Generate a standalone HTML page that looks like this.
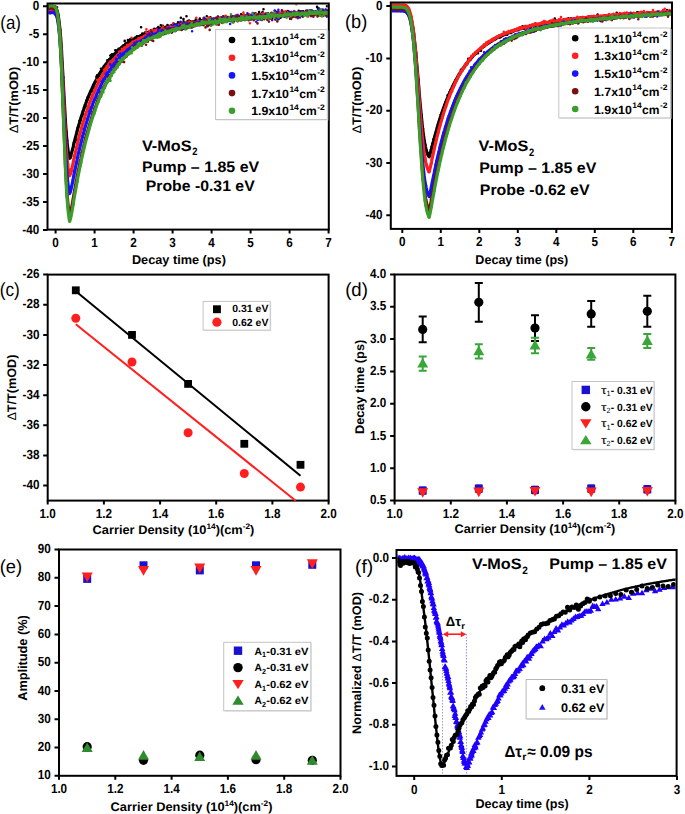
<!DOCTYPE html>
<html><head><meta charset="utf-8"><style>
html,body{margin:0;padding:0;background:#fff;}
body{width:685px;height:814px;overflow:hidden;}
svg{display:block;}
</style></head><body>
<svg width="685" height="814" viewBox="0 0 685 814" text-rendering="geometricPrecision" font-family='"Liberation Sans", sans-serif'>
<rect width="685" height="814" fill="#fff"/>
<defs><clipPath id="ca"><rect x="48.5" y="4.5" width="279.3" height="224.1"/></clipPath><clipPath id="cb"><rect x="391.8" y="3.5" width="279.2" height="224.4"/></clipPath><clipPath id="cf"><rect x="397.5" y="551" width="278.1" height="223.9"/></clipPath></defs>
<g clip-path="url(#ca)">
<path d="M45.9 6.3 46.2 6.3 46.6 6.3 47.0 6.3 47.4 6.3 47.8 6.3 48.2 6.3 48.6 6.3 49.0 6.3 49.4 6.3 49.8 6.3 50.1 6.3 50.5 6.3 50.9 6.3 51.3 6.3 51.7 6.3 52.1 6.4 52.5 6.4 52.9 6.4 53.3 6.5 53.6 6.6 54.0 6.7 54.4 6.8 54.8 7.1 55.2 7.4 55.6 7.8 56.0 8.3 56.4 9.0 56.8 9.9 57.2 11.0 57.6 12.4 57.9 14.1 58.3 16.2 58.7 18.7 59.1 21.6 59.5 25.1 59.9 29.0 60.3 33.5 60.7 38.4 61.1 43.9 61.5 49.9 61.8 56.3 62.2 63.0 62.6 70.1 63.0 77.3 63.4 84.7 63.8 92.0 64.2 99.2 64.6 106.3 65.0 113.0 65.3 119.4 65.7 125.4 66.1 130.9 66.5 135.9 66.9 140.3 67.3 144.3 67.7 147.7 68.1 150.6 68.5 153.1 68.9 155.2 69.2 157.0 69.6 158.3 70.0 157.6 70.4 156.7 70.8 155.5 71.2 154.3 71.6 152.9 72.0 151.4 72.4 149.9 72.8 148.3 73.2 146.8 73.5 145.2 73.9 143.6 74.3 142.0 74.7 140.5 75.1 138.9 75.5 137.4 75.9 135.9 76.3 134.4 76.7 132.9 77.1 131.4 77.4 130.0 77.8 128.6 78.2 127.2 78.6 125.8 79.0 124.4 79.4 123.1 79.8 121.8 80.2 120.5 80.6 119.2 81.0 117.9 81.3 116.6 81.7 115.4 82.1 114.2 82.5 113.0 82.9 111.8 83.3 110.6 83.7 109.5 84.1 108.4 84.5 107.2 84.8 106.1 85.2 105.0 85.6 104.0 86.0 102.9 86.4 101.9 86.8 100.8 87.2 99.8 87.6 98.8 88.0 97.8 88.4 96.9 88.8 95.9 89.1 94.9 89.5 94.0 89.9 93.1 90.3 92.2 90.7 91.3 91.1 90.4 91.5 89.5 91.9 88.7 92.3 87.8 92.7 87.0 93.0 86.1 93.4 85.3 93.8 84.5 94.2 83.7 94.6 82.9 95.0 82.2 95.4 81.4 95.8 80.7 96.2 79.9 96.6 79.2 96.9 78.5 97.3 77.7 97.7 77.0 98.1 76.3 98.5 75.7 98.9 75.0 99.3 74.3 99.7 73.7 100.1 73.0 100.5 72.4 100.8 71.7 101.2 71.1 101.6 70.5 102.0 69.9 102.4 69.3 102.8 68.7 103.2 68.1 103.6 67.5 104.0 67.0 104.3 66.4 104.7 65.9 105.1 65.3 105.5 64.8 105.9 64.2 106.3 63.7 106.7 63.2 107.1 62.7 107.5 62.2 107.9 61.7 108.2 61.2 108.6 60.7 109.0 60.2 109.4 59.7 109.8 59.3 110.2 58.8 110.6 58.4 111.0 57.9 111.4 57.5 111.8 57.0 112.2 56.6 112.5 56.2 112.9 55.7 113.3 55.3 113.7 54.9 114.1 54.5 114.5 54.1 114.9 53.7 115.3 53.3 115.7 52.9 116.1 52.6 116.4 52.2 116.8 51.8 117.2 51.4 117.6 51.1 118.0 50.7 118.4 50.4 118.8 50.0 119.2 49.7 119.6 49.3 120.0 49.0 120.3 48.7 120.7 48.3 121.1 48.0 121.5 47.7 121.9 47.4 122.3 47.0 122.7 46.7 123.1 46.4 123.5 46.1 123.8 45.8 124.2 45.5 124.6 45.2 125.0 45.0 125.4 44.7 125.8 44.4 126.2 44.1 126.6 43.8 127.0 43.6 127.4 43.3 127.8 43.0 128.1 42.8 128.5 42.5 128.9 42.3 129.3 42.0 129.7 41.8 130.1 41.5 130.5 41.3 130.9 41.0 131.3 40.8 131.7 40.5 132.0 40.3 132.4 40.1 132.8 39.9 133.2 39.6 133.6 39.4 134.0 39.2 134.4 39.0 134.8 38.8 135.2 38.5 135.6 38.3 135.9 38.1 136.3 37.9 136.7 37.7 137.1 37.5 137.5 37.3 137.9 37.1 138.3 36.9 138.7 36.7 139.1 36.5 139.4 36.3 139.8 36.2 140.2 36.0 140.6 35.8 141.0 35.6 141.4 35.4 141.8 35.3 142.2 35.1 142.6 34.9 143.0 34.7 143.3 34.6 143.7 34.4 144.1 34.2 144.5 34.1 144.9 33.9 145.3 33.7 145.7 33.6 146.1 33.4 146.5 33.3 146.9 33.1 147.2 33.0 147.6 32.8 148.0 32.7 148.4 32.5 148.8 32.4 149.2 32.2 149.6 32.1 150.0 31.9 150.4 31.8 150.8 31.7 151.2 31.5 151.5 31.4 151.9 31.2 152.3 31.1 152.7 31.0 153.1 30.8 153.5 30.7 153.9 30.6 154.3 30.5 154.7 30.3 155.1 30.2 155.4 30.1 155.8 30.0 156.2 29.8 156.6 29.7 157.0 29.6 157.4 29.5 157.8 29.4 158.2 29.2 158.6 29.1 158.9 29.0 159.3 28.9 159.7 28.8 160.1 28.7 160.5 28.6 160.9 28.5 161.3 28.3 161.7 28.2 162.1 28.1 162.5 28.0 162.8 27.9 163.2 27.8 163.6 27.7 164.0 27.6 164.4 27.5 164.8 27.4 165.2 27.3 165.6 27.2 166.0 27.1 166.4 27.0 166.8 26.9 167.1 26.8 167.5 26.7 167.9 26.6 168.3 26.5 168.7 26.5 169.1 26.4 169.5 26.3 169.9 26.2 170.3 26.1 170.7 26.0 171.0 25.9 171.4 25.8 171.8 25.7 172.2 25.7 172.6 25.6 173.0 25.5 173.4 25.4 173.8 25.3 174.2 25.2 174.6 25.2 174.9 25.1 175.3 25.0 175.7 24.9 176.1 24.8 176.5 24.8 176.9 24.7 177.3 24.6 177.7 24.5 178.1 24.5 178.4 24.4 178.8 24.3 179.2 24.2 179.6 24.2 180.0 24.1 180.4 24.0 180.8 23.9 181.2 23.9 181.6 23.8 182.0 23.7 182.3 23.6 182.7 23.6 183.1 23.5 183.5 23.4 183.9 23.4 184.3 23.3 184.7 23.2 185.1 23.2 185.5 23.1 185.9 23.0 186.2 23.0 186.6 22.9 187.0 22.8 187.4 22.8 187.8 22.7 188.2 22.6 188.6 22.6 189.0 22.5 189.4 22.5 189.8 22.4 190.2 22.3 190.5 22.3 190.9 22.2 191.3 22.2 191.7 22.1 192.1 22.0 192.5 22.0 192.9 21.9 193.3 21.9 193.7 21.8 194.1 21.7 194.4 21.7 194.8 21.6 195.2 21.6 195.6 21.5 196.0 21.5 196.4 21.4 196.8 21.3 197.2 21.3 197.6 21.2 197.9 21.2 198.3 21.1 198.7 21.1 199.1 21.0 199.5 21.0 199.9 20.9 200.3 20.9 200.7 20.8 201.1 20.8 201.5 20.7 201.8 20.7 202.2 20.6 202.6 20.5 203.0 20.5 203.4 20.4 203.8 20.4 204.2 20.3 204.6 20.3 205.0 20.2 205.4 20.2 205.7 20.2 206.1 20.1 206.5 20.1 206.9 20.0 207.3 20.0 207.7 19.9 208.1 19.9 208.5 19.8 208.9 19.8 209.3 19.7 209.7 19.7 210.0 19.6 210.4 19.6 210.8 19.5 211.2 19.5 211.6 19.5 212.0 19.4 212.4 19.4 212.8 19.3 213.2 19.3 213.5 19.2 213.9 19.2 214.3 19.1 214.7 19.1 215.1 19.1 215.5 19.0 215.9 19.0 216.3 18.9 216.7 18.9 217.1 18.8 217.5 18.8 217.8 18.8 218.2 18.7 218.6 18.7 219.0 18.6 219.4 18.6 219.8 18.6 220.2 18.5 220.6 18.5 221.0 18.4 221.3 18.4 221.7 18.4 222.1 18.3 222.5 18.3 222.9 18.2 223.3 18.2 223.7 18.2 224.1 18.1 224.5 18.1 224.9 18.0 225.3 18.0 225.6 18.0 226.0 17.9 226.4 17.9 226.8 17.9 227.2 17.8 227.6 17.8 228.0 17.7 228.4 17.7 228.8 17.7 229.2 17.6 229.5 17.6 229.9 17.6 230.3 17.5 230.7 17.5 231.1 17.4 231.5 17.4 231.9 17.4 232.3 17.3 232.7 17.3 233.0 17.3 233.4 17.2 233.8 17.2 234.2 17.2 234.6 17.1 235.0 17.1 235.4 17.1 235.8 17.0 236.2 17.0 236.6 17.0 237.0 16.9 237.3 16.9 237.7 16.9 238.1 16.8 238.5 16.8 238.9 16.8 239.3 16.7 239.7 16.7 240.1 16.7 240.5 16.6 240.8 16.6 241.2 16.6 241.6 16.5 242.0 16.5 242.4 16.5 242.8 16.4 243.2 16.4 243.6 16.4 244.0 16.3 244.4 16.3 244.8 16.3 245.1 16.2 245.5 16.2 245.9 16.2 246.3 16.2 246.7 16.1 247.1 16.1 247.5 16.1 247.9 16.0 248.3 16.0 248.7 16.0 249.0 15.9 249.4 15.9 249.8 15.9 250.2 15.9 250.6 15.8 251.0 15.8 251.4 15.8 251.8 15.7 252.2 15.7 252.5 15.7 252.9 15.7 253.3 15.6 253.7 15.6 254.1 15.6 254.5 15.5 254.9 15.5 255.3 15.5 255.7 15.5 256.1 15.4 256.5 15.4 256.8 15.4 257.2 15.3 257.6 15.3 258.0 15.3 258.4 15.3 258.8 15.2 259.2 15.2 259.6 15.2 260.0 15.2 260.4 15.1 260.7 15.1 261.1 15.1 261.5 15.0 261.9 15.0 262.3 15.0 262.7 15.0 263.1 14.9 263.5 14.9 263.9 14.9 264.3 14.9 264.6 14.8 265.0 14.8 265.4 14.8 265.8 14.8 266.2 14.7 266.6 14.7 267.0 14.7 267.4 14.7 267.8 14.6 268.2 14.6 268.5 14.6 268.9 14.6 269.3 14.5 269.7 14.5 270.1 14.5 270.5 14.5 270.9 14.4 271.3 14.4 271.7 14.4 272.1 14.4 272.4 14.3 272.8 14.3 273.2 14.3 273.6 14.3 274.0 14.2 274.4 14.2 274.8 14.2 275.2 14.2 275.6 14.1 276.0 14.1 276.3 14.1 276.7 14.1 277.1 14.0 277.5 14.0 277.9 14.0 278.3 14.0 278.7 14.0 279.1 13.9 279.5 13.9 279.9 13.9 280.2 13.9 280.6 13.8 281.0 13.8 281.4 13.8 281.8 13.8 282.2 13.7 282.6 13.7 283.0 13.7 283.4 13.7 283.8 13.7 284.1 13.6 284.5 13.6 284.9 13.6 285.3 13.6 285.7 13.6 286.1 13.5 286.5 13.5 286.9 13.5 287.3 13.5 287.7 13.4 288.0 13.4 288.4 13.4 288.8 13.4 289.2 13.4 289.6 13.3 290.0 13.3 290.4 13.3 290.8 13.3 291.2 13.3 291.6 13.2 291.9 13.2 292.3 13.2 292.7 13.2 293.1 13.2 293.5 13.1 293.9 13.1 294.3 13.1 294.7 13.1 295.1 13.1 295.5 13.0 295.8 13.0 296.2 13.0 296.6 13.0 297.0 13.0 297.4 12.9 297.8 12.9 298.2 12.9 298.6 12.9 299.0 12.9 299.4 12.8 299.7 12.8 300.1 12.8 300.5 12.8 300.9 12.8 301.3 12.7 301.7 12.7 302.1 12.7 302.5 12.7 302.9 12.7 303.3 12.6 303.6 12.6 304.0 12.6 304.4 12.6 304.8 12.6 305.2 12.5 305.6 12.5 306.0 12.5 306.4 12.5 306.8 12.5 307.2 12.5 307.5 12.4 307.9 12.4 308.3 12.4 308.7 12.4 309.1 12.4 309.5 12.3 309.9 12.3 310.3 12.3 310.7 12.3 311.1 12.3 311.4 12.3 311.8 12.2 312.2 12.2 312.6 12.2 313.0 12.2 313.4 12.2 313.8 12.2 314.2 12.1 314.6 12.1 315.0 12.1 315.3 12.1 315.7 12.1 316.1 12.1 316.5 12.0 316.9 12.0 317.3 12.0 317.7 12.0 318.1 12.0 318.5 11.9 318.9 11.9 319.2 11.9 319.6 11.9 320.0 11.9 320.4 11.9 320.8 11.8 321.2 11.8 321.6 11.8 322.0 11.8 322.4 11.8 322.8 11.8 323.1 11.8 323.5 11.7 323.9 11.7 324.3 11.7 324.7 11.7 325.1 11.7 325.5 11.7 325.9 11.6 326.3 11.6 326.7 11.6 327.0 11.6 327.4 11.6 327.8 11.6 328.2 11.5 328.6 11.5 329.0 11.5 329.4 11.5 329.8 11.5 330.2 11.5 330.6 11.5" stroke="#000000" stroke-width="3.20" fill="none" stroke-linejoin="round"/>
<path d="M45.7 5.4h0M46.6 5.3h0M47.0 7.0h0M48.1 7.3h0M49.1 6.3h0M50.1 6.3h0M50.9 10.4h0M51.1 6.4h0M52.0 6.5h0M52.7 6.3h0M53.5 6.5h0M54.2 10.6h0M55.1 6.0h0M56.2 8.4h0M56.9 9.2h0M57.6 12.7h0M58.4 15.2h0M59.3 26.7h0M60.2 29.8h0M60.9 37.9h0M61.2 49.1h0M62.1 62.5h0M63.3 77.4h0M63.9 92.8h0M64.2 106.5h0M65.7 119.8h0M66.4 131.5h0M67.2 140.5h0M67.6 148.2h0M68.8 153.9h0M69.5 156.2h0M70.4 157.9h0M71.2 156.2h0M71.8 152.8h0M72.6 149.9h0M73.2 146.7h0M73.7 143.2h0M74.7 141.5h0M75.2 140.4h0M76.5 140.1h0M76.8 131.6h0M77.6 127.9h0M78.7 125.9h0M79.5 120.8h0M80.0 120.9h0M80.8 117.9h0M82.1 115.4h0M82.9 111.4h0M83.2 114.7h0M84.0 107.3h0M85.0 104.7h0M85.6 106.6h0M86.5 100.2h0M87.4 99.5h0M87.6 97.3h0M89.1 95.3h0M89.2 94.2h0M90.6 91.5h0M91.1 91.1h0M92.2 89.1h0M92.5 90.8h0M93.6 87.1h0M94.3 84.5h0M95.0 81.8h0M95.4 81.9h0M96.4 76.7h0M97.1 75.3h0M98.4 76.5h0M99.0 73.8h0M100.0 74.2h0M100.2 72.1h0M101.0 68.7h0M101.9 69.8h0M102.6 70.8h0M103.9 66.1h0M104.4 68.0h0M105.4 65.0h0M106.2 64.0h0M106.6 64.4h0M107.3 60.3h0M108.3 60.0h0M109.0 59.6h0M109.4 59.8h0M110.3 55.5h0M111.2 54.9h0M112.1 54.3h0M113.1 55.0h0M114.0 54.2h0M114.3 57.3h0M115.3 50.2h0M116.3 54.8h0M117.0 50.4h0M117.3 51.8h0M118.5 48.9h0M119.4 50.9h0M120.2 48.6h0M120.5 49.9h0M121.4 47.4h0M122.0 46.7h0M122.9 47.1h0M123.6 45.2h0M124.7 40.9h0M125.5 43.6h0M125.9 44.7h0M126.8 43.0h0M127.9 40.0h0M128.4 42.3h0M129.6 42.0h0M130.1 39.2h0M130.6 39.3h0M131.5 40.0h0M132.7 39.3h0M133.2 40.3h0M134.2 39.7h0M134.8 37.7h0M135.9 40.4h0M136.0 37.5h0M136.9 36.2h0M137.8 36.7h0M138.6 39.2h0M139.2 36.6h0M140.5 36.0h0M141.1 27.2h0M141.5 37.1h0M142.3 33.6h0M143.3 34.7h0M144.5 33.6h0M145.0 32.6h0M146.0 33.4h0M146.3 31.8h0M147.6 35.0h0M148.4 34.4h0M148.8 32.2h0M149.4 34.5h0M150.1 32.2h0M151.1 30.2h0M151.9 30.5h0M152.4 30.5h0M153.7 34.3h0M154.2 28.7h0M155.1 31.3h0M155.8 31.2h0M156.8 28.6h0M157.8 28.8h0M158.3 27.0h0M159.2 29.5h0M160.0 28.6h0M160.8 25.3h0M161.1 30.5h0M162.1 27.2h0M162.8 25.8h0M164.0 29.0h0M164.7 33.9h0M165.0 27.7h0M165.8 28.4h0M167.0 27.3h0M167.5 25.1h0M168.5 30.8h0M168.8 27.9h0M169.6 26.9h0M170.9 26.0h0M171.1 27.9h0M172.2 27.8h0M173.0 25.5h0M173.6 23.5h0M174.8 25.2h0M175.2 25.8h0M175.7 26.6h0M177.1 25.1h0M178.0 22.3h0M178.6 27.5h0M179.1 23.5h0M179.9 23.0h0M180.9 17.7h0M181.9 22.3h0M182.7 23.9h0M183.5 19.0h0M183.5 21.3h0M184.6 23.4h0M185.2 24.1h0M186.5 16.2h0M187.2 21.5h0M187.6 23.3h0M188.4 20.8h0M189.0 20.6h0M189.9 21.0h0M191.0 22.5h0M191.6 23.1h0M192.2 23.2h0M193.6 22.1h0M193.7 22.8h0M195.0 23.2h0M195.8 19.4h0M196.3 21.4h0M197.3 22.6h0M198.0 21.0h0M199.0 21.0h0M199.8 18.5h0M200.0 19.7h0M201.4 21.3h0M201.6 22.6h0M202.6 21.6h0M203.4 18.9h0M204.1 17.9h0M204.6 19.4h0M205.6 19.4h0M206.8 16.3h0M207.5 26.0h0M208.4 21.9h0M209.0 19.7h0M209.4 20.0h0M210.4 17.3h0M211.0 19.5h0M211.9 23.9h0M212.5 20.6h0M213.2 18.8h0M214.6 19.0h0M214.9 19.0h0M216.0 18.6h0M216.3 18.0h0M217.5 21.4h0M217.9 16.5h0M219.0 23.6h0M220.1 19.7h0M220.6 18.1h0M221.2 20.1h0M222.0 17.9h0M222.7 19.2h0M223.9 19.0h0M224.4 19.0h0M225.6 18.8h0M226.1 20.2h0M226.5 18.3h0M227.7 19.8h0M228.1 17.1h0M228.9 17.7h0M230.3 18.0h0M230.7 17.3h0M231.1 16.2h0M232.6 16.5h0M233.2 17.0h0M233.6 20.8h0M234.3 17.8h0M235.6 15.8h0M236.3 17.1h0M237.2 15.3h0M237.7 18.0h0M238.8 16.8h0M239.3 17.6h0M240.3 16.6h0M241.0 14.2h0M241.5 17.5h0M242.1 17.2h0M243.4 14.9h0M243.8 18.0h0M244.8 16.6h0M245.7 15.4h0M246.4 16.1h0M247.0 17.4h0M247.8 15.6h0M248.3 15.5h0M249.4 16.3h0M250.3 15.1h0M251.4 16.8h0M251.8 15.3h0M252.6 17.2h0M253.0 14.4h0M254.3 15.3h0M255.3 13.3h0M255.8 16.3h0M256.6 15.2h0M257.5 14.7h0M258.0 14.6h0M259.1 12.1h0M259.3 18.2h0M260.7 14.9h0M261.5 14.9h0M261.9 13.2h0M262.6 12.1h0M263.5 9.3h0M264.5 16.6h0M264.7 14.7h0M265.7 13.7h0M266.2 16.2h0M267.6 13.6h0M268.2 13.6h0M269.0 16.5h0M270.1 15.4h0M270.3 16.4h0M271.3 13.1h0M272.2 18.7h0M273.0 15.7h0M274.0 15.7h0M274.5 14.9h0M275.1 11.1h0M276.2 16.4h0M276.6 16.0h0M277.2 12.0h0M278.5 19.2h0M278.8 12.6h0M280.2 13.0h0M280.6 17.8h0M281.2 14.0h0M282.5 12.2h0M282.7 15.1h0M283.9 12.6h0M284.2 12.8h0M285.1 13.0h0M285.7 11.8h0M286.8 13.5h0M287.8 11.1h0M288.7 12.7h0M289.0 13.7h0M290.1 18.8h0M291.1 12.2h0M291.5 12.9h0M292.4 14.0h0M292.8 14.9h0M293.7 15.1h0M295.0 14.8h0M295.7 16.3h0M296.5 13.8h0M297.2 15.3h0M297.7 15.2h0M298.7 10.9h0M299.7 14.6h0M299.9 11.2h0M300.7 11.6h0M301.3 14.7h0M302.5 11.4h0M303.1 11.4h0M304.0 13.0h0M305.0 13.6h0M305.7 13.3h0M306.4 13.4h0M307.4 12.2h0M307.9 11.3h0M309.0 12.5h0M309.7 12.7h0M310.0 13.4h0M311.2 10.7h0M311.7 10.8h0M312.4 11.7h0M313.2 15.3h0M314.3 14.5h0M314.7 14.5h0M315.5 12.5h0M316.4 11.4h0M317.1 6.9h0M318.0 8.6h0M319.0 8.6h0M319.3 10.1h0M320.8 12.0h0M321.5 11.6h0M322.3 11.1h0M322.4 14.4h0M323.5 14.1h0M324.2 13.0h0M325.2 11.4h0M325.7 10.2h0M327.0 6.3h0M327.1 12.4h0M328.6 12.3h0M329.0 14.2h0M329.9 10.8h0M330.3 13.3h0" stroke="#000000" stroke-width="2.6" stroke-linecap="round" fill="none"/>
<path d="M45.9 9.7 46.2 9.7 46.6 9.7 47.0 9.7 47.4 9.7 47.8 9.7 48.2 9.7 48.6 9.7 49.0 9.7 49.4 9.7 49.8 9.7 50.1 9.7 50.5 9.7 50.9 9.7 51.3 9.7 51.7 9.7 52.1 9.7 52.5 9.7 52.9 9.8 53.3 9.8 53.6 9.9 54.0 10.1 54.4 10.2 54.8 10.5 55.2 10.8 55.6 11.2 56.0 11.8 56.4 12.6 56.8 13.5 57.2 14.8 57.6 16.3 57.9 18.2 58.3 20.5 58.7 23.2 59.1 26.4 59.5 30.2 59.9 34.5 60.3 39.3 60.7 44.8 61.1 50.8 61.5 57.3 61.8 64.3 62.2 71.7 62.6 79.3 63.0 87.3 63.4 95.3 63.8 103.3 64.2 111.2 64.6 118.9 65.0 126.3 65.3 133.3 65.7 139.8 66.1 145.8 66.5 151.2 66.9 156.1 67.3 160.4 67.7 164.1 68.1 167.4 68.5 170.1 68.9 172.4 69.2 174.3 69.6 175.8 70.0 174.9 70.4 173.8 70.8 172.5 71.2 171.1 71.6 169.5 72.0 167.9 72.4 166.1 72.8 164.4 73.2 162.6 73.5 160.8 73.9 159.0 74.3 157.3 74.7 155.5 75.1 153.8 75.5 152.0 75.9 150.3 76.3 148.6 76.7 147.0 77.1 145.3 77.4 143.7 77.8 142.1 78.2 140.6 78.6 139.0 79.0 137.5 79.4 136.0 79.8 134.5 80.2 133.0 80.6 131.6 81.0 130.1 81.3 128.7 81.7 127.4 82.1 126.0 82.5 124.6 82.9 123.3 83.3 122.0 83.7 120.7 84.1 119.4 84.5 118.2 84.8 116.9 85.2 115.7 85.6 114.5 86.0 113.3 86.4 112.1 86.8 111.0 87.2 109.8 87.6 108.7 88.0 107.6 88.4 106.5 88.8 105.4 89.1 104.4 89.5 103.3 89.9 102.3 90.3 101.3 90.7 100.3 91.1 99.3 91.5 98.3 91.9 97.3 92.3 96.4 92.7 95.4 93.0 94.5 93.4 93.6 93.8 92.7 94.2 91.8 94.6 90.9 95.0 90.0 95.4 89.2 95.8 88.3 96.2 87.5 96.6 86.7 96.9 85.9 97.3 85.1 97.7 84.3 98.1 83.5 98.5 82.7 98.9 82.0 99.3 81.2 99.7 80.5 100.1 79.8 100.5 79.1 100.8 78.3 101.2 77.6 101.6 77.0 102.0 76.3 102.4 75.6 102.8 74.9 103.2 74.3 103.6 73.6 104.0 73.0 104.3 72.4 104.7 71.8 105.1 71.2 105.5 70.5 105.9 70.0 106.3 69.4 106.7 68.8 107.1 68.2 107.5 67.6 107.9 67.1 108.2 66.5 108.6 66.0 109.0 65.5 109.4 64.9 109.8 64.4 110.2 63.9 110.6 63.4 111.0 62.9 111.4 62.4 111.8 61.9 112.2 61.4 112.5 60.9 112.9 60.5 113.3 60.0 113.7 59.5 114.1 59.1 114.5 58.6 114.9 58.2 115.3 57.7 115.7 57.3 116.1 56.9 116.4 56.5 116.8 56.1 117.2 55.6 117.6 55.2 118.0 54.8 118.4 54.4 118.8 54.1 119.2 53.7 119.6 53.3 120.0 52.9 120.3 52.5 120.7 52.2 121.1 51.8 121.5 51.5 121.9 51.1 122.3 50.8 122.7 50.4 123.1 50.1 123.5 49.7 123.8 49.4 124.2 49.1 124.6 48.7 125.0 48.4 125.4 48.1 125.8 47.8 126.2 47.5 126.6 47.2 127.0 46.9 127.4 46.6 127.8 46.3 128.1 46.0 128.5 45.7 128.9 45.4 129.3 45.1 129.7 44.9 130.1 44.6 130.5 44.3 130.9 44.0 131.3 43.8 131.7 43.5 132.0 43.3 132.4 43.0 132.8 42.8 133.2 42.5 133.6 42.3 134.0 42.0 134.4 41.8 134.8 41.5 135.2 41.3 135.6 41.1 135.9 40.8 136.3 40.6 136.7 40.4 137.1 40.1 137.5 39.9 137.9 39.7 138.3 39.5 138.7 39.3 139.1 39.1 139.4 38.9 139.8 38.7 140.2 38.4 140.6 38.2 141.0 38.0 141.4 37.8 141.8 37.7 142.2 37.5 142.6 37.3 143.0 37.1 143.3 36.9 143.7 36.7 144.1 36.5 144.5 36.3 144.9 36.2 145.3 36.0 145.7 35.8 146.1 35.6 146.5 35.5 146.9 35.3 147.2 35.1 147.6 35.0 148.0 34.8 148.4 34.6 148.8 34.5 149.2 34.3 149.6 34.1 150.0 34.0 150.4 33.8 150.8 33.7 151.2 33.5 151.5 33.4 151.9 33.2 152.3 33.1 152.7 32.9 153.1 32.8 153.5 32.6 153.9 32.5 154.3 32.4 154.7 32.2 155.1 32.1 155.4 31.9 155.8 31.8 156.2 31.7 156.6 31.5 157.0 31.4 157.4 31.3 157.8 31.1 158.2 31.0 158.6 30.9 158.9 30.8 159.3 30.6 159.7 30.5 160.1 30.4 160.5 30.3 160.9 30.2 161.3 30.0 161.7 29.9 162.1 29.8 162.5 29.7 162.8 29.6 163.2 29.5 163.6 29.3 164.0 29.2 164.4 29.1 164.8 29.0 165.2 28.9 165.6 28.8 166.0 28.7 166.4 28.6 166.8 28.5 167.1 28.4 167.5 28.3 167.9 28.2 168.3 28.1 168.7 28.0 169.1 27.9 169.5 27.8 169.9 27.7 170.3 27.6 170.7 27.5 171.0 27.4 171.4 27.3 171.8 27.2 172.2 27.1 172.6 27.0 173.0 26.9 173.4 26.8 173.8 26.7 174.2 26.6 174.6 26.5 174.9 26.5 175.3 26.4 175.7 26.3 176.1 26.2 176.5 26.1 176.9 26.0 177.3 25.9 177.7 25.9 178.1 25.8 178.4 25.7 178.8 25.6 179.2 25.5 179.6 25.5 180.0 25.4 180.4 25.3 180.8 25.2 181.2 25.1 181.6 25.1 182.0 25.0 182.3 24.9 182.7 24.8 183.1 24.8 183.5 24.7 183.9 24.6 184.3 24.5 184.7 24.5 185.1 24.4 185.5 24.3 185.9 24.2 186.2 24.2 186.6 24.1 187.0 24.0 187.4 24.0 187.8 23.9 188.2 23.8 188.6 23.7 189.0 23.7 189.4 23.6 189.8 23.5 190.2 23.5 190.5 23.4 190.9 23.3 191.3 23.3 191.7 23.2 192.1 23.1 192.5 23.1 192.9 23.0 193.3 23.0 193.7 22.9 194.1 22.8 194.4 22.8 194.8 22.7 195.2 22.6 195.6 22.6 196.0 22.5 196.4 22.5 196.8 22.4 197.2 22.3 197.6 22.3 197.9 22.2 198.3 22.2 198.7 22.1 199.1 22.0 199.5 22.0 199.9 21.9 200.3 21.9 200.7 21.8 201.1 21.8 201.5 21.7 201.8 21.7 202.2 21.6 202.6 21.5 203.0 21.5 203.4 21.4 203.8 21.4 204.2 21.3 204.6 21.3 205.0 21.2 205.4 21.2 205.7 21.1 206.1 21.1 206.5 21.0 206.9 21.0 207.3 20.9 207.7 20.9 208.1 20.8 208.5 20.8 208.9 20.7 209.3 20.7 209.7 20.6 210.0 20.6 210.4 20.5 210.8 20.5 211.2 20.4 211.6 20.4 212.0 20.3 212.4 20.3 212.8 20.2 213.2 20.2 213.5 20.1 213.9 20.1 214.3 20.0 214.7 20.0 215.1 19.9 215.5 19.9 215.9 19.8 216.3 19.8 216.7 19.7 217.1 19.7 217.5 19.7 217.8 19.6 218.2 19.6 218.6 19.5 219.0 19.5 219.4 19.4 219.8 19.4 220.2 19.3 220.6 19.3 221.0 19.3 221.3 19.2 221.7 19.2 222.1 19.1 222.5 19.1 222.9 19.0 223.3 19.0 223.7 19.0 224.1 18.9 224.5 18.9 224.9 18.8 225.3 18.8 225.6 18.8 226.0 18.7 226.4 18.7 226.8 18.6 227.2 18.6 227.6 18.6 228.0 18.5 228.4 18.5 228.8 18.4 229.2 18.4 229.5 18.4 229.9 18.3 230.3 18.3 230.7 18.2 231.1 18.2 231.5 18.2 231.9 18.1 232.3 18.1 232.7 18.1 233.0 18.0 233.4 18.0 233.8 17.9 234.2 17.9 234.6 17.9 235.0 17.8 235.4 17.8 235.8 17.8 236.2 17.7 236.6 17.7 237.0 17.6 237.3 17.6 237.7 17.6 238.1 17.5 238.5 17.5 238.9 17.5 239.3 17.4 239.7 17.4 240.1 17.4 240.5 17.3 240.8 17.3 241.2 17.3 241.6 17.2 242.0 17.2 242.4 17.2 242.8 17.1 243.2 17.1 243.6 17.1 244.0 17.0 244.4 17.0 244.8 17.0 245.1 16.9 245.5 16.9 245.9 16.9 246.3 16.8 246.7 16.8 247.1 16.8 247.5 16.7 247.9 16.7 248.3 16.7 248.7 16.6 249.0 16.6 249.4 16.6 249.8 16.5 250.2 16.5 250.6 16.5 251.0 16.4 251.4 16.4 251.8 16.4 252.2 16.3 252.5 16.3 252.9 16.3 253.3 16.3 253.7 16.2 254.1 16.2 254.5 16.2 254.9 16.1 255.3 16.1 255.7 16.1 256.1 16.0 256.5 16.0 256.8 16.0 257.2 15.9 257.6 15.9 258.0 15.9 258.4 15.9 258.8 15.8 259.2 15.8 259.6 15.8 260.0 15.7 260.4 15.7 260.7 15.7 261.1 15.7 261.5 15.6 261.9 15.6 262.3 15.6 262.7 15.5 263.1 15.5 263.5 15.5 263.9 15.5 264.3 15.4 264.6 15.4 265.0 15.4 265.4 15.3 265.8 15.3 266.2 15.3 266.6 15.3 267.0 15.2 267.4 15.2 267.8 15.2 268.2 15.2 268.5 15.1 268.9 15.1 269.3 15.1 269.7 15.1 270.1 15.0 270.5 15.0 270.9 15.0 271.3 14.9 271.7 14.9 272.1 14.9 272.4 14.9 272.8 14.8 273.2 14.8 273.6 14.8 274.0 14.8 274.4 14.7 274.8 14.7 275.2 14.7 275.6 14.7 276.0 14.6 276.3 14.6 276.7 14.6 277.1 14.6 277.5 14.5 277.9 14.5 278.3 14.5 278.7 14.5 279.1 14.4 279.5 14.4 279.9 14.4 280.2 14.4 280.6 14.3 281.0 14.3 281.4 14.3 281.8 14.3 282.2 14.2 282.6 14.2 283.0 14.2 283.4 14.2 283.8 14.2 284.1 14.1 284.5 14.1 284.9 14.1 285.3 14.1 285.7 14.0 286.1 14.0 286.5 14.0 286.9 14.0 287.3 13.9 287.7 13.9 288.0 13.9 288.4 13.9 288.8 13.9 289.2 13.8 289.6 13.8 290.0 13.8 290.4 13.8 290.8 13.7 291.2 13.7 291.6 13.7 291.9 13.7 292.3 13.7 292.7 13.6 293.1 13.6 293.5 13.6 293.9 13.6 294.3 13.5 294.7 13.5 295.1 13.5 295.5 13.5 295.8 13.5 296.2 13.4 296.6 13.4 297.0 13.4 297.4 13.4 297.8 13.4 298.2 13.3 298.6 13.3 299.0 13.3 299.4 13.3 299.7 13.2 300.1 13.2 300.5 13.2 300.9 13.2 301.3 13.2 301.7 13.1 302.1 13.1 302.5 13.1 302.9 13.1 303.3 13.1 303.6 13.0 304.0 13.0 304.4 13.0 304.8 13.0 305.2 13.0 305.6 12.9 306.0 12.9 306.4 12.9 306.8 12.9 307.2 12.9 307.5 12.8 307.9 12.8 308.3 12.8 308.7 12.8 309.1 12.8 309.5 12.8 309.9 12.7 310.3 12.7 310.7 12.7 311.1 12.7 311.4 12.7 311.8 12.6 312.2 12.6 312.6 12.6 313.0 12.6 313.4 12.6 313.8 12.5 314.2 12.5 314.6 12.5 315.0 12.5 315.3 12.5 315.7 12.5 316.1 12.4 316.5 12.4 316.9 12.4 317.3 12.4 317.7 12.4 318.1 12.3 318.5 12.3 318.9 12.3 319.2 12.3 319.6 12.3 320.0 12.3 320.4 12.2 320.8 12.2 321.2 12.2 321.6 12.2 322.0 12.2 322.4 12.1 322.8 12.1 323.1 12.1 323.5 12.1 323.9 12.1 324.3 12.1 324.7 12.0 325.1 12.0 325.5 12.0 325.9 12.0 326.3 12.0 326.7 12.0 327.0 11.9 327.4 11.9 327.8 11.9 328.2 11.9 328.6 11.9 329.0 11.9 329.4 11.8 329.8 11.8 330.2 11.8 330.6 11.8" stroke="#ff1f1f" stroke-width="3.20" fill="none" stroke-linejoin="round"/>
<path d="M46.1 8.9h0M46.9 9.3h0M47.1 9.6h0M48.4 10.3h0M48.8 11.2h0M49.9 8.6h0M50.4 13.1h0M51.6 9.9h0M52.0 10.8h0M52.8 9.5h0M53.3 10.1h0M54.0 10.4h0M55.2 10.5h0M55.8 11.7h0M57.0 12.1h0M57.4 16.5h0M58.2 20.3h0M59.3 26.9h0M59.8 34.0h0M61.1 45.1h0M61.4 57.3h0M62.5 71.9h0M63.0 88.2h0M63.9 102.9h0M64.6 118.6h0M65.5 133.5h0M66.0 145.6h0M66.7 156.1h0M68.1 164.2h0M68.7 170.4h0M69.5 175.0h0M69.8 174.7h0M71.1 173.3h0M71.3 169.2h0M72.7 170.6h0M73.1 162.4h0M73.7 160.5h0M74.4 155.5h0M75.6 152.1h0M76.1 147.7h0M76.9 146.2h0M77.6 144.7h0M78.6 138.4h0M79.1 134.7h0M80.0 133.2h0M81.0 130.0h0M82.1 126.9h0M82.4 123.5h0M83.0 123.3h0M84.3 119.1h0M84.5 115.7h0M85.6 114.1h0M86.5 112.3h0M87.4 110.5h0M88.0 109.9h0M88.9 108.2h0M89.9 102.8h0M90.1 102.6h0M91.0 98.4h0M91.7 95.5h0M92.3 95.4h0M93.8 92.3h0M94.3 91.7h0M95.2 89.5h0M95.9 88.3h0M96.9 85.9h0M97.2 79.7h0M98.2 81.8h0M98.7 80.8h0M99.5 79.2h0M100.7 81.3h0M101.4 81.4h0M102.3 77.4h0M102.8 73.4h0M103.7 74.4h0M104.2 69.6h0M105.4 68.4h0M106.0 68.9h0M106.5 66.2h0M107.5 65.7h0M108.5 63.9h0M109.4 62.9h0M109.4 62.6h0M110.4 61.4h0M111.5 62.2h0M112.3 63.0h0M113.2 62.2h0M113.9 62.9h0M114.7 59.8h0M115.3 57.1h0M116.3 57.4h0M117.2 55.9h0M117.3 54.6h0M118.3 54.9h0M119.2 51.5h0M119.7 53.5h0M120.9 54.4h0M121.8 48.8h0M122.0 53.8h0M122.9 49.2h0M124.1 47.5h0M125.0 48.2h0M125.3 47.2h0M126.2 50.6h0M127.0 44.9h0M127.8 47.1h0M128.8 46.1h0M129.6 44.3h0M130.5 43.9h0M130.9 46.9h0M131.5 37.7h0M132.5 41.6h0M133.3 43.9h0M133.9 43.7h0M135.1 48.8h0M135.3 41.1h0M136.6 42.6h0M137.0 41.2h0M138.1 40.4h0M138.5 38.2h0M139.3 38.2h0M139.9 41.2h0M140.9 39.0h0M141.8 41.2h0M142.7 38.0h0M143.4 37.8h0M144.2 35.8h0M144.8 39.1h0M145.9 32.2h0M146.4 29.3h0M147.4 34.0h0M148.1 33.0h0M148.9 33.0h0M149.6 30.8h0M150.3 34.2h0M151.5 35.4h0M152.0 34.4h0M152.3 29.8h0M153.5 36.9h0M154.6 30.2h0M155.1 31.5h0M156.2 30.1h0M156.7 29.5h0M157.5 30.3h0M158.5 32.2h0M159.0 31.8h0M159.8 32.9h0M160.6 32.5h0M161.6 29.4h0M162.2 27.9h0M163.0 26.5h0M163.8 30.6h0M164.7 29.9h0M165.4 29.5h0M165.6 30.4h0M167.0 27.2h0M167.3 29.8h0M168.2 27.7h0M168.7 26.9h0M170.2 27.7h0M170.3 26.4h0M171.3 27.9h0M171.9 28.3h0M172.9 23.7h0M174.0 28.2h0M174.5 29.3h0M175.5 26.6h0M176.3 25.9h0M176.8 26.0h0M178.0 28.3h0M178.4 24.5h0M178.9 28.6h0M179.9 25.3h0M181.0 24.0h0M181.7 25.9h0M182.3 22.4h0M183.1 24.3h0M184.1 23.8h0M184.8 28.4h0M185.6 24.1h0M186.4 27.1h0M186.8 22.6h0M188.1 25.8h0M188.8 25.2h0M189.1 21.5h0M189.8 22.7h0M190.9 22.5h0M191.3 24.0h0M192.7 22.7h0M193.3 22.8h0M194.1 24.1h0M194.6 22.5h0M195.8 23.0h0M196.3 17.9h0M197.4 21.3h0M197.7 22.1h0M199.0 21.5h0M199.8 22.4h0M200.2 21.6h0M201.0 21.4h0M201.6 21.0h0M202.3 23.9h0M203.2 18.5h0M204.1 22.2h0M204.7 21.2h0M205.7 20.7h0M206.8 19.3h0M207.3 22.7h0M208.4 20.7h0M208.6 17.5h0M209.7 17.9h0M210.8 19.2h0M211.1 20.4h0M212.0 21.9h0M212.8 19.3h0M213.7 20.0h0M214.0 18.9h0M215.2 18.4h0M216.2 19.6h0M216.6 17.3h0M217.7 23.0h0M217.9 20.6h0M219.2 18.7h0M219.7 17.5h0M220.8 17.4h0M221.4 19.7h0M222.5 19.9h0M223.2 16.2h0M224.0 19.7h0M224.5 21.8h0M225.1 18.7h0M225.8 15.8h0M226.6 17.5h0M227.3 18.7h0M228.4 20.3h0M229.4 19.3h0M229.7 17.1h0M230.5 19.6h0M231.2 17.7h0M231.9 19.4h0M232.7 19.1h0M234.0 17.8h0M234.7 17.4h0M235.5 16.0h0M235.9 16.4h0M237.0 19.9h0M237.6 14.9h0M238.5 19.4h0M239.1 19.4h0M240.3 20.7h0M240.7 16.0h0M241.7 16.4h0M242.2 19.4h0M243.4 12.5h0M243.6 14.2h0M244.6 20.0h0M245.4 15.6h0M246.5 15.6h0M246.8 18.1h0M247.6 16.6h0M248.4 18.4h0M249.2 14.4h0M249.9 23.3h0M251.0 16.1h0M251.8 18.3h0M252.7 16.0h0M253.6 17.6h0M254.2 15.2h0M254.8 18.4h0M255.8 13.8h0M256.7 19.1h0M256.9 16.9h0M257.9 15.4h0M258.8 16.0h0M259.7 17.9h0M260.1 15.4h0M261.0 15.2h0M261.7 14.0h0M262.7 13.5h0M263.6 13.3h0M264.3 17.4h0M264.9 15.0h0M266.0 14.7h0M266.5 16.2h0M267.1 17.6h0M268.1 14.0h0M268.6 16.7h0M269.7 15.4h0M270.5 13.9h0M271.3 13.7h0M271.9 12.8h0M273.0 15.6h0M273.2 14.1h0M274.5 15.9h0M275.0 12.6h0M276.1 15.0h0M276.7 16.7h0M277.2 12.7h0M278.4 17.2h0M279.1 12.5h0M279.6 15.1h0M281.0 12.9h0M281.6 12.5h0M282.2 15.8h0M282.9 12.1h0M283.9 14.3h0M284.4 15.0h0M285.1 11.6h0M285.8 13.2h0M286.7 13.3h0M288.0 12.0h0M288.5 13.9h0M289.4 16.6h0M290.3 14.9h0M291.1 12.7h0M291.4 11.9h0M292.0 14.1h0M293.2 14.0h0M294.2 11.1h0M295.0 15.8h0M295.7 15.6h0M296.3 4.2h0M296.7 12.8h0M297.7 16.5h0M298.8 13.7h0M299.3 14.6h0M300.5 12.0h0M300.6 11.5h0M301.8 15.1h0M302.8 12.3h0M303.0 12.8h0M303.7 12.1h0M304.7 13.7h0M305.7 13.4h0M306.1 13.3h0M307.1 12.0h0M308.0 16.6h0M308.4 12.5h0M309.4 13.3h0M310.3 12.0h0M310.8 16.1h0M311.4 13.3h0M312.4 12.8h0M313.6 13.0h0M313.9 12.4h0M315.3 13.3h0M315.5 14.9h0M316.4 12.8h0M317.3 12.4h0M317.7 14.1h0M318.8 12.3h0M319.7 11.9h0M320.0 9.3h0M321.4 11.2h0M322.1 15.0h0M323.0 10.4h0M323.7 12.5h0M324.4 12.3h0M325.2 13.9h0M325.6 9.4h0M326.6 11.1h0M327.6 16.0h0M328.2 9.7h0M328.7 12.1h0M329.8 10.3h0M330.3 13.9h0" stroke="#ff1f1f" stroke-width="2.6" stroke-linecap="round" fill="none"/>
<path d="M45.9 12.4 46.2 12.4 46.6 12.4 47.0 12.4 47.4 12.4 47.8 12.4 48.2 12.4 48.6 12.4 49.0 12.5 49.4 12.5 49.8 12.5 50.1 12.5 50.5 12.5 50.9 12.5 51.3 12.5 51.7 12.5 52.1 12.5 52.5 12.5 52.9 12.6 53.3 12.7 53.6 12.8 54.0 12.9 54.4 13.1 54.8 13.4 55.2 13.7 55.6 14.2 56.0 14.8 56.4 15.6 56.8 16.7 57.2 18.0 57.6 19.7 57.9 21.8 58.3 24.2 58.7 27.2 59.1 30.7 59.5 34.8 59.9 39.5 60.3 44.8 60.7 50.8 61.1 57.3 61.5 64.4 61.8 72.1 62.2 80.1 62.6 88.5 63.0 97.1 63.4 105.9 63.8 114.6 64.2 123.3 64.6 131.7 65.0 139.7 65.3 147.3 65.7 154.5 66.1 161.0 66.5 166.9 66.9 172.3 67.3 177.0 67.7 181.1 68.1 184.6 68.5 187.5 68.9 190.0 69.2 192.1 69.6 193.7 70.0 192.8 70.4 191.5 70.8 190.1 71.2 188.5 71.6 186.7 72.0 184.9 72.4 183.0 72.8 181.0 73.2 179.0 73.5 177.0 73.9 175.1 74.3 173.1 74.7 171.1 75.1 169.2 75.5 167.3 75.9 165.4 76.3 163.5 76.7 161.7 77.1 159.8 77.4 158.1 77.8 156.3 78.2 154.5 78.6 152.8 79.0 151.1 79.4 149.4 79.8 147.8 80.2 146.2 80.6 144.5 81.0 143.0 81.3 141.4 81.7 139.9 82.1 138.3 82.5 136.8 82.9 135.4 83.3 133.9 83.7 132.5 84.1 131.1 84.5 129.7 84.8 128.3 85.2 126.9 85.6 125.6 86.0 124.3 86.4 123.0 86.8 121.7 87.2 120.4 87.6 119.2 88.0 117.9 88.4 116.7 88.8 115.5 89.1 114.3 89.5 113.2 89.9 112.0 90.3 110.9 90.7 109.8 91.1 108.7 91.5 107.6 91.9 106.5 92.3 105.5 92.7 104.4 93.0 103.4 93.4 102.4 93.8 101.4 94.2 100.4 94.6 99.4 95.0 98.4 95.4 97.5 95.8 96.6 96.2 95.6 96.6 94.7 96.9 93.8 97.3 92.9 97.7 92.1 98.1 91.2 98.5 90.4 98.9 89.5 99.3 88.7 99.7 87.9 100.1 87.1 100.5 86.3 100.8 85.5 101.2 84.7 101.6 83.9 102.0 83.2 102.4 82.4 102.8 81.7 103.2 81.0 103.6 80.3 104.0 79.6 104.3 78.9 104.7 78.2 105.1 77.5 105.5 76.8 105.9 76.2 106.3 75.5 106.7 74.9 107.1 74.3 107.5 73.6 107.9 73.0 108.2 72.4 108.6 71.8 109.0 71.2 109.4 70.6 109.8 70.0 110.2 69.5 110.6 68.9 111.0 68.3 111.4 67.8 111.8 67.2 112.2 66.7 112.5 66.2 112.9 65.7 113.3 65.1 113.7 64.6 114.1 64.1 114.5 63.6 114.9 63.1 115.3 62.7 115.7 62.2 116.1 61.7 116.4 61.3 116.8 60.8 117.2 60.3 117.6 59.9 118.0 59.4 118.4 59.0 118.8 58.6 119.2 58.2 119.6 57.7 120.0 57.3 120.3 56.9 120.7 56.5 121.1 56.1 121.5 55.7 121.9 55.3 122.3 54.9 122.7 54.5 123.1 54.2 123.5 53.8 123.8 53.4 124.2 53.1 124.6 52.7 125.0 52.4 125.4 52.0 125.8 51.7 126.2 51.3 126.6 51.0 127.0 50.6 127.4 50.3 127.8 50.0 128.1 49.7 128.5 49.3 128.9 49.0 129.3 48.7 129.7 48.4 130.1 48.1 130.5 47.8 130.9 47.5 131.3 47.2 131.7 46.9 132.0 46.7 132.4 46.4 132.8 46.1 133.2 45.8 133.6 45.5 134.0 45.3 134.4 45.0 134.8 44.7 135.2 44.5 135.6 44.2 135.9 44.0 136.3 43.7 136.7 43.5 137.1 43.2 137.5 43.0 137.9 42.7 138.3 42.5 138.7 42.3 139.1 42.0 139.4 41.8 139.8 41.6 140.2 41.3 140.6 41.1 141.0 40.9 141.4 40.7 141.8 40.5 142.2 40.3 142.6 40.0 143.0 39.8 143.3 39.6 143.7 39.4 144.1 39.2 144.5 39.0 144.9 38.8 145.3 38.6 145.7 38.4 146.1 38.2 146.5 38.0 146.9 37.9 147.2 37.7 147.6 37.5 148.0 37.3 148.4 37.1 148.8 37.0 149.2 36.8 149.6 36.6 150.0 36.4 150.4 36.3 150.8 36.1 151.2 35.9 151.5 35.8 151.9 35.6 152.3 35.4 152.7 35.3 153.1 35.1 153.5 34.9 153.9 34.8 154.3 34.6 154.7 34.5 155.1 34.3 155.4 34.2 155.8 34.0 156.2 33.9 156.6 33.7 157.0 33.6 157.4 33.5 157.8 33.3 158.2 33.2 158.6 33.0 158.9 32.9 159.3 32.8 159.7 32.6 160.1 32.5 160.5 32.4 160.9 32.2 161.3 32.1 161.7 32.0 162.1 31.8 162.5 31.7 162.8 31.6 163.2 31.5 163.6 31.3 164.0 31.2 164.4 31.1 164.8 31.0 165.2 30.8 165.6 30.7 166.0 30.6 166.4 30.5 166.8 30.4 167.1 30.3 167.5 30.2 167.9 30.0 168.3 29.9 168.7 29.8 169.1 29.7 169.5 29.6 169.9 29.5 170.3 29.4 170.7 29.3 171.0 29.2 171.4 29.1 171.8 29.0 172.2 28.9 172.6 28.8 173.0 28.7 173.4 28.6 173.8 28.5 174.2 28.4 174.6 28.3 174.9 28.2 175.3 28.1 175.7 28.0 176.1 27.9 176.5 27.8 176.9 27.7 177.3 27.6 177.7 27.5 178.1 27.4 178.4 27.3 178.8 27.2 179.2 27.2 179.6 27.1 180.0 27.0 180.4 26.9 180.8 26.8 181.2 26.7 181.6 26.6 182.0 26.6 182.3 26.5 182.7 26.4 183.1 26.3 183.5 26.2 183.9 26.1 184.3 26.1 184.7 26.0 185.1 25.9 185.5 25.8 185.9 25.7 186.2 25.7 186.6 25.6 187.0 25.5 187.4 25.4 187.8 25.4 188.2 25.3 188.6 25.2 189.0 25.1 189.4 25.1 189.8 25.0 190.2 24.9 190.5 24.8 190.9 24.8 191.3 24.7 191.7 24.6 192.1 24.6 192.5 24.5 192.9 24.4 193.3 24.3 193.7 24.3 194.1 24.2 194.4 24.1 194.8 24.1 195.2 24.0 195.6 23.9 196.0 23.9 196.4 23.8 196.8 23.7 197.2 23.7 197.6 23.6 197.9 23.5 198.3 23.5 198.7 23.4 199.1 23.4 199.5 23.3 199.9 23.2 200.3 23.2 200.7 23.1 201.1 23.0 201.5 23.0 201.8 22.9 202.2 22.9 202.6 22.8 203.0 22.7 203.4 22.7 203.8 22.6 204.2 22.6 204.6 22.5 205.0 22.5 205.4 22.4 205.7 22.3 206.1 22.3 206.5 22.2 206.9 22.2 207.3 22.1 207.7 22.1 208.1 22.0 208.5 21.9 208.9 21.9 209.3 21.8 209.7 21.8 210.0 21.7 210.4 21.7 210.8 21.6 211.2 21.6 211.6 21.5 212.0 21.5 212.4 21.4 212.8 21.4 213.2 21.3 213.5 21.3 213.9 21.2 214.3 21.2 214.7 21.1 215.1 21.1 215.5 21.0 215.9 21.0 216.3 20.9 216.7 20.9 217.1 20.8 217.5 20.8 217.8 20.7 218.2 20.7 218.6 20.6 219.0 20.6 219.4 20.5 219.8 20.5 220.2 20.4 220.6 20.4 221.0 20.3 221.3 20.3 221.7 20.2 222.1 20.2 222.5 20.1 222.9 20.1 223.3 20.0 223.7 20.0 224.1 20.0 224.5 19.9 224.9 19.9 225.3 19.8 225.6 19.8 226.0 19.7 226.4 19.7 226.8 19.6 227.2 19.6 227.6 19.6 228.0 19.5 228.4 19.5 228.8 19.4 229.2 19.4 229.5 19.3 229.9 19.3 230.3 19.3 230.7 19.2 231.1 19.2 231.5 19.1 231.9 19.1 232.3 19.1 232.7 19.0 233.0 19.0 233.4 18.9 233.8 18.9 234.2 18.9 234.6 18.8 235.0 18.8 235.4 18.7 235.8 18.7 236.2 18.7 236.6 18.6 237.0 18.6 237.3 18.5 237.7 18.5 238.1 18.5 238.5 18.4 238.9 18.4 239.3 18.3 239.7 18.3 240.1 18.3 240.5 18.2 240.8 18.2 241.2 18.2 241.6 18.1 242.0 18.1 242.4 18.0 242.8 18.0 243.2 18.0 243.6 17.9 244.0 17.9 244.4 17.9 244.8 17.8 245.1 17.8 245.5 17.8 245.9 17.7 246.3 17.7 246.7 17.6 247.1 17.6 247.5 17.6 247.9 17.5 248.3 17.5 248.7 17.5 249.0 17.4 249.4 17.4 249.8 17.4 250.2 17.3 250.6 17.3 251.0 17.3 251.4 17.2 251.8 17.2 252.2 17.2 252.5 17.1 252.9 17.1 253.3 17.1 253.7 17.0 254.1 17.0 254.5 17.0 254.9 16.9 255.3 16.9 255.7 16.9 256.1 16.8 256.5 16.8 256.8 16.8 257.2 16.7 257.6 16.7 258.0 16.7 258.4 16.6 258.8 16.6 259.2 16.6 259.6 16.5 260.0 16.5 260.4 16.5 260.7 16.5 261.1 16.4 261.5 16.4 261.9 16.4 262.3 16.3 262.7 16.3 263.1 16.3 263.5 16.2 263.9 16.2 264.3 16.2 264.6 16.1 265.0 16.1 265.4 16.1 265.8 16.1 266.2 16.0 266.6 16.0 267.0 16.0 267.4 15.9 267.8 15.9 268.2 15.9 268.5 15.9 268.9 15.8 269.3 15.8 269.7 15.8 270.1 15.7 270.5 15.7 270.9 15.7 271.3 15.6 271.7 15.6 272.1 15.6 272.4 15.6 272.8 15.5 273.2 15.5 273.6 15.5 274.0 15.5 274.4 15.4 274.8 15.4 275.2 15.4 275.6 15.3 276.0 15.3 276.3 15.3 276.7 15.3 277.1 15.2 277.5 15.2 277.9 15.2 278.3 15.2 278.7 15.1 279.1 15.1 279.5 15.1 279.9 15.0 280.2 15.0 280.6 15.0 281.0 15.0 281.4 14.9 281.8 14.9 282.2 14.9 282.6 14.9 283.0 14.8 283.4 14.8 283.8 14.8 284.1 14.8 284.5 14.7 284.9 14.7 285.3 14.7 285.7 14.7 286.1 14.6 286.5 14.6 286.9 14.6 287.3 14.6 287.7 14.5 288.0 14.5 288.4 14.5 288.8 14.5 289.2 14.4 289.6 14.4 290.0 14.4 290.4 14.4 290.8 14.3 291.2 14.3 291.6 14.3 291.9 14.3 292.3 14.2 292.7 14.2 293.1 14.2 293.5 14.2 293.9 14.2 294.3 14.1 294.7 14.1 295.1 14.1 295.5 14.1 295.8 14.0 296.2 14.0 296.6 14.0 297.0 14.0 297.4 13.9 297.8 13.9 298.2 13.9 298.6 13.9 299.0 13.9 299.4 13.8 299.7 13.8 300.1 13.8 300.5 13.8 300.9 13.7 301.3 13.7 301.7 13.7 302.1 13.7 302.5 13.7 302.9 13.6 303.3 13.6 303.6 13.6 304.0 13.6 304.4 13.5 304.8 13.5 305.2 13.5 305.6 13.5 306.0 13.5 306.4 13.4 306.8 13.4 307.2 13.4 307.5 13.4 307.9 13.4 308.3 13.3 308.7 13.3 309.1 13.3 309.5 13.3 309.9 13.3 310.3 13.2 310.7 13.2 311.1 13.2 311.4 13.2 311.8 13.2 312.2 13.1 312.6 13.1 313.0 13.1 313.4 13.1 313.8 13.0 314.2 13.0 314.6 13.0 315.0 13.0 315.3 13.0 315.7 13.0 316.1 12.9 316.5 12.9 316.9 12.9 317.3 12.9 317.7 12.9 318.1 12.8 318.5 12.8 318.9 12.8 319.2 12.8 319.6 12.8 320.0 12.7 320.4 12.7 320.8 12.7 321.2 12.7 321.6 12.7 322.0 12.6 322.4 12.6 322.8 12.6 323.1 12.6 323.5 12.6 323.9 12.5 324.3 12.5 324.7 12.5 325.1 12.5 325.5 12.5 325.9 12.5 326.3 12.4 326.7 12.4 327.0 12.4 327.4 12.4 327.8 12.4 328.2 12.3 328.6 12.3 329.0 12.3 329.4 12.3 329.8 12.3 330.2 12.3 330.6 12.2" stroke="#1414ff" stroke-width="3.20" fill="none" stroke-linejoin="round"/>
<path d="M45.7 11.8h0M46.4 12.5h0M47.3 13.2h0M48.0 13.1h0M49.3 8.6h0M49.6 13.3h0M50.4 13.1h0M51.4 13.0h0M51.9 12.7h0M52.7 11.7h0M53.5 12.0h0M54.6 13.2h0M55.2 14.6h0M56.2 14.6h0M56.8 17.0h0M57.7 20.3h0M58.7 24.3h0M59.4 30.5h0M59.9 39.6h0M60.4 49.5h0M61.4 62.0h0M62.6 80.1h0M63.0 97.5h0M63.9 114.7h0M64.7 126.8h0M65.0 147.1h0M66.2 161.3h0M67.0 172.1h0M67.6 180.8h0M68.1 187.7h0M69.0 191.6h0M70.2 192.0h0M70.6 189.8h0M71.9 185.9h0M72.2 182.5h0M72.8 179.7h0M73.9 175.3h0M75.0 171.3h0M75.3 168.7h0M76.6 162.8h0M77.0 158.4h0M77.8 156.5h0M78.9 152.5h0M79.1 149.0h0M79.9 147.8h0M81.1 142.4h0M82.1 140.7h0M82.5 136.1h0M83.7 134.1h0M83.8 129.2h0M84.8 129.3h0M85.3 126.8h0M86.3 122.8h0M87.0 119.1h0M87.7 118.4h0M88.9 114.8h0M89.5 111.6h0M90.6 111.5h0M91.0 107.5h0M91.8 106.3h0M92.6 104.9h0M93.4 102.1h0M94.3 100.3h0M94.8 99.6h0M96.0 97.5h0M96.4 96.5h0M97.0 93.0h0M98.0 90.6h0M98.9 91.8h0M99.9 87.6h0M100.1 86.0h0M101.0 86.5h0M101.7 81.6h0M102.5 81.3h0M103.3 79.3h0M104.2 80.7h0M105.0 78.8h0M105.8 73.7h0M106.5 74.8h0M107.3 72.4h0M108.4 75.0h0M109.2 71.8h0M109.5 69.5h0M110.3 64.4h0M111.6 66.1h0M112.1 70.7h0M112.9 65.9h0M114.0 65.6h0M114.9 63.3h0M115.1 65.3h0M116.0 58.9h0M116.8 59.5h0M117.3 60.7h0M118.2 55.4h0M119.1 61.0h0M119.6 59.6h0M120.4 53.6h0M121.5 55.5h0M122.1 55.3h0M123.4 53.0h0M123.5 55.3h0M124.3 54.5h0M125.8 51.7h0M125.8 53.6h0M127.0 49.6h0M127.7 51.1h0M128.4 50.9h0M129.3 49.1h0M130.1 48.8h0M131.0 47.4h0M131.4 48.9h0M132.1 46.7h0M133.2 48.5h0M134.2 43.5h0M134.8 42.7h0M135.3 43.8h0M136.3 44.3h0M136.9 41.7h0M137.7 45.4h0M138.4 42.9h0M139.2 42.7h0M140.6 42.8h0M141.4 41.4h0M141.8 42.2h0M142.5 40.5h0M143.1 40.3h0M144.1 41.2h0M144.7 38.9h0M145.6 37.2h0M146.3 38.4h0M147.5 34.9h0M147.9 39.2h0M149.2 33.6h0M149.3 36.0h0M150.3 38.7h0M151.0 39.2h0M152.0 32.5h0M152.8 34.5h0M153.3 36.3h0M153.9 34.0h0M155.1 35.2h0M155.8 34.0h0M156.6 33.2h0M157.6 32.2h0M158.3 29.9h0M158.6 33.7h0M159.4 33.3h0M160.3 32.3h0M161.2 31.2h0M161.9 30.1h0M163.2 30.9h0M163.6 32.3h0M164.1 30.8h0M165.0 29.9h0M165.6 33.6h0M167.0 29.5h0M167.3 30.2h0M168.6 27.9h0M169.0 30.9h0M169.5 28.3h0M171.0 32.0h0M171.5 28.6h0M172.0 28.4h0M173.0 31.3h0M173.7 24.7h0M174.3 29.3h0M175.4 31.0h0M176.4 28.7h0M176.7 25.3h0M177.7 26.4h0M178.2 28.3h0M178.9 27.1h0M180.0 25.3h0M180.4 21.8h0M181.6 29.4h0M182.7 26.0h0M182.8 23.5h0M183.9 28.9h0M184.9 27.0h0M185.3 24.4h0M186.6 25.3h0M187.1 25.1h0M187.5 23.2h0M188.9 25.6h0M189.2 24.2h0M190.5 24.2h0M191.2 25.5h0M191.6 27.4h0M192.1 31.3h0M193.0 24.2h0M194.1 25.8h0M194.8 22.9h0M195.3 25.1h0M196.6 21.9h0M196.9 23.0h0M197.9 23.8h0M199.0 23.9h0M199.6 25.2h0M200.0 21.4h0M200.8 25.0h0M201.5 24.8h0M202.8 24.2h0M203.3 22.4h0M204.5 18.5h0M205.2 22.7h0M205.9 24.0h0M206.5 20.7h0M207.4 24.1h0M208.1 21.8h0M209.2 22.1h0M210.0 20.6h0M210.6 19.2h0M211.2 23.6h0M212.2 20.2h0M212.8 19.4h0M213.9 22.8h0M214.7 22.0h0M215.5 19.4h0M216.0 18.4h0M216.5 18.3h0M217.3 21.2h0M218.6 20.6h0M219.4 21.2h0M220.1 19.9h0M220.4 19.3h0M221.1 21.9h0M222.2 17.2h0M222.7 17.7h0M223.9 19.1h0M224.7 18.7h0M225.2 20.7h0M226.4 20.6h0M227.0 21.0h0M227.3 17.7h0M228.6 20.1h0M229.4 19.5h0M230.1 24.0h0M230.8 17.5h0M231.4 21.2h0M232.4 21.0h0M233.1 19.8h0M233.5 16.6h0M234.9 17.5h0M235.1 20.0h0M236.3 18.7h0M237.3 15.5h0M237.8 15.9h0M238.4 18.3h0M239.3 16.9h0M239.9 19.3h0M240.8 17.0h0M241.2 18.3h0M242.4 20.0h0M243.4 17.9h0M243.7 17.2h0M244.8 17.4h0M245.4 16.6h0M246.2 18.0h0M247.4 13.4h0M247.9 14.7h0M248.9 17.2h0M249.2 17.4h0M250.4 16.8h0M251.2 17.6h0M251.6 15.6h0M252.8 13.1h0M253.7 18.3h0M253.9 15.1h0M255.2 17.3h0M255.6 16.3h0M256.2 21.8h0M257.4 15.6h0M258.1 19.8h0M258.5 17.3h0M259.9 19.3h0M260.3 18.2h0M261.3 15.6h0M261.8 20.0h0M262.9 16.7h0M263.6 16.4h0M264.1 16.5h0M264.9 15.3h0M265.6 14.1h0M266.8 17.1h0M267.5 16.4h0M268.4 15.1h0M268.6 16.8h0M270.1 15.7h0M270.4 16.5h0M271.4 13.8h0M272.1 20.1h0M273.2 16.4h0M273.7 15.4h0M274.6 10.5h0M275.0 16.2h0M275.6 16.1h0M276.9 18.5h0M277.5 12.6h0M278.4 9.9h0M278.8 18.4h0M279.8 15.8h0M280.8 15.0h0M281.4 14.6h0M282.3 10.8h0M282.8 15.4h0M283.4 15.9h0M284.4 16.8h0M285.0 16.6h0M285.7 14.1h0M286.5 13.4h0M287.3 14.7h0M288.6 14.5h0M289.3 11.8h0M290.2 13.1h0M290.8 18.2h0M291.8 12.6h0M292.5 14.1h0M292.9 15.2h0M293.8 13.8h0M294.5 11.8h0M295.6 15.3h0M296.5 14.1h0M297.1 14.6h0M297.9 16.5h0M298.3 13.7h0M299.5 14.9h0M300.0 17.5h0M301.0 11.3h0M301.9 15.7h0M302.3 11.6h0M303.3 12.6h0M303.9 14.9h0M304.9 12.3h0M305.2 15.0h0M306.7 13.6h0M307.0 10.5h0M308.2 10.8h0M309.0 13.2h0M309.5 14.7h0M310.2 12.5h0M311.2 15.9h0M312.2 10.9h0M312.9 15.5h0M313.5 14.2h0M314.1 12.1h0M314.7 12.2h0M316.0 11.7h0M316.4 12.0h0M317.3 10.9h0M318.3 13.6h0M318.5 9.5h0M319.9 9.7h0M320.1 11.4h0M321.3 12.2h0M321.7 13.0h0M322.8 9.6h0M323.3 12.2h0M324.3 10.9h0M324.8 11.8h0M326.2 10.0h0M326.8 16.6h0M327.3 13.7h0M328.3 10.5h0M329.0 11.3h0M329.8 14.2h0M330.8 13.2h0" stroke="#1414ff" stroke-width="2.6" stroke-linecap="round" fill="none"/>
<path d="M45.9 8.0 46.2 8.0 46.6 8.0 47.0 8.0 47.4 8.0 47.8 8.0 48.2 8.0 48.6 8.0 49.0 8.0 49.4 8.0 49.8 8.0 50.1 8.0 50.5 8.0 50.9 8.0 51.3 8.0 51.7 8.0 52.1 8.0 52.5 8.1 52.9 8.1 53.3 8.2 53.6 8.3 54.0 8.5 54.4 8.7 54.8 9.0 55.2 9.4 55.6 10.0 56.0 10.7 56.4 11.6 56.8 12.8 57.2 14.4 57.6 16.3 57.9 18.6 58.3 21.5 58.7 24.9 59.1 28.9 59.5 33.6 59.9 38.9 60.3 45.0 60.7 51.8 61.1 59.3 61.5 67.5 61.8 76.2 62.2 85.4 62.6 95.0 63.0 104.9 63.4 114.9 63.8 124.9 64.2 134.8 64.6 144.4 65.0 153.6 65.3 162.3 65.7 170.5 66.1 178.0 66.5 184.7 66.9 190.8 67.3 196.2 67.7 200.9 68.1 204.9 68.5 208.3 68.9 211.2 69.2 213.5 69.6 215.4 70.0 214.3 70.4 213.0 70.8 211.3 71.2 209.5 71.6 207.5 72.0 205.5 72.4 203.3 72.8 201.1 73.2 198.9 73.5 196.7 73.9 194.5 74.3 192.2 74.7 190.0 75.1 187.8 75.5 185.7 75.9 183.5 76.3 181.4 76.7 179.4 77.1 177.3 77.4 175.3 77.8 173.3 78.2 171.3 78.6 169.4 79.0 167.5 79.4 165.6 79.8 163.7 80.2 161.9 80.6 160.1 81.0 158.3 81.3 156.5 81.7 154.8 82.1 153.1 82.5 151.4 82.9 149.7 83.3 148.1 83.7 146.5 84.1 144.9 84.5 143.3 84.8 141.8 85.2 140.2 85.6 138.7 86.0 137.3 86.4 135.8 86.8 134.3 87.2 132.9 87.6 131.5 88.0 130.1 88.4 128.8 88.8 127.4 89.1 126.1 89.5 124.8 89.9 123.5 90.3 122.2 90.7 121.0 91.1 119.7 91.5 118.5 91.9 117.3 92.3 116.1 92.7 114.9 93.0 113.8 93.4 112.6 93.8 111.5 94.2 110.4 94.6 109.3 95.0 108.2 95.4 107.1 95.8 106.1 96.2 105.1 96.6 104.0 96.9 103.0 97.3 102.0 97.7 101.0 98.1 100.1 98.5 99.1 98.9 98.2 99.3 97.3 99.7 96.3 100.1 95.4 100.5 94.5 100.8 93.7 101.2 92.8 101.6 91.9 102.0 91.1 102.4 90.2 102.8 89.4 103.2 88.6 103.6 87.8 104.0 87.0 104.3 86.2 104.7 85.5 105.1 84.7 105.5 84.0 105.9 83.2 106.3 82.5 106.7 81.8 107.1 81.1 107.5 80.3 107.9 79.7 108.2 79.0 108.6 78.3 109.0 77.6 109.4 77.0 109.8 76.3 110.2 75.7 110.6 75.1 111.0 74.4 111.4 73.8 111.8 73.2 112.2 72.6 112.5 72.0 112.9 71.4 113.3 70.9 113.7 70.3 114.1 69.7 114.5 69.2 114.9 68.6 115.3 68.1 115.7 67.5 116.1 67.0 116.4 66.5 116.8 66.0 117.2 65.5 117.6 65.0 118.0 64.5 118.4 64.0 118.8 63.5 119.2 63.0 119.6 62.6 120.0 62.1 120.3 61.6 120.7 61.2 121.1 60.7 121.5 60.3 121.9 59.9 122.3 59.4 122.7 59.0 123.1 58.6 123.5 58.2 123.8 57.8 124.2 57.3 124.6 56.9 125.0 56.6 125.4 56.2 125.8 55.8 126.2 55.4 126.6 55.0 127.0 54.6 127.4 54.3 127.8 53.9 128.1 53.6 128.5 53.2 128.9 52.9 129.3 52.5 129.7 52.2 130.1 51.8 130.5 51.5 130.9 51.2 131.3 50.8 131.7 50.5 132.0 50.2 132.4 49.9 132.8 49.6 133.2 49.3 133.6 49.0 134.0 48.7 134.4 48.4 134.8 48.1 135.2 47.8 135.6 47.5 135.9 47.2 136.3 46.9 136.7 46.7 137.1 46.4 137.5 46.1 137.9 45.8 138.3 45.6 138.7 45.3 139.1 45.1 139.4 44.8 139.8 44.6 140.2 44.3 140.6 44.1 141.0 43.8 141.4 43.6 141.8 43.3 142.2 43.1 142.6 42.9 143.0 42.6 143.3 42.4 143.7 42.2 144.1 41.9 144.5 41.7 144.9 41.5 145.3 41.3 145.7 41.1 146.1 40.9 146.5 40.7 146.9 40.4 147.2 40.2 147.6 40.0 148.0 39.8 148.4 39.6 148.8 39.4 149.2 39.2 149.6 39.0 150.0 38.9 150.4 38.7 150.8 38.5 151.2 38.3 151.5 38.1 151.9 37.9 152.3 37.8 152.7 37.6 153.1 37.4 153.5 37.2 153.9 37.1 154.3 36.9 154.7 36.7 155.1 36.5 155.4 36.4 155.8 36.2 156.2 36.1 156.6 35.9 157.0 35.7 157.4 35.6 157.8 35.4 158.2 35.3 158.6 35.1 158.9 35.0 159.3 34.8 159.7 34.7 160.1 34.5 160.5 34.4 160.9 34.2 161.3 34.1 161.7 33.9 162.1 33.8 162.5 33.7 162.8 33.5 163.2 33.4 163.6 33.2 164.0 33.1 164.4 33.0 164.8 32.8 165.2 32.7 165.6 32.6 166.0 32.5 166.4 32.3 166.8 32.2 167.1 32.1 167.5 31.9 167.9 31.8 168.3 31.7 168.7 31.6 169.1 31.5 169.5 31.3 169.9 31.2 170.3 31.1 170.7 31.0 171.0 30.9 171.4 30.8 171.8 30.7 172.2 30.5 172.6 30.4 173.0 30.3 173.4 30.2 173.8 30.1 174.2 30.0 174.6 29.9 174.9 29.8 175.3 29.7 175.7 29.6 176.1 29.5 176.5 29.4 176.9 29.3 177.3 29.2 177.7 29.1 178.1 29.0 178.4 28.9 178.8 28.8 179.2 28.7 179.6 28.6 180.0 28.5 180.4 28.4 180.8 28.3 181.2 28.2 181.6 28.1 182.0 28.0 182.3 27.9 182.7 27.8 183.1 27.7 183.5 27.7 183.9 27.6 184.3 27.5 184.7 27.4 185.1 27.3 185.5 27.2 185.9 27.1 186.2 27.0 186.6 27.0 187.0 26.9 187.4 26.8 187.8 26.7 188.2 26.6 188.6 26.5 189.0 26.5 189.4 26.4 189.8 26.3 190.2 26.2 190.5 26.2 190.9 26.1 191.3 26.0 191.7 25.9 192.1 25.8 192.5 25.8 192.9 25.7 193.3 25.6 193.7 25.5 194.1 25.5 194.4 25.4 194.8 25.3 195.2 25.2 195.6 25.2 196.0 25.1 196.4 25.0 196.8 25.0 197.2 24.9 197.6 24.8 197.9 24.8 198.3 24.7 198.7 24.6 199.1 24.5 199.5 24.5 199.9 24.4 200.3 24.3 200.7 24.3 201.1 24.2 201.5 24.1 201.8 24.1 202.2 24.0 202.6 23.9 203.0 23.9 203.4 23.8 203.8 23.8 204.2 23.7 204.6 23.6 205.0 23.6 205.4 23.5 205.7 23.4 206.1 23.4 206.5 23.3 206.9 23.3 207.3 23.2 207.7 23.1 208.1 23.1 208.5 23.0 208.9 23.0 209.3 22.9 209.7 22.8 210.0 22.8 210.4 22.7 210.8 22.7 211.2 22.6 211.6 22.6 212.0 22.5 212.4 22.4 212.8 22.4 213.2 22.3 213.5 22.3 213.9 22.2 214.3 22.2 214.7 22.1 215.1 22.1 215.5 22.0 215.9 22.0 216.3 21.9 216.7 21.8 217.1 21.8 217.5 21.7 217.8 21.7 218.2 21.6 218.6 21.6 219.0 21.5 219.4 21.5 219.8 21.4 220.2 21.4 220.6 21.3 221.0 21.3 221.3 21.2 221.7 21.2 222.1 21.1 222.5 21.1 222.9 21.0 223.3 21.0 223.7 20.9 224.1 20.9 224.5 20.8 224.9 20.8 225.3 20.7 225.6 20.7 226.0 20.6 226.4 20.6 226.8 20.5 227.2 20.5 227.6 20.5 228.0 20.4 228.4 20.4 228.8 20.3 229.2 20.3 229.5 20.2 229.9 20.2 230.3 20.1 230.7 20.1 231.1 20.0 231.5 20.0 231.9 20.0 232.3 19.9 232.7 19.9 233.0 19.8 233.4 19.8 233.8 19.7 234.2 19.7 234.6 19.7 235.0 19.6 235.4 19.6 235.8 19.5 236.2 19.5 236.6 19.4 237.0 19.4 237.3 19.4 237.7 19.3 238.1 19.3 238.5 19.2 238.9 19.2 239.3 19.1 239.7 19.1 240.1 19.1 240.5 19.0 240.8 19.0 241.2 18.9 241.6 18.9 242.0 18.9 242.4 18.8 242.8 18.8 243.2 18.7 243.6 18.7 244.0 18.7 244.4 18.6 244.8 18.6 245.1 18.6 245.5 18.5 245.9 18.5 246.3 18.4 246.7 18.4 247.1 18.4 247.5 18.3 247.9 18.3 248.3 18.2 248.7 18.2 249.0 18.2 249.4 18.1 249.8 18.1 250.2 18.1 250.6 18.0 251.0 18.0 251.4 18.0 251.8 17.9 252.2 17.9 252.5 17.8 252.9 17.8 253.3 17.8 253.7 17.7 254.1 17.7 254.5 17.7 254.9 17.6 255.3 17.6 255.7 17.6 256.1 17.5 256.5 17.5 256.8 17.5 257.2 17.4 257.6 17.4 258.0 17.4 258.4 17.3 258.8 17.3 259.2 17.3 259.6 17.2 260.0 17.2 260.4 17.2 260.7 17.1 261.1 17.1 261.5 17.1 261.9 17.0 262.3 17.0 262.7 17.0 263.1 16.9 263.5 16.9 263.9 16.9 264.3 16.8 264.6 16.8 265.0 16.8 265.4 16.7 265.8 16.7 266.2 16.7 266.6 16.6 267.0 16.6 267.4 16.6 267.8 16.5 268.2 16.5 268.5 16.5 268.9 16.5 269.3 16.4 269.7 16.4 270.1 16.4 270.5 16.3 270.9 16.3 271.3 16.3 271.7 16.2 272.1 16.2 272.4 16.2 272.8 16.1 273.2 16.1 273.6 16.1 274.0 16.1 274.4 16.0 274.8 16.0 275.2 16.0 275.6 15.9 276.0 15.9 276.3 15.9 276.7 15.9 277.1 15.8 277.5 15.8 277.9 15.8 278.3 15.7 278.7 15.7 279.1 15.7 279.5 15.7 279.9 15.6 280.2 15.6 280.6 15.6 281.0 15.5 281.4 15.5 281.8 15.5 282.2 15.5 282.6 15.4 283.0 15.4 283.4 15.4 283.8 15.4 284.1 15.3 284.5 15.3 284.9 15.3 285.3 15.2 285.7 15.2 286.1 15.2 286.5 15.2 286.9 15.1 287.3 15.1 287.7 15.1 288.0 15.1 288.4 15.0 288.8 15.0 289.2 15.0 289.6 15.0 290.0 14.9 290.4 14.9 290.8 14.9 291.2 14.8 291.6 14.8 291.9 14.8 292.3 14.8 292.7 14.7 293.1 14.7 293.5 14.7 293.9 14.7 294.3 14.6 294.7 14.6 295.1 14.6 295.5 14.6 295.8 14.5 296.2 14.5 296.6 14.5 297.0 14.5 297.4 14.5 297.8 14.4 298.2 14.4 298.6 14.4 299.0 14.4 299.4 14.3 299.7 14.3 300.1 14.3 300.5 14.3 300.9 14.2 301.3 14.2 301.7 14.2 302.1 14.2 302.5 14.1 302.9 14.1 303.3 14.1 303.6 14.1 304.0 14.0 304.4 14.0 304.8 14.0 305.2 14.0 305.6 14.0 306.0 13.9 306.4 13.9 306.8 13.9 307.2 13.9 307.5 13.8 307.9 13.8 308.3 13.8 308.7 13.8 309.1 13.8 309.5 13.7 309.9 13.7 310.3 13.7 310.7 13.7 311.1 13.6 311.4 13.6 311.8 13.6 312.2 13.6 312.6 13.6 313.0 13.5 313.4 13.5 313.8 13.5 314.2 13.5 314.6 13.5 315.0 13.4 315.3 13.4 315.7 13.4 316.1 13.4 316.5 13.3 316.9 13.3 317.3 13.3 317.7 13.3 318.1 13.3 318.5 13.2 318.9 13.2 319.2 13.2 319.6 13.2 320.0 13.2 320.4 13.1 320.8 13.1 321.2 13.1 321.6 13.1 322.0 13.1 322.4 13.0 322.8 13.0 323.1 13.0 323.5 13.0 323.9 13.0 324.3 12.9 324.7 12.9 325.1 12.9 325.5 12.9 325.9 12.9 326.3 12.8 326.7 12.8 327.0 12.8 327.4 12.8 327.8 12.8 328.2 12.7 328.6 12.7 329.0 12.7 329.4 12.7 329.8 12.7 330.2 12.7 330.6 12.6" stroke="#7a0f0f" stroke-width="3.20" fill="none" stroke-linejoin="round"/>
<path d="M45.9 8.0h0M46.8 8.6h0M47.8 7.8h0M48.2 8.0h0M48.7 8.4h0M49.7 8.6h0M50.4 8.1h0M51.0 7.6h0M52.4 7.9h0M52.5 7.4h0M53.5 8.0h0M54.0 7.7h0M54.9 9.4h0M56.2 11.3h0M57.1 7.2h0M57.8 16.8h0M58.2 20.5h0M59.5 28.7h0M60.2 39.1h0M60.5 51.9h0M61.6 66.0h0M62.0 85.6h0M62.7 104.2h0M63.7 124.9h0M64.4 144.8h0M65.1 162.3h0M66.2 177.9h0M66.9 190.0h0M67.7 200.3h0M68.8 209.3h0M68.9 213.9h0M69.7 208.4h0M70.7 211.8h0M71.6 207.6h0M72.7 203.0h0M73.0 200.1h0M74.2 193.9h0M74.6 190.1h0M75.8 185.1h0M76.0 181.4h0M76.8 176.9h0M78.2 174.7h0M79.0 169.2h0M79.0 164.8h0M79.8 161.4h0M81.0 157.3h0M81.5 152.8h0M82.1 153.1h0M83.6 147.1h0M84.0 145.0h0M84.9 142.2h0M85.4 137.7h0M86.6 135.2h0M86.9 132.9h0M88.3 128.0h0M89.0 128.5h0M89.2 127.0h0M90.5 123.1h0M91.4 118.9h0M91.6 117.5h0M92.3 113.9h0M93.7 112.4h0M94.4 109.1h0M94.7 107.6h0M95.6 107.2h0M96.9 103.5h0M97.3 101.0h0M97.8 100.0h0M98.7 98.1h0M99.9 96.3h0M100.7 94.9h0M101.0 96.5h0M101.9 91.0h0M102.5 88.8h0M103.8 87.2h0M104.6 88.1h0M105.4 85.2h0M105.6 84.9h0M106.8 80.2h0M107.4 82.3h0M108.2 76.7h0M108.9 76.7h0M110.1 78.6h0M110.8 75.3h0M111.2 74.3h0M112.3 71.9h0M113.0 71.9h0M113.8 71.3h0M114.6 66.9h0M115.4 67.2h0M116.0 69.0h0M116.8 66.8h0M117.9 63.0h0M118.1 64.4h0M118.8 61.0h0M120.2 62.2h0M120.5 62.2h0M121.3 60.5h0M122.0 61.8h0M122.9 59.0h0M124.1 62.1h0M124.3 57.2h0M125.6 57.3h0M126.5 55.7h0M126.6 56.6h0M127.4 52.7h0M128.9 54.2h0M129.2 53.6h0M130.4 52.9h0M131.0 50.2h0M131.5 51.5h0M132.8 49.4h0M133.5 48.1h0M134.0 48.9h0M134.4 48.3h0M135.7 44.4h0M136.7 47.8h0M137.2 47.2h0M138.1 44.4h0M139.0 46.1h0M139.8 43.5h0M139.9 44.2h0M141.2 44.2h0M141.7 45.8h0M142.7 39.9h0M143.3 43.6h0M143.9 41.6h0M144.7 41.0h0M146.0 44.7h0M146.2 40.7h0M147.3 40.7h0M147.9 41.6h0M148.8 38.4h0M149.8 34.0h0M150.7 36.3h0M151.5 38.6h0M151.9 40.3h0M153.0 36.8h0M153.2 40.9h0M154.5 37.1h0M154.8 36.9h0M155.6 36.0h0M156.4 37.2h0M157.2 36.6h0M158.0 35.5h0M159.1 34.0h0M159.4 37.0h0M160.5 35.2h0M161.4 33.8h0M162.4 34.5h0M162.9 34.2h0M164.0 31.5h0M164.3 33.5h0M165.5 29.0h0M165.8 28.1h0M166.5 31.2h0M167.5 31.8h0M168.6 31.0h0M169.0 29.2h0M169.9 30.9h0M170.4 29.4h0M171.7 30.6h0M171.8 32.6h0M172.8 30.0h0M173.8 30.6h0M174.2 30.5h0M175.6 28.9h0M176.4 30.1h0M176.8 27.9h0M178.0 28.3h0M178.3 28.4h0M179.4 27.3h0M180.1 29.1h0M180.7 26.2h0M181.6 30.0h0M182.5 25.8h0M183.2 27.7h0M184.2 27.6h0M184.4 26.6h0M185.5 26.3h0M186.3 28.8h0M187.2 25.4h0M187.9 28.0h0M188.9 26.0h0M189.1 26.8h0M190.2 23.3h0M190.7 26.8h0M191.9 27.3h0M192.7 24.2h0M193.4 26.7h0M194.2 22.6h0M194.4 24.1h0M195.9 24.5h0M196.0 24.9h0M197.3 23.1h0M198.2 24.8h0M198.7 22.9h0M199.5 24.8h0M200.0 24.1h0M201.1 24.1h0M201.6 23.9h0M202.6 23.3h0M203.5 25.2h0M204.2 21.0h0M205.1 22.6h0M205.6 27.4h0M206.8 23.0h0M207.1 20.3h0M207.8 26.1h0M208.7 22.3h0M209.7 29.9h0M210.2 25.3h0M211.5 22.3h0M211.7 23.1h0M212.8 22.8h0M213.6 20.9h0M214.5 22.0h0M215.1 19.0h0M215.9 24.1h0M216.7 24.5h0M217.6 19.4h0M218.0 24.0h0M218.9 24.8h0M219.6 20.0h0M220.3 20.1h0M221.3 20.2h0M222.3 22.9h0M222.9 20.4h0M223.4 16.2h0M224.7 19.6h0M225.0 18.5h0M225.6 18.9h0M227.0 20.6h0M227.4 21.6h0M228.7 18.9h0M228.8 20.4h0M229.7 19.2h0M230.4 20.9h0M231.5 17.3h0M232.3 19.7h0M232.8 19.4h0M233.5 22.2h0M234.5 18.8h0M235.7 18.0h0M236.4 16.3h0M236.8 18.6h0M237.6 21.3h0M238.8 17.1h0M239.4 18.1h0M240.1 18.1h0M241.0 17.6h0M241.7 18.4h0M242.2 19.8h0M243.4 18.8h0M244.1 20.0h0M244.6 19.7h0M245.5 18.9h0M246.0 19.7h0M247.4 15.1h0M248.0 18.3h0M248.6 20.2h0M249.5 16.5h0M250.3 17.4h0M250.9 19.6h0M251.6 18.8h0M252.4 17.9h0M253.7 20.3h0M254.5 16.2h0M254.6 16.2h0M255.8 16.9h0M256.5 18.3h0M257.5 23.4h0M257.9 15.1h0M259.0 17.6h0M259.2 16.0h0M260.5 14.8h0M261.0 16.3h0M261.8 19.4h0M262.8 18.3h0M263.2 16.3h0M264.2 19.2h0M265.1 16.4h0M265.5 17.5h0M266.7 13.7h0M267.2 19.8h0M268.3 16.0h0M268.9 21.6h0M269.5 18.5h0M270.2 18.8h0M271.4 18.5h0M272.1 16.7h0M272.6 16.0h0M273.5 16.7h0M274.4 15.5h0M275.2 19.6h0M275.6 14.7h0M276.7 16.3h0M277.3 21.4h0M278.1 14.3h0M279.0 16.1h0M279.7 17.0h0M280.3 15.0h0M281.5 16.8h0M281.8 10.4h0M282.9 13.9h0M283.7 15.7h0M284.9 16.1h0M285.7 15.2h0M285.9 13.5h0M287.2 16.0h0M287.8 13.8h0M288.5 15.9h0M289.3 13.3h0M289.9 14.2h0M291.1 18.9h0M291.7 12.7h0M292.1 17.2h0M293.3 15.4h0M293.9 16.6h0M294.5 14.6h0M295.7 16.9h0M296.2 15.2h0M296.7 14.7h0M297.8 18.1h0M298.3 14.2h0M299.0 14.4h0M300.0 15.5h0M300.6 12.0h0M301.5 12.1h0M302.8 16.7h0M303.3 15.8h0M303.7 12.8h0M304.9 14.5h0M305.9 10.8h0M306.2 14.0h0M307.1 14.3h0M307.6 12.0h0M308.4 13.9h0M309.6 10.9h0M310.0 10.4h0M311.1 15.3h0M311.9 15.0h0M312.9 14.0h0M313.4 16.8h0M314.2 15.0h0M315.3 13.0h0M316.1 14.2h0M316.2 12.2h0M317.5 16.4h0M317.8 13.5h0M318.7 15.4h0M319.9 13.5h0M320.1 13.2h0M321.1 15.9h0M321.9 15.3h0M323.0 16.0h0M323.4 11.3h0M324.5 15.3h0M325.5 12.2h0M325.7 12.2h0M326.4 15.4h0M327.4 12.4h0M328.0 14.5h0M328.7 13.3h0M329.5 12.2h0M330.8 11.3h0" stroke="#7a0f0f" stroke-width="2.6" stroke-linecap="round" fill="none"/>
<path d="M45.9 5.7 46.2 5.7 46.6 5.7 47.0 5.7 47.4 5.7 47.8 5.7 48.2 5.7 48.6 5.7 49.0 5.7 49.4 5.7 49.8 5.7 50.1 5.7 50.5 5.8 50.9 5.8 51.3 5.8 51.7 5.8 52.1 5.8 52.5 5.9 52.9 5.9 53.3 6.0 53.6 6.1 54.0 6.3 54.4 6.5 54.8 6.8 55.2 7.2 55.6 7.8 56.0 8.6 56.4 9.5 56.8 10.8 57.2 12.4 57.6 14.4 57.9 16.8 58.3 19.8 58.7 23.3 59.1 27.5 59.5 32.4 59.9 38.0 60.3 44.3 60.7 51.4 61.1 59.1 61.5 67.6 61.8 76.7 62.2 86.3 62.6 96.3 63.0 106.5 63.4 116.9 63.8 127.4 64.2 137.6 64.6 147.6 65.0 157.2 65.3 166.3 65.7 174.7 66.1 182.5 66.5 189.6 66.9 195.9 67.3 201.5 67.7 206.4 68.1 210.6 68.5 214.1 68.9 217.1 69.2 219.5 69.6 221.5 70.0 220.4 70.4 219.0 70.8 217.3 71.2 215.4 71.6 213.3 72.0 211.2 72.4 208.9 72.8 206.7 73.2 204.4 73.5 202.0 73.9 199.7 74.3 197.4 74.7 195.1 75.1 192.9 75.5 190.6 75.9 188.4 76.3 186.2 76.7 184.0 77.1 181.9 77.4 179.8 77.8 177.7 78.2 175.7 78.6 173.7 79.0 171.7 79.4 169.7 79.8 167.8 80.2 165.9 80.6 164.0 81.0 162.2 81.3 160.3 81.7 158.5 82.1 156.8 82.5 155.0 82.9 153.3 83.3 151.6 83.7 149.9 84.1 148.3 84.5 146.6 84.8 145.0 85.2 143.4 85.6 141.9 86.0 140.3 86.4 138.8 86.8 137.3 87.2 135.8 87.6 134.4 88.0 132.9 88.4 131.5 88.8 130.1 89.1 128.7 89.5 127.4 89.9 126.1 90.3 124.7 90.7 123.4 91.1 122.1 91.5 120.9 91.9 119.6 92.3 118.4 92.7 117.2 93.0 116.0 93.4 114.8 93.8 113.6 94.2 112.5 94.6 111.3 95.0 110.2 95.4 109.1 95.8 108.0 96.2 106.9 96.6 105.9 96.9 104.8 97.3 103.8 97.7 102.8 98.1 101.8 98.5 100.8 98.9 99.8 99.3 98.9 99.7 97.9 100.1 97.0 100.5 96.1 100.8 95.1 101.2 94.2 101.6 93.4 102.0 92.5 102.4 91.6 102.8 90.8 103.2 89.9 103.6 89.1 104.0 88.3 104.3 87.5 104.7 86.7 105.1 85.9 105.5 85.1 105.9 84.3 106.3 83.6 106.7 82.8 107.1 82.1 107.5 81.4 107.9 80.7 108.2 80.0 108.6 79.3 109.0 78.6 109.4 77.9 109.8 77.2 110.2 76.6 110.6 75.9 111.0 75.3 111.4 74.6 111.8 74.0 112.2 73.4 112.5 72.8 112.9 72.2 113.3 71.6 113.7 71.0 114.1 70.4 114.5 69.8 114.9 69.3 115.3 68.7 115.7 68.2 116.1 67.6 116.4 67.1 116.8 66.5 117.2 66.0 117.6 65.5 118.0 65.0 118.4 64.5 118.8 64.0 119.2 63.5 119.6 63.0 120.0 62.5 120.3 62.1 120.7 61.6 121.1 61.1 121.5 60.7 121.9 60.2 122.3 59.8 122.7 59.4 123.1 58.9 123.5 58.5 123.8 58.1 124.2 57.7 124.6 57.2 125.0 56.8 125.4 56.4 125.8 56.0 126.2 55.6 126.6 55.3 127.0 54.9 127.4 54.5 127.8 54.1 128.1 53.8 128.5 53.4 128.9 53.0 129.3 52.7 129.7 52.3 130.1 52.0 130.5 51.6 130.9 51.3 131.3 51.0 131.7 50.6 132.0 50.3 132.4 50.0 132.8 49.7 133.2 49.4 133.6 49.0 134.0 48.7 134.4 48.4 134.8 48.1 135.2 47.8 135.6 47.5 135.9 47.2 136.3 47.0 136.7 46.7 137.1 46.4 137.5 46.1 137.9 45.8 138.3 45.6 138.7 45.3 139.1 45.0 139.4 44.8 139.8 44.5 140.2 44.3 140.6 44.0 141.0 43.8 141.4 43.5 141.8 43.3 142.2 43.0 142.6 42.8 143.0 42.6 143.3 42.3 143.7 42.1 144.1 41.9 144.5 41.6 144.9 41.4 145.3 41.2 145.7 41.0 146.1 40.8 146.5 40.5 146.9 40.3 147.2 40.1 147.6 39.9 148.0 39.7 148.4 39.5 148.8 39.3 149.2 39.1 149.6 38.9 150.0 38.7 150.4 38.5 150.8 38.3 151.2 38.1 151.5 37.9 151.9 37.8 152.3 37.6 152.7 37.4 153.1 37.2 153.5 37.0 153.9 36.9 154.3 36.7 154.7 36.5 155.1 36.4 155.4 36.2 155.8 36.0 156.2 35.9 156.6 35.7 157.0 35.5 157.4 35.4 157.8 35.2 158.2 35.1 158.6 34.9 158.9 34.7 159.3 34.6 159.7 34.4 160.1 34.3 160.5 34.1 160.9 34.0 161.3 33.8 161.7 33.7 162.1 33.6 162.5 33.4 162.8 33.3 163.2 33.1 163.6 33.0 164.0 32.9 164.4 32.7 164.8 32.6 165.2 32.5 165.6 32.3 166.0 32.2 166.4 32.1 166.8 31.9 167.1 31.8 167.5 31.7 167.9 31.6 168.3 31.4 168.7 31.3 169.1 31.2 169.5 31.1 169.9 31.0 170.3 30.8 170.7 30.7 171.0 30.6 171.4 30.5 171.8 30.4 172.2 30.3 172.6 30.2 173.0 30.1 173.4 29.9 173.8 29.8 174.2 29.7 174.6 29.6 174.9 29.5 175.3 29.4 175.7 29.3 176.1 29.2 176.5 29.1 176.9 29.0 177.3 28.9 177.7 28.8 178.1 28.7 178.4 28.6 178.8 28.5 179.2 28.4 179.6 28.3 180.0 28.2 180.4 28.1 180.8 28.0 181.2 27.9 181.6 27.8 182.0 27.7 182.3 27.6 182.7 27.5 183.1 27.5 183.5 27.4 183.9 27.3 184.3 27.2 184.7 27.1 185.1 27.0 185.5 26.9 185.9 26.8 186.2 26.8 186.6 26.7 187.0 26.6 187.4 26.5 187.8 26.4 188.2 26.3 188.6 26.3 189.0 26.2 189.4 26.1 189.8 26.0 190.2 25.9 190.5 25.9 190.9 25.8 191.3 25.7 191.7 25.6 192.1 25.6 192.5 25.5 192.9 25.4 193.3 25.3 193.7 25.3 194.1 25.2 194.4 25.1 194.8 25.0 195.2 25.0 195.6 24.9 196.0 24.8 196.4 24.7 196.8 24.7 197.2 24.6 197.6 24.5 197.9 24.5 198.3 24.4 198.7 24.3 199.1 24.3 199.5 24.2 199.9 24.1 200.3 24.1 200.7 24.0 201.1 23.9 201.5 23.9 201.8 23.8 202.2 23.7 202.6 23.7 203.0 23.6 203.4 23.5 203.8 23.5 204.2 23.4 204.6 23.4 205.0 23.3 205.4 23.2 205.7 23.2 206.1 23.1 206.5 23.0 206.9 23.0 207.3 22.9 207.7 22.9 208.1 22.8 208.5 22.7 208.9 22.7 209.3 22.6 209.7 22.6 210.0 22.5 210.4 22.5 210.8 22.4 211.2 22.3 211.6 22.3 212.0 22.2 212.4 22.2 212.8 22.1 213.2 22.1 213.5 22.0 213.9 22.0 214.3 21.9 214.7 21.8 215.1 21.8 215.5 21.7 215.9 21.7 216.3 21.6 216.7 21.6 217.1 21.5 217.5 21.5 217.8 21.4 218.2 21.4 218.6 21.3 219.0 21.3 219.4 21.2 219.8 21.2 220.2 21.1 220.6 21.1 221.0 21.0 221.3 21.0 221.7 20.9 222.1 20.9 222.5 20.8 222.9 20.8 223.3 20.7 223.7 20.7 224.1 20.6 224.5 20.6 224.9 20.5 225.3 20.5 225.6 20.4 226.0 20.4 226.4 20.3 226.8 20.3 227.2 20.2 227.6 20.2 228.0 20.2 228.4 20.1 228.8 20.1 229.2 20.0 229.5 20.0 229.9 19.9 230.3 19.9 230.7 19.8 231.1 19.8 231.5 19.8 231.9 19.7 232.3 19.7 232.7 19.6 233.0 19.6 233.4 19.5 233.8 19.5 234.2 19.5 234.6 19.4 235.0 19.4 235.4 19.3 235.8 19.3 236.2 19.2 236.6 19.2 237.0 19.2 237.3 19.1 237.7 19.1 238.1 19.0 238.5 19.0 238.9 19.0 239.3 18.9 239.7 18.9 240.1 18.8 240.5 18.8 240.8 18.8 241.2 18.7 241.6 18.7 242.0 18.6 242.4 18.6 242.8 18.6 243.2 18.5 243.6 18.5 244.0 18.4 244.4 18.4 244.8 18.4 245.1 18.3 245.5 18.3 245.9 18.3 246.3 18.2 246.7 18.2 247.1 18.1 247.5 18.1 247.9 18.1 248.3 18.0 248.7 18.0 249.0 18.0 249.4 17.9 249.8 17.9 250.2 17.8 250.6 17.8 251.0 17.8 251.4 17.7 251.8 17.7 252.2 17.7 252.5 17.6 252.9 17.6 253.3 17.6 253.7 17.5 254.1 17.5 254.5 17.5 254.9 17.4 255.3 17.4 255.7 17.4 256.1 17.3 256.5 17.3 256.8 17.3 257.2 17.2 257.6 17.2 258.0 17.1 258.4 17.1 258.8 17.1 259.2 17.0 259.6 17.0 260.0 17.0 260.4 17.0 260.7 16.9 261.1 16.9 261.5 16.9 261.9 16.8 262.3 16.8 262.7 16.8 263.1 16.7 263.5 16.7 263.9 16.7 264.3 16.6 264.6 16.6 265.0 16.6 265.4 16.5 265.8 16.5 266.2 16.5 266.6 16.4 267.0 16.4 267.4 16.4 267.8 16.3 268.2 16.3 268.5 16.3 268.9 16.3 269.3 16.2 269.7 16.2 270.1 16.2 270.5 16.1 270.9 16.1 271.3 16.1 271.7 16.0 272.1 16.0 272.4 16.0 272.8 16.0 273.2 15.9 273.6 15.9 274.0 15.9 274.4 15.8 274.8 15.8 275.2 15.8 275.6 15.8 276.0 15.7 276.3 15.7 276.7 15.7 277.1 15.6 277.5 15.6 277.9 15.6 278.3 15.6 278.7 15.5 279.1 15.5 279.5 15.5 279.9 15.4 280.2 15.4 280.6 15.4 281.0 15.4 281.4 15.3 281.8 15.3 282.2 15.3 282.6 15.3 283.0 15.2 283.4 15.2 283.8 15.2 284.1 15.1 284.5 15.1 284.9 15.1 285.3 15.1 285.7 15.0 286.1 15.0 286.5 15.0 286.9 15.0 287.3 14.9 287.7 14.9 288.0 14.9 288.4 14.9 288.8 14.8 289.2 14.8 289.6 14.8 290.0 14.8 290.4 14.7 290.8 14.7 291.2 14.7 291.6 14.7 291.9 14.6 292.3 14.6 292.7 14.6 293.1 14.6 293.5 14.5 293.9 14.5 294.3 14.5 294.7 14.5 295.1 14.4 295.5 14.4 295.8 14.4 296.2 14.4 296.6 14.3 297.0 14.3 297.4 14.3 297.8 14.3 298.2 14.2 298.6 14.2 299.0 14.2 299.4 14.2 299.7 14.2 300.1 14.1 300.5 14.1 300.9 14.1 301.3 14.1 301.7 14.0 302.1 14.0 302.5 14.0 302.9 14.0 303.3 13.9 303.6 13.9 304.0 13.9 304.4 13.9 304.8 13.9 305.2 13.8 305.6 13.8 306.0 13.8 306.4 13.8 306.8 13.7 307.2 13.7 307.5 13.7 307.9 13.7 308.3 13.7 308.7 13.6 309.1 13.6 309.5 13.6 309.9 13.6 310.3 13.5 310.7 13.5 311.1 13.5 311.4 13.5 311.8 13.5 312.2 13.4 312.6 13.4 313.0 13.4 313.4 13.4 313.8 13.4 314.2 13.3 314.6 13.3 315.0 13.3 315.3 13.3 315.7 13.3 316.1 13.2 316.5 13.2 316.9 13.2 317.3 13.2 317.7 13.1 318.1 13.1 318.5 13.1 318.9 13.1 319.2 13.1 319.6 13.0 320.0 13.0 320.4 13.0 320.8 13.0 321.2 13.0 321.6 12.9 322.0 12.9 322.4 12.9 322.8 12.9 323.1 12.9 323.5 12.9 323.9 12.8 324.3 12.8 324.7 12.8 325.1 12.8 325.5 12.8 325.9 12.7 326.3 12.7 326.7 12.7 327.0 12.7 327.4 12.7 327.8 12.6 328.2 12.6 328.6 12.6 329.0 12.6 329.4 12.6 329.8 12.5 330.2 12.5 330.6 12.5" stroke="#3c9c2c" stroke-width="3.20" fill="none" stroke-linejoin="round"/>
<path d="M45.6 6.6h0M46.6 6.3h0M47.5 4.9h0M48.4 5.2h0M48.7 7.3h0M49.7 6.2h0M50.8 5.4h0M51.1 5.4h0M51.7 5.6h0M52.7 5.9h0M53.7 6.1h0M54.8 7.3h0M55.6 6.8h0M56.1 9.0h0M56.8 11.1h0M57.6 14.0h0M58.1 19.5h0M58.8 27.4h0M59.8 38.3h0M61.0 50.4h0M61.2 67.0h0M62.0 83.1h0M63.3 106.6h0M63.9 128.0h0M64.8 147.5h0M65.1 165.8h0M66.4 183.1h0M66.6 195.8h0M67.4 206.0h0M68.4 213.9h0M69.4 219.5h0M69.7 219.9h0M70.5 217.0h0M71.3 212.8h0M72.2 208.6h0M73.5 204.2h0M73.6 200.4h0M74.7 195.5h0M75.4 191.0h0M76.1 186.8h0M77.4 181.5h0M77.7 177.9h0M78.6 173.4h0M79.0 169.5h0M80.4 166.0h0M81.2 162.6h0M81.6 158.6h0M82.3 154.5h0M83.0 151.0h0M83.7 147.6h0M84.9 145.7h0M85.7 141.3h0M86.4 138.9h0M87.0 136.2h0M88.0 134.6h0M88.8 129.8h0M89.3 128.9h0M90.5 125.0h0M91.0 122.6h0M91.8 119.2h0M92.3 116.8h0M93.8 114.6h0M94.5 113.7h0M95.2 111.3h0M96.0 107.3h0M96.5 106.3h0M97.1 103.5h0M98.5 101.8h0M99.2 97.8h0M99.7 98.0h0M100.8 96.3h0M101.4 95.4h0M101.9 90.0h0M102.5 89.6h0M103.4 92.3h0M104.5 87.8h0M105.4 86.2h0M105.9 81.1h0M106.6 82.7h0M107.1 80.1h0M107.9 79.1h0M108.8 80.8h0M110.1 80.5h0M110.5 80.8h0M111.7 75.9h0M112.2 71.7h0M113.1 72.6h0M113.5 70.9h0M114.3 72.2h0M115.4 69.6h0M116.4 66.9h0M117.1 67.5h0M117.6 67.4h0M118.8 63.4h0M119.0 60.0h0M119.7 64.3h0M120.4 60.9h0M121.2 60.5h0M121.9 58.6h0M123.2 57.8h0M123.9 58.6h0M124.5 57.6h0M125.7 56.3h0M126.5 53.9h0M127.2 53.7h0M128.0 53.8h0M128.5 53.7h0M129.6 51.8h0M129.9 53.4h0M130.9 52.9h0M131.7 53.3h0M132.1 47.4h0M133.1 48.3h0M133.7 50.1h0M134.5 49.5h0M135.2 47.4h0M136.2 48.3h0M137.4 47.7h0M137.8 44.0h0M139.0 45.4h0M139.2 42.8h0M140.3 44.3h0M140.7 44.6h0M142.1 45.5h0M142.3 43.9h0M143.1 40.4h0M144.3 42.2h0M144.8 40.4h0M145.7 41.6h0M146.4 39.9h0M147.5 39.7h0M147.8 38.7h0M148.6 37.8h0M149.2 39.0h0M150.1 38.6h0M151.2 38.2h0M152.1 38.5h0M152.7 38.0h0M153.2 36.7h0M154.5 37.4h0M155.1 36.1h0M156.2 37.1h0M156.8 37.3h0M157.6 37.6h0M158.3 33.9h0M158.7 37.1h0M160.0 32.8h0M160.6 36.6h0M161.0 33.7h0M161.7 34.0h0M162.8 34.6h0M163.3 32.3h0M164.7 32.2h0M165.3 30.4h0M166.3 33.8h0M167.1 32.1h0M167.4 31.6h0M168.6 33.1h0M168.8 32.1h0M169.7 32.5h0M170.9 31.6h0M171.3 30.0h0M172.5 29.0h0M173.3 30.7h0M174.1 30.9h0M174.9 31.3h0M175.5 28.2h0M176.1 30.0h0M176.7 27.8h0M177.4 29.1h0M178.6 29.3h0M179.4 29.1h0M179.7 28.2h0M181.1 27.8h0M181.7 27.3h0M182.1 25.8h0M183.0 25.4h0M184.0 24.8h0M184.5 25.7h0M185.5 29.4h0M185.9 26.7h0M186.7 26.5h0M187.9 27.4h0M188.6 26.3h0M189.6 26.1h0M189.8 27.7h0M190.6 24.8h0M191.6 23.1h0M192.8 26.3h0M193.1 25.4h0M194.1 24.8h0M195.0 26.2h0M195.7 24.5h0M196.5 23.4h0M197.0 23.2h0M197.9 23.6h0M198.9 25.1h0M199.7 23.2h0M200.6 23.1h0M200.9 22.9h0M201.8 21.4h0M203.0 21.9h0M203.6 22.2h0M204.3 23.2h0M205.3 21.6h0M205.6 21.8h0M206.4 22.6h0M207.2 23.1h0M208.3 22.7h0M208.5 19.8h0M209.9 19.6h0M210.2 23.0h0M211.2 25.8h0M212.3 21.0h0M212.9 22.0h0M213.4 24.5h0M214.0 22.6h0M215.1 20.1h0M215.5 22.1h0M216.4 24.2h0M217.6 22.4h0M218.1 20.9h0M218.7 23.0h0M219.5 18.6h0M220.6 20.9h0M221.7 19.4h0M222.5 20.7h0M222.9 22.7h0M223.7 18.7h0M224.3 22.3h0M225.4 18.5h0M226.3 21.9h0M226.8 22.1h0M227.3 19.8h0M228.5 19.7h0M229.3 17.5h0M229.9 19.8h0M231.0 14.4h0M231.6 20.5h0M232.6 22.4h0M232.9 19.0h0M233.6 17.8h0M234.7 19.8h0M235.5 20.0h0M236.3 19.7h0M237.3 21.0h0M238.0 19.0h0M238.3 19.4h0M239.1 18.8h0M239.8 18.9h0M241.1 20.6h0M241.3 16.8h0M242.8 19.4h0M243.1 16.7h0M243.8 19.5h0M245.1 19.2h0M245.5 20.1h0M246.5 16.2h0M246.9 18.5h0M248.2 17.4h0M248.8 18.9h0M249.5 17.0h0M250.0 17.1h0M250.7 17.6h0M251.5 17.4h0M252.5 13.6h0M253.4 18.3h0M254.2 15.8h0M254.9 16.7h0M256.0 17.2h0M256.8 18.6h0M257.4 18.2h0M258.1 17.8h0M258.8 18.8h0M259.4 16.1h0M260.1 16.2h0M261.2 16.9h0M261.7 19.2h0M263.0 17.8h0M263.8 18.0h0M264.4 17.1h0M265.3 17.1h0M266.1 18.1h0M266.7 18.3h0M267.6 13.9h0M268.2 15.2h0M269.0 16.9h0M269.4 14.2h0M270.7 18.3h0M270.9 16.1h0M271.7 14.4h0M272.9 15.2h0M274.0 17.4h0M274.3 12.7h0M274.8 16.3h0M276.0 15.0h0M276.7 15.5h0M277.8 14.8h0M278.4 17.4h0M278.9 16.8h0M279.6 14.9h0M280.6 15.5h0M281.4 15.4h0M282.5 16.4h0M283.3 16.0h0M283.9 15.0h0M284.2 15.5h0M285.4 13.3h0M285.9 14.6h0M286.7 17.7h0M287.6 14.7h0M288.1 13.5h0M289.0 14.8h0M289.8 13.7h0M290.8 16.3h0M291.2 14.5h0M292.1 14.0h0M292.8 12.8h0M294.3 13.7h0M295.0 15.5h0M295.8 12.7h0M296.4 14.3h0M297.1 13.9h0M297.7 12.8h0M298.4 12.8h0M299.4 14.7h0M300.2 15.8h0M300.6 14.6h0M301.8 12.8h0M302.5 12.9h0M303.5 13.6h0M304.3 15.7h0M305.2 12.5h0M305.5 13.0h0M306.1 12.9h0M306.8 16.1h0M308.0 12.6h0M308.9 14.6h0M309.4 10.9h0M309.9 11.8h0M311.2 11.9h0M311.6 13.7h0M312.6 12.1h0M313.2 13.0h0M314.4 12.2h0M315.3 12.1h0M315.7 13.4h0M316.1 14.1h0M317.4 11.0h0M318.1 12.5h0M318.5 11.8h0M319.8 15.6h0M320.5 10.3h0M321.0 9.3h0M322.2 16.2h0M322.7 12.6h0M323.7 13.3h0M324.2 14.4h0M324.9 11.8h0M326.1 13.6h0M326.7 12.0h0M327.4 12.2h0M328.2 13.9h0M329.3 11.4h0M329.4 13.7h0M330.6 11.8h0" stroke="#3c9c2c" stroke-width="2.6" stroke-linecap="round" fill="none"/>
</g>
<rect x="47.5" y="3.5" width="281.3" height="226.1" fill="none" stroke="#000" stroke-width="2"/>
<path d="M43.0 6.3h4.5M43.0 34.2h4.5M43.0 62.2h4.5M43.0 90.1h4.5M43.0 118.1h4.5M43.0 146.1h4.5M43.0 174.0h4.5M43.0 202.0h4.5M43.0 229.9h4.5" stroke="#000" stroke-width="2" fill="none"/>
<text transform="translate(39.2 9.9) scale(1 1.120)" font-size="11.70" font-weight="bold" text-anchor="end" fill="#000">0</text>
<text transform="translate(39.2 37.9) scale(1 1.120)" font-size="11.70" font-weight="bold" text-anchor="end" fill="#000">-5</text>
<text transform="translate(39.2 65.8) scale(1 1.120)" font-size="11.70" font-weight="bold" text-anchor="end" fill="#000">-10</text>
<text transform="translate(39.2 93.7) scale(1 1.120)" font-size="11.70" font-weight="bold" text-anchor="end" fill="#000">-15</text>
<text transform="translate(39.2 121.7) scale(1 1.120)" font-size="11.70" font-weight="bold" text-anchor="end" fill="#000">-20</text>
<text transform="translate(39.2 149.7) scale(1 1.120)" font-size="11.70" font-weight="bold" text-anchor="end" fill="#000">-25</text>
<text transform="translate(39.2 177.6) scale(1 1.120)" font-size="11.70" font-weight="bold" text-anchor="end" fill="#000">-30</text>
<text transform="translate(39.2 205.6) scale(1 1.120)" font-size="11.70" font-weight="bold" text-anchor="end" fill="#000">-35</text>
<text transform="translate(39.2 233.5) scale(1 1.120)" font-size="11.70" font-weight="bold" text-anchor="end" fill="#000">-40</text>
<path d="M55.6 229.6v4.0M94.6 229.6v4.0M133.6 229.6v4.0M172.6 229.6v4.0M211.6 229.6v4.0M250.6 229.6v4.0M289.6 229.6v4.0M328.6 229.6v4.0" stroke="#000" stroke-width="2" fill="none"/>
<text transform="translate(55.6 246.8) scale(1 1.120)" font-size="11.70" font-weight="bold" text-anchor="middle" fill="#000">0</text>
<text transform="translate(94.6 246.8) scale(1 1.120)" font-size="11.70" font-weight="bold" text-anchor="middle" fill="#000">1</text>
<text transform="translate(133.6 246.8) scale(1 1.120)" font-size="11.70" font-weight="bold" text-anchor="middle" fill="#000">2</text>
<text transform="translate(172.6 246.8) scale(1 1.120)" font-size="11.70" font-weight="bold" text-anchor="middle" fill="#000">3</text>
<text transform="translate(211.6 246.8) scale(1 1.120)" font-size="11.70" font-weight="bold" text-anchor="middle" fill="#000">4</text>
<text transform="translate(250.6 246.8) scale(1 1.120)" font-size="11.70" font-weight="bold" text-anchor="middle" fill="#000">5</text>
<text transform="translate(289.6 246.8) scale(1 1.120)" font-size="11.70" font-weight="bold" text-anchor="middle" fill="#000">6</text>
<text transform="translate(328.6 246.8) scale(1 1.120)" font-size="11.70" font-weight="bold" text-anchor="middle" fill="#000">7</text>
<text x="178.9" y="264.3" font-size="12.60" font-weight="bold" text-anchor="middle" fill="#000" textLength="94.0" lengthAdjust="spacingAndGlyphs">Decay time (ps)</text>
<text transform="translate(18.0 100.0) rotate(-90)" x="0" y="0" font-size="12.40" font-weight="bold" text-anchor="middle" textLength="66.6" lengthAdjust="spacingAndGlyphs"><tspan font-weight="normal">&#916;</tspan>T/T(mOD)</text>
<text x="0.3" y="28.6" font-size="19.00" font-weight="normal" text-anchor="start" fill="#000" textLength="20.6" lengthAdjust="spacingAndGlyphs">(a)</text>
<g clip-path="url(#cb)">
<path d="M388.8 8.2 389.2 8.2 389.6 8.2 390.0 8.2 390.4 8.2 390.8 8.2 391.1 8.2 391.5 8.2 391.9 8.2 392.3 8.2 392.7 8.2 393.1 8.2 393.4 8.2 393.8 8.2 394.2 8.2 394.6 8.2 395.0 8.2 395.4 8.2 395.8 8.2 396.1 8.2 396.5 8.2 396.9 8.2 397.3 8.2 397.7 8.2 398.1 8.2 398.4 8.2 398.8 8.2 399.2 8.2 399.6 8.2 400.0 8.2 400.4 8.2 400.8 8.2 401.1 8.2 401.5 8.2 401.9 8.3 402.3 8.3 402.7 8.3 403.1 8.3 403.5 8.4 403.8 8.5 404.2 8.5 404.6 8.6 405.0 8.7 405.4 8.9 405.8 9.0 406.2 9.2 406.5 9.5 406.9 9.8 407.3 10.1 407.7 10.6 408.1 11.0 408.5 11.6 408.8 12.3 409.2 13.1 409.6 14.0 410.0 15.0 410.4 16.2 410.8 17.5 411.2 19.0 411.5 20.7 411.9 22.6 412.3 24.7 412.7 26.9 413.1 29.4 413.5 32.1 413.9 35.1 414.2 38.2 414.6 41.5 415.0 45.1 415.4 48.8 415.8 52.7 416.2 56.8 416.5 61.1 416.9 65.4 417.3 69.9 417.7 74.4 418.1 79.0 418.5 83.7 418.9 88.3 419.2 92.9 419.6 97.4 420.0 101.9 420.4 106.3 420.8 110.5 421.2 114.6 421.6 118.5 421.9 122.2 422.3 125.8 422.7 129.1 423.1 132.3 423.5 135.2 423.9 137.9 424.2 140.4 424.6 142.6 425.0 144.7 425.4 146.6 425.8 148.3 426.2 149.8 426.6 151.1 426.9 152.3 427.3 153.3 427.7 154.2 428.1 155.0 428.5 155.7 428.9 156.3 429.2 156.8 429.6 155.5 430.0 154.1 430.4 152.8 430.8 151.3 431.2 149.9 431.6 148.5 431.9 147.0 432.3 145.5 432.7 144.1 433.1 142.6 433.5 141.1 433.9 139.7 434.3 138.2 434.6 136.8 435.0 135.4 435.4 134.0 435.8 132.6 436.2 131.2 436.6 129.9 436.9 128.5 437.3 127.2 437.7 125.9 438.1 124.6 438.5 123.3 438.9 122.1 439.3 120.8 439.6 119.6 440.0 118.4 440.4 117.2 440.8 116.0 441.2 114.9 441.6 113.7 442.0 112.6 442.3 111.5 442.7 110.4 443.1 109.3 443.5 108.2 443.9 107.1 444.3 106.1 444.7 105.1 445.0 104.0 445.4 103.0 445.8 102.0 446.2 101.1 446.6 100.1 447.0 99.1 447.3 98.2 447.7 97.3 448.1 96.3 448.5 95.4 448.9 94.5 449.3 93.7 449.7 92.8 450.0 91.9 450.4 91.1 450.8 90.2 451.2 89.4 451.6 88.6 452.0 87.8 452.4 87.0 452.7 86.2 453.1 85.4 453.5 84.6 453.9 83.9 454.3 83.1 454.7 82.4 455.0 81.6 455.4 80.9 455.8 80.2 456.2 79.5 456.6 78.8 457.0 78.1 457.4 77.5 457.7 76.8 458.1 76.1 458.5 75.5 458.9 74.8 459.3 74.2 459.7 73.6 460.1 72.9 460.4 72.3 460.8 71.7 461.2 71.1 461.6 70.5 462.0 70.0 462.4 69.4 462.7 68.8 463.1 68.3 463.5 67.7 463.9 67.2 464.3 66.6 464.7 66.1 465.1 65.6 465.4 65.0 465.8 64.5 466.2 64.0 466.6 63.5 467.0 63.0 467.4 62.5 467.8 62.0 468.1 61.6 468.5 61.1 468.9 60.6 469.3 60.2 469.7 59.7 470.1 59.3 470.4 58.8 470.8 58.4 471.2 57.9 471.6 57.5 472.0 57.1 472.4 56.7 472.8 56.3 473.1 55.8 473.5 55.4 473.9 55.0 474.3 54.7 474.7 54.3 475.1 53.9 475.4 53.5 475.8 53.1 476.2 52.8 476.6 52.4 477.0 52.0 477.4 51.7 477.8 51.3 478.1 51.0 478.5 50.6 478.9 50.3 479.3 49.9 479.7 49.6 480.1 49.3 480.5 48.9 480.8 48.6 481.2 48.3 481.6 48.0 482.0 47.7 482.4 47.4 482.8 47.1 483.2 46.8 483.5 46.5 483.9 46.2 484.3 45.9 484.7 45.6 485.1 45.3 485.5 45.0 485.8 44.8 486.2 44.5 486.6 44.2 487.0 43.9 487.4 43.7 487.8 43.4 488.2 43.2 488.5 42.9 488.9 42.6 489.3 42.4 489.7 42.1 490.1 41.9 490.5 41.7 490.9 41.4 491.2 41.2 491.6 40.9 492.0 40.7 492.4 40.5 492.8 40.3 493.2 40.0 493.5 39.8 493.9 39.6 494.3 39.4 494.7 39.2 495.1 38.9 495.5 38.7 495.9 38.5 496.2 38.3 496.6 38.1 497.0 37.9 497.4 37.7 497.8 37.5 498.2 37.3 498.6 37.1 498.9 36.9 499.3 36.7 499.7 36.6 500.1 36.4 500.5 36.2 500.9 36.0 501.2 35.8 501.6 35.6 502.0 35.5 502.4 35.3 502.8 35.1 503.2 35.0 503.6 34.8 503.9 34.6 504.3 34.5 504.7 34.3 505.1 34.1 505.5 34.0 505.9 33.8 506.2 33.6 506.6 33.5 507.0 33.3 507.4 33.2 507.8 33.0 508.2 32.9 508.6 32.7 508.9 32.6 509.3 32.4 509.7 32.3 510.1 32.2 510.5 32.0 510.9 31.9 511.3 31.7 511.6 31.6 512.0 31.5 512.4 31.3 512.8 31.2 513.2 31.1 513.6 30.9 514.0 30.8 514.3 30.7 514.7 30.5 515.1 30.4 515.5 30.3 515.9 30.2 516.3 30.0 516.6 29.9 517.0 29.8 517.4 29.7 517.8 29.6 518.2 29.4 518.6 29.3 519.0 29.2 519.3 29.1 519.7 29.0 520.1 28.9 520.5 28.8 520.9 28.7 521.3 28.5 521.6 28.4 522.0 28.3 522.4 28.2 522.8 28.1 523.2 28.0 523.6 27.9 524.0 27.8 524.3 27.7 524.7 27.6 525.1 27.5 525.5 27.4 525.9 27.3 526.3 27.2 526.7 27.1 527.0 27.0 527.4 26.9 527.8 26.8 528.2 26.7 528.6 26.6 529.0 26.5 529.4 26.5 529.7 26.4 530.1 26.3 530.5 26.2 530.9 26.1 531.3 26.0 531.7 25.9 532.0 25.8 532.4 25.8 532.8 25.7 533.2 25.6 533.6 25.5 534.0 25.4 534.4 25.3 534.7 25.3 535.1 25.2 535.5 25.1 535.9 25.0 536.3 24.9 536.7 24.9 537.0 24.8 537.4 24.7 537.8 24.6 538.2 24.5 538.6 24.5 539.0 24.4 539.4 24.3 539.7 24.2 540.1 24.2 540.5 24.1 540.9 24.0 541.3 23.9 541.7 23.9 542.1 23.8 542.4 23.7 542.8 23.7 543.2 23.6 543.6 23.5 544.0 23.5 544.4 23.4 544.8 23.3 545.1 23.3 545.5 23.2 545.9 23.1 546.3 23.1 546.7 23.0 547.1 22.9 547.4 22.9 547.8 22.8 548.2 22.7 548.6 22.7 549.0 22.6 549.4 22.5 549.8 22.5 550.1 22.4 550.5 22.4 550.9 22.3 551.3 22.2 551.7 22.2 552.1 22.1 552.5 22.1 552.8 22.0 553.2 21.9 553.6 21.9 554.0 21.8 554.4 21.8 554.8 21.7 555.1 21.7 555.5 21.6 555.9 21.5 556.3 21.5 556.7 21.4 557.1 21.4 557.5 21.3 557.8 21.3 558.2 21.2 558.6 21.2 559.0 21.1 559.4 21.1 559.8 21.0 560.2 20.9 560.5 20.9 560.9 20.8 561.3 20.8 561.7 20.7 562.1 20.7 562.5 20.6 562.8 20.6 563.2 20.5 563.6 20.5 564.0 20.4 564.4 20.4 564.8 20.3 565.2 20.3 565.5 20.2 565.9 20.2 566.3 20.1 566.7 20.1 567.1 20.1 567.5 20.0 567.9 20.0 568.2 19.9 568.6 19.9 569.0 19.8 569.4 19.8 569.8 19.7 570.2 19.7 570.5 19.6 570.9 19.6 571.3 19.5 571.7 19.5 572.1 19.5 572.5 19.4 572.9 19.4 573.2 19.3 573.6 19.3 574.0 19.2 574.4 19.2 574.8 19.2 575.2 19.1 575.6 19.1 575.9 19.0 576.3 19.0 576.7 18.9 577.1 18.9 577.5 18.9 577.9 18.8 578.2 18.8 578.6 18.7 579.0 18.7 579.4 18.7 579.8 18.6 580.2 18.6 580.6 18.5 580.9 18.5 581.3 18.5 581.7 18.4 582.1 18.4 582.5 18.3 582.9 18.3 583.2 18.3 583.6 18.2 584.0 18.2 584.4 18.2 584.8 18.1 585.2 18.1 585.6 18.0 585.9 18.0 586.3 18.0 586.7 17.9 587.1 17.9 587.5 17.9 587.9 17.8 588.3 17.8 588.6 17.7 589.0 17.7 589.4 17.7 589.8 17.6 590.2 17.6 590.6 17.6 591.0 17.5 591.3 17.5 591.7 17.5 592.1 17.4 592.5 17.4 592.9 17.4 593.3 17.3 593.6 17.3 594.0 17.3 594.4 17.2 594.8 17.2 595.2 17.2 595.6 17.1 596.0 17.1 596.3 17.1 596.7 17.0 597.1 17.0 597.5 17.0 597.9 16.9 598.3 16.9 598.7 16.9 599.0 16.8 599.4 16.8 599.8 16.8 600.2 16.7 600.6 16.7 601.0 16.7 601.3 16.6 601.7 16.6 602.1 16.6 602.5 16.5 602.9 16.5 603.3 16.5 603.7 16.4 604.0 16.4 604.4 16.4 604.8 16.4 605.2 16.3 605.6 16.3 606.0 16.3 606.4 16.2 606.7 16.2 607.1 16.2 607.5 16.1 607.9 16.1 608.3 16.1 608.7 16.1 609.0 16.0 609.4 16.0 609.8 16.0 610.2 15.9 610.6 15.9 611.0 15.9 611.4 15.9 611.7 15.8 612.1 15.8 612.5 15.8 612.9 15.7 613.3 15.7 613.7 15.7 614.1 15.7 614.4 15.6 614.8 15.6 615.2 15.6 615.6 15.5 616.0 15.5 616.4 15.5 616.7 15.5 617.1 15.4 617.5 15.4 617.9 15.4 618.3 15.4 618.7 15.3 619.1 15.3 619.4 15.3 619.8 15.2 620.2 15.2 620.6 15.2 621.0 15.2 621.4 15.1 621.8 15.1 622.1 15.1 622.5 15.1 622.9 15.0 623.3 15.0 623.7 15.0 624.1 15.0 624.4 14.9 624.8 14.9 625.2 14.9 625.6 14.9 626.0 14.8 626.4 14.8 626.8 14.8 627.1 14.8 627.5 14.7 627.9 14.7 628.3 14.7 628.7 14.7 629.1 14.6 629.5 14.6 629.8 14.6 630.2 14.6 630.6 14.5 631.0 14.5 631.4 14.5 631.8 14.5 632.1 14.4 632.5 14.4 632.9 14.4 633.3 14.4 633.7 14.3 634.1 14.3 634.5 14.3 634.8 14.3 635.2 14.3 635.6 14.2 636.0 14.2 636.4 14.2 636.8 14.2 637.2 14.1 637.5 14.1 637.9 14.1 638.3 14.1 638.7 14.0 639.1 14.0 639.5 14.0 639.8 14.0 640.2 14.0 640.6 13.9 641.0 13.9 641.4 13.9 641.8 13.9 642.2 13.8 642.5 13.8 642.9 13.8 643.3 13.8 643.7 13.8 644.1 13.7 644.5 13.7 644.9 13.7 645.2 13.7 645.6 13.7 646.0 13.6 646.4 13.6 646.8 13.6 647.2 13.6 647.5 13.5 647.9 13.5 648.3 13.5 648.7 13.5 649.1 13.5 649.5 13.4 649.9 13.4 650.2 13.4 650.6 13.4 651.0 13.4 651.4 13.3 651.8 13.3 652.2 13.3 652.6 13.3 652.9 13.3 653.3 13.2 653.7 13.2 654.1 13.2 654.5 13.2 654.9 13.2 655.2 13.1 655.6 13.1 656.0 13.1 656.4 13.1 656.8 13.1 657.2 13.0 657.6 13.0 657.9 13.0 658.3 13.0 658.7 13.0 659.1 12.9 659.5 12.9 659.9 12.9 660.2 12.9 660.6 12.9 661.0 12.9 661.4 12.8 661.8 12.8 662.2 12.8 662.6 12.8 662.9 12.8 663.3 12.7 663.7 12.7 664.1 12.7 664.5 12.7 664.9 12.7 665.3 12.6 665.6 12.6 666.0 12.6 666.4 12.6 666.8 12.6 667.2 12.6 667.6 12.5 668.0 12.5 668.3 12.5 668.7 12.5 669.1 12.5 669.5 12.5 669.9 12.4 670.3 12.4 670.6 12.4 671.0 12.4 671.4 12.4 671.8 12.3 672.2 12.3 672.6 12.3 673.0 12.3 673.3 12.3" stroke="#000000" stroke-width="3.20" fill="none" stroke-linejoin="round"/>
<path d="M388.5 7.5h0M389.8 8.4h0M390.4 8.3h0M390.9 8.4h0M392.3 8.5h0M392.7 8.1h0M393.3 10.4h0M394.5 8.1h0M394.7 8.8h0M395.5 7.9h0M396.5 8.0h0M397.7 7.9h0M398.4 8.5h0M398.9 8.1h0M400.0 8.6h0M400.6 7.7h0M401.1 8.4h0M402.1 8.5h0M402.6 8.5h0M403.5 8.7h0M404.5 9.0h0M405.3 8.6h0M405.6 9.4h0M406.8 9.8h0M407.2 10.5h0M408.1 11.2h0M409.1 12.6h0M409.2 13.6h0M410.4 15.8h0M411.2 20.0h0M411.6 22.9h0M412.9 27.6h0M413.7 32.0h0M414.1 38.2h0M414.7 45.1h0M416.1 52.7h0M416.7 61.2h0M416.9 69.8h0M418.4 79.5h0M418.7 90.5h0M419.7 97.7h0M420.2 106.2h0M421.5 114.9h0M422.1 122.0h0M423.1 129.1h0M423.7 135.2h0M424.1 140.6h0M425.4 144.7h0M425.9 148.5h0M426.3 151.5h0M427.6 153.2h0M427.7 154.7h0M428.5 156.3h0M429.9 155.0h0M430.2 153.0h0M430.9 150.1h0M431.6 147.1h0M432.3 143.9h0M433.4 139.2h0M434.2 138.4h0M435.3 135.6h0M435.4 133.2h0M436.6 130.6h0M437.5 127.7h0M437.8 124.7h0M439.0 122.1h0M439.6 119.3h0M440.2 117.4h0M440.8 114.7h0M441.9 113.5h0M442.6 111.8h0M443.2 108.6h0M444.2 106.1h0M445.2 104.4h0M445.5 102.3h0M446.7 99.9h0M447.6 95.4h0M448.1 96.6h0M448.7 94.9h0M449.6 92.3h0M450.7 90.1h0M451.0 89.7h0M452.1 88.2h0M452.8 86.1h0M453.9 84.5h0M454.2 83.4h0M455.4 81.4h0M455.5 80.1h0M456.7 79.0h0M457.4 77.0h0M458.3 75.5h0M458.9 74.3h0M459.6 73.7h0M460.4 72.9h0M460.9 69.9h0M461.6 70.0h0M462.8 70.1h0M463.4 68.6h0M464.3 67.0h0M464.9 67.3h0M466.1 64.5h0M466.7 64.6h0M467.5 63.5h0M468.2 58.9h0M468.6 59.9h0M469.5 60.2h0M470.8 59.5h0M471.3 58.3h0M472.0 56.9h0M472.8 56.9h0M473.5 54.3h0M474.5 54.6h0M475.4 52.6h0M476.0 53.4h0M476.9 51.4h0M477.7 51.2h0M478.0 53.2h0M479.3 49.7h0M479.9 49.0h0M480.1 49.0h0M481.0 50.8h0M482.0 47.7h0M482.8 46.9h0M483.7 46.5h0M484.5 46.3h0M484.9 45.3h0M485.7 45.0h0M486.6 43.6h0M487.5 42.9h0M487.9 43.6h0M489.3 43.0h0M489.7 42.2h0M490.7 41.3h0M491.0 41.0h0M492.0 41.1h0M492.7 39.7h0M493.3 39.0h0M494.1 38.4h0M495.4 38.3h0M495.6 39.1h0M496.5 37.7h0M497.6 37.2h0M498.2 37.6h0M498.8 35.7h0M499.8 37.6h0M500.6 35.5h0M501.1 36.9h0M501.8 35.7h0M503.1 34.4h0M503.5 35.3h0M504.0 34.1h0M505.3 34.2h0M506.1 33.9h0M506.7 33.6h0M507.2 34.8h0M508.5 32.6h0M508.8 32.4h0M509.5 33.0h0M510.8 32.3h0M511.3 33.0h0M512.0 31.1h0M512.7 31.6h0M513.7 31.3h0M514.1 30.9h0M515.4 29.2h0M516.0 29.7h0M516.6 29.1h0M517.6 29.2h0M518.5 29.1h0M519.0 28.5h0M519.5 27.7h0M520.5 27.6h0M521.0 28.7h0M522.2 26.9h0M522.5 26.4h0M523.4 26.8h0M524.3 28.7h0M524.9 27.4h0M526.0 26.0h0M526.4 27.8h0M527.1 27.3h0M527.9 26.7h0M529.2 26.4h0M529.9 25.6h0M530.2 27.9h0M531.4 26.1h0M532.0 25.6h0M532.7 24.9h0M533.6 25.1h0M534.6 26.7h0M535.3 24.6h0M535.5 25.1h0M536.7 25.3h0M537.5 24.9h0M537.9 24.6h0M539.2 25.6h0M540.1 25.7h0M540.7 25.0h0M541.4 22.8h0M542.2 24.5h0M543.1 23.2h0M543.6 23.6h0M544.0 21.9h0M545.4 22.6h0M545.5 24.0h0M546.5 24.0h0M547.7 23.0h0M547.9 23.8h0M549.3 21.8h0M549.8 21.1h0M550.7 23.1h0M551.2 22.9h0M552.0 21.4h0M553.0 21.7h0M553.9 22.2h0M554.6 22.0h0M554.8 18.6h0M556.1 20.7h0M556.7 22.2h0M557.3 22.6h0M558.4 21.7h0M559.1 21.4h0M559.7 21.6h0M560.3 20.7h0M561.1 22.2h0M562.4 21.3h0M562.8 21.1h0M563.7 19.6h0M564.6 20.4h0M564.9 19.7h0M565.8 21.0h0M566.4 19.9h0M567.5 21.6h0M568.4 18.2h0M569.0 20.6h0M570.0 19.2h0M570.3 20.7h0M571.0 18.2h0M571.7 19.8h0M572.7 19.8h0M573.8 19.2h0M574.6 20.3h0M574.8 18.2h0M576.1 18.8h0M576.8 19.1h0M577.7 19.2h0M578.1 18.2h0M578.7 18.9h0M579.7 17.8h0M580.6 18.3h0M581.3 17.4h0M582.0 18.0h0M582.5 18.3h0M583.8 17.7h0M584.8 20.4h0M585.5 17.7h0M586.3 17.9h0M586.5 17.6h0M587.2 18.2h0M588.3 17.9h0M589.3 17.5h0M590.0 16.7h0M590.2 17.3h0M591.1 17.2h0M592.4 16.6h0M592.8 19.1h0M593.4 19.7h0M594.2 17.2h0M595.6 16.7h0M595.7 16.4h0M596.8 18.3h0M597.6 14.5h0M598.6 16.2h0M599.1 16.7h0M599.7 17.0h0M600.5 17.2h0M601.3 17.1h0M602.3 17.4h0M603.1 17.3h0M604.0 16.0h0M604.4 15.6h0M605.6 15.6h0M606.1 17.1h0M607.0 15.5h0M607.6 16.4h0M608.3 15.7h0M609.4 14.6h0M609.7 16.1h0M610.7 16.7h0M611.3 16.9h0M612.5 15.0h0M613.0 15.5h0M613.5 15.7h0M614.5 16.1h0M614.9 17.0h0M615.8 16.5h0M616.7 12.7h0M617.9 14.5h0M618.1 14.6h0M618.8 16.1h0M620.0 15.7h0M620.4 13.8h0M621.6 16.2h0M621.9 15.1h0M622.7 15.0h0M623.5 13.6h0M624.2 14.3h0M625.2 15.7h0M626.1 15.2h0M627.0 14.4h0M627.3 15.8h0M627.9 15.6h0M628.8 13.5h0M630.1 13.9h0M630.7 12.9h0M631.1 14.4h0M632.4 14.0h0M633.3 14.5h0M633.4 13.9h0M634.5 14.1h0M634.9 16.0h0M635.8 14.8h0M636.9 14.8h0M637.2 12.4h0M638.2 12.5h0M638.8 14.2h0M639.7 13.5h0M640.5 12.6h0M641.7 12.6h0M641.9 13.2h0M642.8 13.2h0M643.9 13.2h0M644.5 14.0h0M645.6 13.3h0M646.1 14.4h0M647.1 13.6h0M647.9 14.8h0M648.6 12.5h0M649.4 13.1h0M649.5 12.9h0M650.4 12.5h0M651.1 13.8h0M652.3 13.0h0M652.8 12.5h0M653.5 12.2h0M654.6 13.7h0M655.2 12.0h0M655.8 12.8h0M656.5 13.2h0M657.7 12.1h0M658.5 12.5h0M659.0 11.9h0M659.8 13.5h0M660.4 12.9h0M661.6 13.3h0M662.2 12.1h0M663.3 13.1h0M664.0 12.2h0M664.3 12.5h0M664.9 12.3h0M665.8 13.7h0M667.0 10.1h0M667.8 12.3h0M668.7 12.9h0M669.1 11.8h0M669.8 12.7h0M670.6 12.6h0M671.4 11.6h0M672.2 13.4h0M672.9 11.7h0" stroke="#000000" stroke-width="2.6" stroke-linecap="round" fill="none"/>
<path d="M388.8 4.5 389.2 4.5 389.6 4.5 390.0 4.5 390.4 4.5 390.8 4.5 391.1 4.5 391.5 4.5 391.9 4.5 392.3 4.5 392.7 4.5 393.1 4.5 393.4 4.5 393.8 4.5 394.2 4.5 394.6 4.5 395.0 4.5 395.4 4.5 395.8 4.5 396.1 4.5 396.5 4.5 396.9 4.5 397.3 4.5 397.7 4.5 398.1 4.5 398.4 4.5 398.8 4.5 399.2 4.5 399.6 4.5 400.0 4.5 400.4 4.6 400.8 4.6 401.1 4.6 401.5 4.6 401.9 4.6 402.3 4.6 402.7 4.7 403.1 4.7 403.5 4.8 403.8 4.8 404.2 4.9 404.6 5.0 405.0 5.1 405.4 5.3 405.8 5.5 406.2 5.7 406.5 6.0 406.9 6.3 407.3 6.7 407.7 7.2 408.1 7.7 408.5 8.4 408.8 9.2 409.2 10.0 409.6 11.1 410.0 12.2 410.4 13.6 410.8 15.1 411.2 16.8 411.5 18.7 411.9 20.8 412.3 23.1 412.7 25.7 413.1 28.5 413.5 31.5 413.9 34.8 414.2 38.3 414.6 42.1 415.0 46.1 415.4 50.3 415.8 54.7 416.2 59.3 416.5 64.1 416.9 69.0 417.3 74.0 417.7 79.1 418.1 84.3 418.5 89.5 418.9 94.7 419.2 99.9 419.6 105.0 420.0 110.1 420.4 115.0 420.8 119.8 421.2 124.4 421.6 128.8 421.9 133.0 422.3 137.0 422.7 140.7 423.1 144.3 423.5 147.6 423.9 150.6 424.2 153.4 424.6 156.0 425.0 158.3 425.4 160.4 425.8 162.3 426.2 164.0 426.6 165.5 426.9 166.8 427.3 168.0 427.7 169.0 428.1 169.9 428.5 170.7 428.9 171.3 429.2 171.9 429.6 170.2 430.0 168.6 430.4 166.8 430.8 165.1 431.2 163.3 431.6 161.5 431.9 159.7 432.3 157.9 432.7 156.1 433.1 154.3 433.5 152.5 433.9 150.8 434.3 149.0 434.6 147.3 435.0 145.6 435.4 143.9 435.8 142.3 436.2 140.6 436.6 139.0 436.9 137.4 437.3 135.8 437.7 134.3 438.1 132.7 438.5 131.2 438.9 129.7 439.3 128.3 439.6 126.8 440.0 125.4 440.4 124.0 440.8 122.6 441.2 121.2 441.6 119.9 442.0 118.6 442.3 117.2 442.7 116.0 443.1 114.7 443.5 113.4 443.9 112.2 444.3 111.0 444.7 109.8 445.0 108.6 445.4 107.5 445.8 106.3 446.2 105.2 446.6 104.1 447.0 103.0 447.3 101.9 447.7 100.8 448.1 99.8 448.5 98.7 448.9 97.7 449.3 96.7 449.7 95.7 450.0 94.7 450.4 93.8 450.8 92.8 451.2 91.9 451.6 91.0 452.0 90.1 452.4 89.2 452.7 88.3 453.1 87.4 453.5 86.6 453.9 85.7 454.3 84.9 454.7 84.0 455.0 83.2 455.4 82.4 455.8 81.6 456.2 80.9 456.6 80.1 457.0 79.3 457.4 78.6 457.7 77.9 458.1 77.1 458.5 76.4 458.9 75.7 459.3 75.0 459.7 74.3 460.1 73.7 460.4 73.0 460.8 72.3 461.2 71.7 461.6 71.0 462.0 70.4 462.4 69.8 462.7 69.2 463.1 68.6 463.5 68.0 463.9 67.4 464.3 66.8 464.7 66.2 465.1 65.7 465.4 65.1 465.8 64.6 466.2 64.0 466.6 63.5 467.0 63.0 467.4 62.4 467.8 61.9 468.1 61.4 468.5 60.9 468.9 60.4 469.3 59.9 469.7 59.4 470.1 59.0 470.4 58.5 470.8 58.0 471.2 57.6 471.6 57.1 472.0 56.7 472.4 56.3 472.8 55.8 473.1 55.4 473.5 55.0 473.9 54.6 474.3 54.2 474.7 53.7 475.1 53.3 475.4 53.0 475.8 52.6 476.2 52.2 476.6 51.8 477.0 51.4 477.4 51.1 477.8 50.7 478.1 50.3 478.5 50.0 478.9 49.6 479.3 49.3 479.7 48.9 480.1 48.6 480.5 48.3 480.8 47.9 481.2 47.6 481.6 47.3 482.0 47.0 482.4 46.7 482.8 46.3 483.2 46.0 483.5 45.7 483.9 45.4 484.3 45.1 484.7 44.9 485.1 44.6 485.5 44.3 485.8 44.0 486.2 43.7 486.6 43.5 487.0 43.2 487.4 42.9 487.8 42.7 488.2 42.4 488.5 42.1 488.9 41.9 489.3 41.6 489.7 41.4 490.1 41.1 490.5 40.9 490.9 40.6 491.2 40.4 491.6 40.2 492.0 39.9 492.4 39.7 492.8 39.5 493.2 39.3 493.5 39.0 493.9 38.8 494.3 38.6 494.7 38.4 495.1 38.2 495.5 38.0 495.9 37.8 496.2 37.6 496.6 37.4 497.0 37.2 497.4 37.0 497.8 36.8 498.2 36.6 498.6 36.4 498.9 36.2 499.3 36.0 499.7 35.8 500.1 35.6 500.5 35.5 500.9 35.3 501.2 35.1 501.6 34.9 502.0 34.8 502.4 34.6 502.8 34.4 503.2 34.3 503.6 34.1 503.9 33.9 504.3 33.8 504.7 33.6 505.1 33.4 505.5 33.3 505.9 33.1 506.2 33.0 506.6 32.8 507.0 32.7 507.4 32.5 507.8 32.4 508.2 32.2 508.6 32.1 508.9 31.9 509.3 31.8 509.7 31.7 510.1 31.5 510.5 31.4 510.9 31.2 511.3 31.1 511.6 31.0 512.0 30.8 512.4 30.7 512.8 30.6 513.2 30.4 513.6 30.3 514.0 30.2 514.3 30.1 514.7 29.9 515.1 29.8 515.5 29.7 515.9 29.6 516.3 29.5 516.6 29.3 517.0 29.2 517.4 29.1 517.8 29.0 518.2 28.9 518.6 28.8 519.0 28.7 519.3 28.5 519.7 28.4 520.1 28.3 520.5 28.2 520.9 28.1 521.3 28.0 521.6 27.9 522.0 27.8 522.4 27.7 522.8 27.6 523.2 27.5 523.6 27.4 524.0 27.3 524.3 27.2 524.7 27.1 525.1 27.0 525.5 26.9 525.9 26.8 526.3 26.7 526.7 26.6 527.0 26.5 527.4 26.4 527.8 26.3 528.2 26.2 528.6 26.1 529.0 26.1 529.4 26.0 529.7 25.9 530.1 25.8 530.5 25.7 530.9 25.6 531.3 25.5 531.7 25.4 532.0 25.4 532.4 25.3 532.8 25.2 533.2 25.1 533.6 25.0 534.0 24.9 534.4 24.9 534.7 24.8 535.1 24.7 535.5 24.6 535.9 24.5 536.3 24.5 536.7 24.4 537.0 24.3 537.4 24.2 537.8 24.2 538.2 24.1 538.6 24.0 539.0 23.9 539.4 23.9 539.7 23.8 540.1 23.7 540.5 23.7 540.9 23.6 541.3 23.5 541.7 23.4 542.1 23.4 542.4 23.3 542.8 23.2 543.2 23.2 543.6 23.1 544.0 23.0 544.4 23.0 544.8 22.9 545.1 22.8 545.5 22.8 545.9 22.7 546.3 22.6 546.7 22.6 547.1 22.5 547.4 22.4 547.8 22.4 548.2 22.3 548.6 22.2 549.0 22.2 549.4 22.1 549.8 22.1 550.1 22.0 550.5 21.9 550.9 21.9 551.3 21.8 551.7 21.8 552.1 21.7 552.5 21.6 552.8 21.6 553.2 21.5 553.6 21.5 554.0 21.4 554.4 21.4 554.8 21.3 555.1 21.2 555.5 21.2 555.9 21.1 556.3 21.1 556.7 21.0 557.1 21.0 557.5 20.9 557.8 20.9 558.2 20.8 558.6 20.7 559.0 20.7 559.4 20.6 559.8 20.6 560.2 20.5 560.5 20.5 560.9 20.4 561.3 20.4 561.7 20.3 562.1 20.3 562.5 20.2 562.8 20.2 563.2 20.1 563.6 20.1 564.0 20.0 564.4 20.0 564.8 19.9 565.2 19.9 565.5 19.8 565.9 19.8 566.3 19.7 566.7 19.7 567.1 19.6 567.5 19.6 567.9 19.5 568.2 19.5 568.6 19.4 569.0 19.4 569.4 19.3 569.8 19.3 570.2 19.3 570.5 19.2 570.9 19.2 571.3 19.1 571.7 19.1 572.1 19.0 572.5 19.0 572.9 18.9 573.2 18.9 573.6 18.9 574.0 18.8 574.4 18.8 574.8 18.7 575.2 18.7 575.6 18.6 575.9 18.6 576.3 18.5 576.7 18.5 577.1 18.5 577.5 18.4 577.9 18.4 578.2 18.3 578.6 18.3 579.0 18.3 579.4 18.2 579.8 18.2 580.2 18.1 580.6 18.1 580.9 18.1 581.3 18.0 581.7 18.0 582.1 17.9 582.5 17.9 582.9 17.9 583.2 17.8 583.6 17.8 584.0 17.7 584.4 17.7 584.8 17.7 585.2 17.6 585.6 17.6 585.9 17.5 586.3 17.5 586.7 17.5 587.1 17.4 587.5 17.4 587.9 17.4 588.3 17.3 588.6 17.3 589.0 17.2 589.4 17.2 589.8 17.2 590.2 17.1 590.6 17.1 591.0 17.1 591.3 17.0 591.7 17.0 592.1 17.0 592.5 16.9 592.9 16.9 593.3 16.8 593.6 16.8 594.0 16.8 594.4 16.7 594.8 16.7 595.2 16.7 595.6 16.6 596.0 16.6 596.3 16.6 596.7 16.5 597.1 16.5 597.5 16.5 597.9 16.4 598.3 16.4 598.7 16.4 599.0 16.3 599.4 16.3 599.8 16.3 600.2 16.2 600.6 16.2 601.0 16.2 601.3 16.1 601.7 16.1 602.1 16.1 602.5 16.0 602.9 16.0 603.3 16.0 603.7 15.9 604.0 15.9 604.4 15.9 604.8 15.8 605.2 15.8 605.6 15.8 606.0 15.8 606.4 15.7 606.7 15.7 607.1 15.7 607.5 15.6 607.9 15.6 608.3 15.6 608.7 15.5 609.0 15.5 609.4 15.5 609.8 15.4 610.2 15.4 610.6 15.4 611.0 15.4 611.4 15.3 611.7 15.3 612.1 15.3 612.5 15.2 612.9 15.2 613.3 15.2 613.7 15.2 614.1 15.1 614.4 15.1 614.8 15.1 615.2 15.0 615.6 15.0 616.0 15.0 616.4 15.0 616.7 14.9 617.1 14.9 617.5 14.9 617.9 14.8 618.3 14.8 618.7 14.8 619.1 14.8 619.4 14.7 619.8 14.7 620.2 14.7 620.6 14.6 621.0 14.6 621.4 14.6 621.8 14.6 622.1 14.5 622.5 14.5 622.9 14.5 623.3 14.5 623.7 14.4 624.1 14.4 624.4 14.4 624.8 14.4 625.2 14.3 625.6 14.3 626.0 14.3 626.4 14.3 626.8 14.2 627.1 14.2 627.5 14.2 627.9 14.1 628.3 14.1 628.7 14.1 629.1 14.1 629.5 14.0 629.8 14.0 630.2 14.0 630.6 14.0 631.0 13.9 631.4 13.9 631.8 13.9 632.1 13.9 632.5 13.9 632.9 13.8 633.3 13.8 633.7 13.8 634.1 13.8 634.5 13.7 634.8 13.7 635.2 13.7 635.6 13.7 636.0 13.6 636.4 13.6 636.8 13.6 637.2 13.6 637.5 13.5 637.9 13.5 638.3 13.5 638.7 13.5 639.1 13.4 639.5 13.4 639.8 13.4 640.2 13.4 640.6 13.4 641.0 13.3 641.4 13.3 641.8 13.3 642.2 13.3 642.5 13.2 642.9 13.2 643.3 13.2 643.7 13.2 644.1 13.2 644.5 13.1 644.9 13.1 645.2 13.1 645.6 13.1 646.0 13.0 646.4 13.0 646.8 13.0 647.2 13.0 647.5 13.0 647.9 12.9 648.3 12.9 648.7 12.9 649.1 12.9 649.5 12.9 649.9 12.8 650.2 12.8 650.6 12.8 651.0 12.8 651.4 12.7 651.8 12.7 652.2 12.7 652.6 12.7 652.9 12.7 653.3 12.6 653.7 12.6 654.1 12.6 654.5 12.6 654.9 12.6 655.2 12.5 655.6 12.5 656.0 12.5 656.4 12.5 656.8 12.5 657.2 12.4 657.6 12.4 657.9 12.4 658.3 12.4 658.7 12.4 659.1 12.3 659.5 12.3 659.9 12.3 660.2 12.3 660.6 12.3 661.0 12.2 661.4 12.2 661.8 12.2 662.2 12.2 662.6 12.2 662.9 12.2 663.3 12.1 663.7 12.1 664.1 12.1 664.5 12.1 664.9 12.1 665.3 12.0 665.6 12.0 666.0 12.0 666.4 12.0 666.8 12.0 667.2 11.9 667.6 11.9 668.0 11.9 668.3 11.9 668.7 11.9 669.1 11.9 669.5 11.8 669.9 11.8 670.3 11.8 670.6 11.8 671.0 11.8 671.4 11.8 671.8 11.7 672.2 11.7 672.6 11.7 673.0 11.7 673.3 11.7" stroke="#ff1f1f" stroke-width="3.20" fill="none" stroke-linejoin="round"/>
<path d="M389.1 5.0h0M389.6 4.8h0M390.1 4.7h0M390.9 3.7h0M391.8 4.3h0M393.0 4.3h0M393.1 4.7h0M394.0 4.2h0M394.6 4.2h0M396.0 4.8h0M396.3 4.5h0M397.1 4.3h0M398.1 4.3h0M398.6 4.6h0M399.8 5.0h0M400.4 5.2h0M401.5 5.3h0M401.8 4.9h0M402.9 4.9h0M403.5 4.7h0M404.0 6.9h0M405.0 4.6h0M406.1 6.6h0M406.2 5.4h0M407.0 6.6h0M408.4 9.8h0M409.2 9.5h0M409.7 11.5h0M410.0 15.6h0M411.5 16.8h0M411.8 20.6h0M412.8 26.0h0M413.4 31.2h0M414.3 38.3h0M414.7 46.1h0M415.7 54.7h0M416.6 63.8h0M417.6 74.3h0M418.3 84.3h0M418.6 94.2h0M419.3 105.0h0M420.5 114.8h0M421.1 125.1h0M421.7 133.3h0M423.1 140.8h0M423.4 147.5h0M424.4 154.1h0M425.4 158.5h0M425.8 161.9h0M426.9 165.5h0M427.6 168.4h0M427.9 169.7h0M428.5 171.9h0M429.4 170.7h0M430.4 166.5h0M431.5 163.2h0M431.8 159.5h0M432.9 155.9h0M433.1 152.0h0M433.9 149.3h0M434.8 146.0h0M435.4 142.1h0M436.5 139.3h0M437.0 135.5h0M438.4 132.7h0M438.7 129.8h0M440.0 126.5h0M440.8 124.2h0M441.3 121.0h0M442.3 118.0h0M443.0 115.4h0M443.1 113.8h0M444.1 111.0h0M445.2 108.6h0M446.2 106.3h0M446.9 103.3h0M447.3 100.5h0M448.2 98.9h0M449.3 97.4h0M449.6 95.3h0M450.6 93.3h0M450.8 91.5h0M452.1 91.5h0M452.8 87.9h0M453.7 87.5h0M454.6 85.2h0M455.4 83.3h0M455.6 80.9h0M456.9 80.6h0M457.1 79.7h0M458.4 76.3h0M458.5 75.6h0M460.0 74.8h0M460.5 72.0h0M461.3 71.5h0M462.4 70.8h0M462.5 69.5h0M463.7 68.3h0M464.4 66.3h0M465.2 65.5h0M465.8 63.8h0M466.7 63.1h0M467.3 63.8h0M467.9 61.7h0M468.9 59.9h0M469.4 58.5h0M470.5 59.2h0M471.1 56.4h0M471.7 55.7h0M472.8 56.0h0M473.8 53.8h0M474.4 54.5h0M475.1 53.2h0M476.0 52.3h0M476.6 52.5h0M477.2 51.5h0M478.3 50.1h0M479.1 50.3h0M479.9 49.0h0M480.8 48.2h0M481.5 48.3h0M482.2 46.5h0M482.8 47.7h0M483.3 45.9h0M484.1 44.4h0M484.7 46.0h0M486.0 44.7h0M486.4 42.4h0M487.2 44.5h0M488.4 42.5h0M488.6 41.1h0M490.0 41.8h0M490.8 40.5h0M491.4 39.9h0M492.3 40.8h0M492.8 38.9h0M493.5 40.5h0M494.4 39.0h0M495.2 37.8h0M496.2 37.5h0M496.8 36.6h0M497.3 36.8h0M497.8 37.6h0M498.8 36.2h0M499.5 35.7h0M500.6 35.0h0M500.9 35.5h0M502.1 34.1h0M502.7 34.7h0M503.8 31.8h0M504.5 34.1h0M505.1 33.0h0M505.7 33.7h0M506.7 32.7h0M507.4 32.0h0M508.4 33.2h0M508.8 31.0h0M510.1 31.5h0M510.8 31.7h0M511.1 30.9h0M512.1 32.0h0M512.6 30.8h0M513.3 31.2h0M514.4 29.8h0M515.1 29.8h0M515.6 30.4h0M516.6 30.9h0M517.2 28.6h0M518.5 29.2h0M518.9 27.9h0M519.6 27.5h0M520.8 29.0h0M521.3 27.2h0M521.8 28.4h0M522.9 27.6h0M523.7 27.0h0M524.6 26.1h0M524.7 26.4h0M526.0 29.2h0M526.4 27.3h0M527.2 27.0h0M527.8 26.6h0M529.3 27.4h0M529.9 26.1h0M530.3 25.2h0M531.1 25.9h0M531.7 24.7h0M532.6 24.7h0M533.7 25.6h0M534.6 25.1h0M535.0 23.3h0M536.1 23.7h0M536.5 23.7h0M537.1 24.7h0M538.0 24.5h0M539.2 24.0h0M539.9 24.0h0M540.6 24.3h0M541.3 23.9h0M542.4 23.3h0M542.7 22.1h0M544.0 23.5h0M544.0 21.0h0M545.1 23.7h0M545.7 21.5h0M546.5 22.2h0M547.6 22.7h0M548.3 22.9h0M548.7 22.9h0M549.8 22.5h0M550.2 21.5h0M551.0 20.6h0M551.8 22.5h0M552.8 19.9h0M553.3 20.7h0M554.2 20.3h0M555.0 23.3h0M556.2 21.5h0M556.7 21.2h0M557.2 21.3h0M558.6 20.7h0M559.0 19.4h0M559.5 20.9h0M560.2 19.6h0M561.0 17.1h0M562.2 20.0h0M563.2 20.7h0M563.6 20.0h0M564.2 19.5h0M565.1 19.1h0M566.2 20.2h0M566.5 18.7h0M567.4 19.4h0M567.9 19.4h0M568.9 19.3h0M569.7 19.8h0M570.3 19.5h0M571.4 19.5h0M571.9 18.9h0M572.5 18.9h0M573.6 19.0h0M574.7 18.5h0M575.3 19.8h0M576.1 19.3h0M576.4 17.8h0M577.3 16.7h0M578.3 17.9h0M579.1 18.6h0M579.8 18.6h0M580.6 18.7h0M581.1 18.6h0M582.2 17.1h0M583.2 17.0h0M583.6 17.7h0M584.2 17.4h0M585.0 18.4h0M586.1 17.6h0M586.7 17.2h0M587.5 16.9h0M588.3 16.3h0M589.2 16.4h0M589.6 20.3h0M590.4 16.2h0M591.5 16.1h0M591.9 17.2h0M593.0 18.4h0M593.9 15.7h0M594.7 16.3h0M595.5 18.1h0M595.9 16.3h0M596.8 18.5h0M597.4 15.8h0M598.1 17.6h0M598.9 16.3h0M599.9 16.3h0M600.5 15.9h0M601.4 16.0h0M602.0 16.9h0M603.1 17.3h0M603.4 15.5h0M604.3 16.8h0M605.2 16.1h0M605.8 16.0h0M607.0 16.5h0M607.6 15.9h0M608.4 16.2h0M608.8 14.3h0M609.9 15.5h0M610.3 15.9h0M611.4 16.9h0M612.2 14.5h0M613.0 15.9h0M613.6 13.9h0M614.2 15.5h0M615.2 16.0h0M615.9 14.7h0M616.5 14.0h0M617.3 14.8h0M618.4 14.1h0M618.8 15.2h0M619.9 13.0h0M620.9 16.3h0M621.3 13.5h0M621.8 15.8h0M622.7 13.7h0M624.0 15.8h0M624.6 12.9h0M625.1 14.1h0M626.4 13.5h0M626.8 12.6h0M627.5 13.3h0M628.3 15.2h0M628.9 13.8h0M629.9 14.2h0M630.3 14.9h0M631.0 14.8h0M632.3 14.0h0M632.6 14.1h0M633.7 12.7h0M634.3 14.2h0M634.9 15.1h0M636.0 13.7h0M637.0 14.0h0M637.2 13.3h0M638.2 13.3h0M639.1 13.9h0M640.1 13.9h0M640.7 13.4h0M641.1 11.7h0M642.1 12.8h0M643.3 13.5h0M643.9 11.1h0M644.4 13.6h0M645.0 13.2h0M646.2 14.1h0M647.1 12.1h0M647.5 12.2h0M648.7 13.9h0M649.4 12.3h0M650.0 13.8h0M650.5 12.3h0M651.4 12.8h0M652.2 12.2h0M653.0 10.1h0M653.4 12.6h0M654.6 14.6h0M654.9 12.7h0M656.2 12.5h0M656.6 12.3h0M657.2 11.6h0M658.7 12.5h0M658.9 12.9h0M659.7 12.1h0M661.0 13.0h0M661.1 12.6h0M661.9 11.9h0M663.1 10.0h0M663.6 11.6h0M664.8 8.7h0M665.1 11.5h0M666.0 11.9h0M666.8 11.8h0M667.2 11.6h0M668.6 11.2h0M669.5 10.0h0M669.7 10.8h0M670.9 11.7h0M671.6 12.2h0M672.1 11.0h0M673.3 10.3h0" stroke="#ff1f1f" stroke-width="2.6" stroke-linecap="round" fill="none"/>
<path d="M388.8 10.8 389.2 10.8 389.6 10.8 390.0 10.8 390.4 10.8 390.8 10.8 391.1 10.8 391.5 10.8 391.9 10.8 392.3 10.8 392.7 10.8 393.1 10.8 393.4 10.8 393.8 10.8 394.2 10.8 394.6 10.8 395.0 10.8 395.4 10.8 395.8 10.8 396.1 10.8 396.5 10.8 396.9 10.8 397.3 10.8 397.7 10.8 398.1 10.8 398.4 10.8 398.8 10.8 399.2 10.8 399.6 10.8 400.0 10.8 400.4 10.8 400.8 10.8 401.1 10.9 401.5 10.9 401.9 10.9 402.3 10.9 402.7 11.0 403.1 11.0 403.5 11.1 403.8 11.1 404.2 11.2 404.6 11.3 405.0 11.5 405.4 11.6 405.8 11.9 406.2 12.1 406.5 12.4 406.9 12.8 407.3 13.2 407.7 13.8 408.1 14.4 408.5 15.1 408.8 15.9 409.2 16.9 409.6 18.1 410.0 19.4 410.4 20.8 410.8 22.5 411.2 24.4 411.5 26.5 411.9 28.8 412.3 31.4 412.7 34.3 413.1 37.4 413.5 40.7 413.9 44.4 414.2 48.3 414.6 52.5 415.0 56.9 415.4 61.6 415.8 66.5 416.2 71.6 416.5 76.9 416.9 82.3 417.3 87.9 417.7 93.6 418.1 99.4 418.5 105.2 418.9 110.9 419.2 116.7 419.6 122.4 420.0 128.0 420.4 133.4 420.8 138.7 421.2 143.8 421.6 148.7 421.9 153.4 422.3 157.8 422.7 162.0 423.1 165.9 423.5 169.6 423.9 172.9 424.2 176.0 424.6 178.9 425.0 181.5 425.4 183.8 425.8 185.9 426.2 187.8 426.6 189.5 426.9 190.9 427.3 192.2 427.7 193.4 428.1 194.4 428.5 195.2 428.9 195.9 429.2 196.5 429.6 194.9 430.0 193.1 430.4 191.3 430.8 189.5 431.2 187.6 431.6 185.7 431.9 183.8 432.3 181.9 432.7 180.0 433.1 178.1 433.5 176.3 433.9 174.4 434.3 172.5 434.6 170.7 435.0 168.8 435.4 167.0 435.8 165.3 436.2 163.5 436.6 161.7 436.9 160.0 437.3 158.3 437.7 156.6 438.1 155.0 438.5 153.3 438.9 151.7 439.3 150.1 439.6 148.6 440.0 147.0 440.4 145.5 440.8 144.0 441.2 142.5 441.6 141.0 442.0 139.5 442.3 138.1 442.7 136.7 443.1 135.3 443.5 133.9 443.9 132.5 444.3 131.2 444.7 129.9 445.0 128.6 445.4 127.3 445.8 126.0 446.2 124.8 446.6 123.5 447.0 122.3 447.3 121.1 447.7 119.9 448.1 118.7 448.5 117.6 448.9 116.4 449.3 115.3 449.7 114.2 450.0 113.1 450.4 112.0 450.8 110.9 451.2 109.9 451.6 108.8 452.0 107.8 452.4 106.8 452.7 105.8 453.1 104.8 453.5 103.8 453.9 102.8 454.3 101.9 454.7 100.9 455.0 100.0 455.4 99.1 455.8 98.2 456.2 97.3 456.6 96.4 457.0 95.5 457.4 94.7 457.7 93.8 458.1 93.0 458.5 92.2 458.9 91.3 459.3 90.5 459.7 89.7 460.1 88.9 460.4 88.2 460.8 87.4 461.2 86.7 461.6 85.9 462.0 85.2 462.4 84.4 462.7 83.7 463.1 83.0 463.5 82.3 463.9 81.6 464.3 80.9 464.7 80.3 465.1 79.6 465.4 78.9 465.8 78.3 466.2 77.6 466.6 77.0 467.0 76.4 467.4 75.8 467.8 75.2 468.1 74.6 468.5 74.0 468.9 73.4 469.3 72.8 469.7 72.2 470.1 71.7 470.4 71.1 470.8 70.5 471.2 70.0 471.6 69.5 472.0 68.9 472.4 68.4 472.8 67.9 473.1 67.4 473.5 66.9 473.9 66.4 474.3 65.9 474.7 65.4 475.1 64.9 475.4 64.4 475.8 63.9 476.2 63.5 476.6 63.0 477.0 62.6 477.4 62.1 477.8 61.7 478.1 61.2 478.5 60.8 478.9 60.4 479.3 59.9 479.7 59.5 480.1 59.1 480.5 58.7 480.8 58.3 481.2 57.9 481.6 57.5 482.0 57.1 482.4 56.7 482.8 56.4 483.2 56.0 483.5 55.6 483.9 55.2 484.3 54.9 484.7 54.5 485.1 54.2 485.5 53.8 485.8 53.5 486.2 53.1 486.6 52.8 487.0 52.5 487.4 52.1 487.8 51.8 488.2 51.5 488.5 51.2 488.9 50.8 489.3 50.5 489.7 50.2 490.1 49.9 490.5 49.6 490.9 49.3 491.2 49.0 491.6 48.7 492.0 48.4 492.4 48.2 492.8 47.9 493.2 47.6 493.5 47.3 493.9 47.0 494.3 46.8 494.7 46.5 495.1 46.2 495.5 46.0 495.9 45.7 496.2 45.5 496.6 45.2 497.0 45.0 497.4 44.7 497.8 44.5 498.2 44.2 498.6 44.0 498.9 43.7 499.3 43.5 499.7 43.3 500.1 43.0 500.5 42.8 500.9 42.6 501.2 42.4 501.6 42.2 502.0 41.9 502.4 41.7 502.8 41.5 503.2 41.3 503.6 41.1 503.9 40.9 504.3 40.7 504.7 40.5 505.1 40.3 505.5 40.1 505.9 39.9 506.2 39.7 506.6 39.5 507.0 39.3 507.4 39.1 507.8 38.9 508.2 38.7 508.6 38.6 508.9 38.4 509.3 38.2 509.7 38.0 510.1 37.8 510.5 37.7 510.9 37.5 511.3 37.3 511.6 37.1 512.0 37.0 512.4 36.8 512.8 36.7 513.2 36.5 513.6 36.3 514.0 36.2 514.3 36.0 514.7 35.9 515.1 35.7 515.5 35.5 515.9 35.4 516.3 35.2 516.6 35.1 517.0 34.9 517.4 34.8 517.8 34.6 518.2 34.5 518.6 34.4 519.0 34.2 519.3 34.1 519.7 33.9 520.1 33.8 520.5 33.7 520.9 33.5 521.3 33.4 521.6 33.3 522.0 33.1 522.4 33.0 522.8 32.9 523.2 32.7 523.6 32.6 524.0 32.5 524.3 32.4 524.7 32.2 525.1 32.1 525.5 32.0 525.9 31.9 526.3 31.8 526.7 31.6 527.0 31.5 527.4 31.4 527.8 31.3 528.2 31.2 528.6 31.1 529.0 30.9 529.4 30.8 529.7 30.7 530.1 30.6 530.5 30.5 530.9 30.4 531.3 30.3 531.7 30.2 532.0 30.1 532.4 30.0 532.8 29.9 533.2 29.8 533.6 29.7 534.0 29.5 534.4 29.4 534.7 29.3 535.1 29.2 535.5 29.1 535.9 29.1 536.3 29.0 536.7 28.9 537.0 28.8 537.4 28.7 537.8 28.6 538.2 28.5 538.6 28.4 539.0 28.3 539.4 28.2 539.7 28.1 540.1 28.0 540.5 27.9 540.9 27.8 541.3 27.8 541.7 27.7 542.1 27.6 542.4 27.5 542.8 27.4 543.2 27.3 543.6 27.2 544.0 27.2 544.4 27.1 544.8 27.0 545.1 26.9 545.5 26.8 545.9 26.7 546.3 26.7 546.7 26.6 547.1 26.5 547.4 26.4 547.8 26.3 548.2 26.3 548.6 26.2 549.0 26.1 549.4 26.0 549.8 26.0 550.1 25.9 550.5 25.8 550.9 25.7 551.3 25.7 551.7 25.6 552.1 25.5 552.5 25.4 552.8 25.4 553.2 25.3 553.6 25.2 554.0 25.2 554.4 25.1 554.8 25.0 555.1 24.9 555.5 24.9 555.9 24.8 556.3 24.7 556.7 24.7 557.1 24.6 557.5 24.5 557.8 24.5 558.2 24.4 558.6 24.3 559.0 24.3 559.4 24.2 559.8 24.1 560.2 24.1 560.5 24.0 560.9 24.0 561.3 23.9 561.7 23.8 562.1 23.8 562.5 23.7 562.8 23.6 563.2 23.6 563.6 23.5 564.0 23.5 564.4 23.4 564.8 23.3 565.2 23.3 565.5 23.2 565.9 23.2 566.3 23.1 566.7 23.0 567.1 23.0 567.5 22.9 567.9 22.9 568.2 22.8 568.6 22.8 569.0 22.7 569.4 22.6 569.8 22.6 570.2 22.5 570.5 22.5 570.9 22.4 571.3 22.4 571.7 22.3 572.1 22.3 572.5 22.2 572.9 22.2 573.2 22.1 573.6 22.0 574.0 22.0 574.4 21.9 574.8 21.9 575.2 21.8 575.6 21.8 575.9 21.7 576.3 21.7 576.7 21.6 577.1 21.6 577.5 21.5 577.9 21.5 578.2 21.4 578.6 21.4 579.0 21.3 579.4 21.3 579.8 21.2 580.2 21.2 580.6 21.1 580.9 21.1 581.3 21.0 581.7 21.0 582.1 20.9 582.5 20.9 582.9 20.8 583.2 20.8 583.6 20.8 584.0 20.7 584.4 20.7 584.8 20.6 585.2 20.6 585.6 20.5 585.9 20.5 586.3 20.4 586.7 20.4 587.1 20.3 587.5 20.3 587.9 20.3 588.3 20.2 588.6 20.2 589.0 20.1 589.4 20.1 589.8 20.0 590.2 20.0 590.6 19.9 591.0 19.9 591.3 19.9 591.7 19.8 592.1 19.8 592.5 19.7 592.9 19.7 593.3 19.6 593.6 19.6 594.0 19.6 594.4 19.5 594.8 19.5 595.2 19.4 595.6 19.4 596.0 19.4 596.3 19.3 596.7 19.3 597.1 19.2 597.5 19.2 597.9 19.2 598.3 19.1 598.7 19.1 599.0 19.0 599.4 19.0 599.8 19.0 600.2 18.9 600.6 18.9 601.0 18.8 601.3 18.8 601.7 18.8 602.1 18.7 602.5 18.7 602.9 18.6 603.3 18.6 603.7 18.6 604.0 18.5 604.4 18.5 604.8 18.5 605.2 18.4 605.6 18.4 606.0 18.3 606.4 18.3 606.7 18.3 607.1 18.2 607.5 18.2 607.9 18.2 608.3 18.1 608.7 18.1 609.0 18.1 609.4 18.0 609.8 18.0 610.2 18.0 610.6 17.9 611.0 17.9 611.4 17.8 611.7 17.8 612.1 17.8 612.5 17.7 612.9 17.7 613.3 17.7 613.7 17.6 614.1 17.6 614.4 17.6 614.8 17.5 615.2 17.5 615.6 17.5 616.0 17.4 616.4 17.4 616.7 17.4 617.1 17.3 617.5 17.3 617.9 17.3 618.3 17.2 618.7 17.2 619.1 17.2 619.4 17.1 619.8 17.1 620.2 17.1 620.6 17.0 621.0 17.0 621.4 17.0 621.8 16.9 622.1 16.9 622.5 16.9 622.9 16.9 623.3 16.8 623.7 16.8 624.1 16.8 624.4 16.7 624.8 16.7 625.2 16.7 625.6 16.6 626.0 16.6 626.4 16.6 626.8 16.5 627.1 16.5 627.5 16.5 627.9 16.5 628.3 16.4 628.7 16.4 629.1 16.4 629.5 16.3 629.8 16.3 630.2 16.3 630.6 16.2 631.0 16.2 631.4 16.2 631.8 16.2 632.1 16.1 632.5 16.1 632.9 16.1 633.3 16.0 633.7 16.0 634.1 16.0 634.5 16.0 634.8 15.9 635.2 15.9 635.6 15.9 636.0 15.8 636.4 15.8 636.8 15.8 637.2 15.8 637.5 15.7 637.9 15.7 638.3 15.7 638.7 15.6 639.1 15.6 639.5 15.6 639.8 15.6 640.2 15.5 640.6 15.5 641.0 15.5 641.4 15.5 641.8 15.4 642.2 15.4 642.5 15.4 642.9 15.3 643.3 15.3 643.7 15.3 644.1 15.3 644.5 15.2 644.9 15.2 645.2 15.2 645.6 15.2 646.0 15.1 646.4 15.1 646.8 15.1 647.2 15.1 647.5 15.0 647.9 15.0 648.3 15.0 648.7 15.0 649.1 14.9 649.5 14.9 649.9 14.9 650.2 14.9 650.6 14.8 651.0 14.8 651.4 14.8 651.8 14.8 652.2 14.7 652.6 14.7 652.9 14.7 653.3 14.7 653.7 14.6 654.1 14.6 654.5 14.6 654.9 14.6 655.2 14.5 655.6 14.5 656.0 14.5 656.4 14.5 656.8 14.4 657.2 14.4 657.6 14.4 657.9 14.4 658.3 14.4 658.7 14.3 659.1 14.3 659.5 14.3 659.9 14.3 660.2 14.2 660.6 14.2 661.0 14.2 661.4 14.2 661.8 14.1 662.2 14.1 662.6 14.1 662.9 14.1 663.3 14.1 663.7 14.0 664.1 14.0 664.5 14.0 664.9 14.0 665.3 13.9 665.6 13.9 666.0 13.9 666.4 13.9 666.8 13.9 667.2 13.8 667.6 13.8 668.0 13.8 668.3 13.8 668.7 13.7 669.1 13.7 669.5 13.7 669.9 13.7 670.3 13.7 670.6 13.6 671.0 13.6 671.4 13.6 671.8 13.6 672.2 13.5 672.6 13.5 673.0 13.5 673.3 13.5" stroke="#1414ff" stroke-width="3.20" fill="none" stroke-linejoin="round"/>
<path d="M388.6 10.6h0M389.3 10.6h0M390.7 10.3h0M391.0 10.8h0M391.7 10.4h0M392.5 8.6h0M393.3 10.8h0M394.3 10.7h0M395.4 10.0h0M395.5 10.6h0M396.2 10.5h0M397.3 10.6h0M398.1 10.6h0M398.5 10.6h0M399.3 10.6h0M400.4 10.9h0M401.1 10.8h0M401.6 11.0h0M402.8 10.8h0M403.4 11.0h0M404.5 10.9h0M405.3 11.8h0M406.1 12.1h0M406.8 12.0h0M407.4 13.4h0M408.0 14.4h0M409.2 16.1h0M409.4 18.0h0M410.4 20.7h0M411.1 24.2h0M411.8 29.0h0M413.0 34.7h0M413.8 40.6h0M414.3 48.1h0M414.9 56.7h0M415.7 66.0h0M416.6 77.0h0M417.3 88.3h0M418.1 99.7h0M418.9 110.8h0M419.9 122.4h0M420.3 131.2h0M421.1 143.7h0M421.9 153.9h0M422.7 161.4h0M423.7 169.4h0M423.9 176.0h0M424.8 181.5h0M426.0 185.7h0M426.9 189.1h0M426.9 192.3h0M428.2 194.4h0M428.8 196.1h0M429.3 195.0h0M430.6 191.6h0M431.2 188.2h0M432.2 183.7h0M433.0 180.2h0M433.3 176.3h0M434.5 173.1h0M435.2 168.8h0M435.5 164.9h0M436.3 161.1h0M437.3 160.6h0M438.5 155.4h0M439.0 151.5h0M439.7 148.4h0M440.7 145.3h0M441.1 141.9h0M442.3 140.4h0M442.7 136.4h0M443.4 133.1h0M444.1 131.8h0M445.0 128.6h0M446.1 125.7h0M446.9 123.7h0M447.5 121.7h0M447.8 118.4h0M448.8 115.7h0M449.8 114.4h0M450.5 111.9h0M451.2 108.9h0M452.1 107.4h0M452.7 105.8h0M453.3 103.2h0M454.7 101.5h0M454.9 100.1h0M455.6 98.2h0M456.4 96.1h0M457.7 94.9h0M458.0 93.6h0M459.0 91.5h0M459.7 91.0h0M460.2 88.4h0M461.2 86.2h0M462.0 85.5h0M463.1 86.0h0M463.5 82.7h0M464.4 81.2h0M464.7 79.9h0M465.7 78.4h0M466.6 76.6h0M467.0 76.5h0M468.1 74.9h0M468.9 75.0h0M469.7 71.0h0M470.5 70.5h0M471.1 67.4h0M471.8 70.5h0M472.4 69.1h0M473.5 67.1h0M474.3 64.8h0M475.2 63.7h0M475.7 64.9h0M476.7 62.5h0M477.2 63.1h0M477.9 60.7h0M478.7 59.6h0M479.3 58.7h0M480.3 60.7h0M481.6 57.3h0M482.3 59.1h0M483.1 55.5h0M483.5 55.4h0M484.1 52.3h0M485.2 53.7h0M485.8 53.1h0M486.6 52.7h0M487.5 51.7h0M488.4 51.9h0M488.7 50.9h0M489.4 51.9h0M490.8 49.8h0M491.5 49.6h0M492.1 48.2h0M492.6 47.7h0M493.6 46.7h0M493.9 47.5h0M495.1 45.0h0M496.0 46.2h0M496.8 45.2h0M497.6 44.3h0M498.0 44.7h0M498.7 44.1h0M499.9 43.1h0M500.7 42.5h0M501.0 41.3h0M502.0 41.9h0M502.7 41.1h0M503.8 40.5h0M504.0 39.4h0M505.0 40.4h0M505.8 38.2h0M506.9 40.4h0M507.4 39.0h0M508.1 39.5h0M509.0 37.9h0M509.6 39.0h0M510.2 37.6h0M511.5 37.0h0M512.1 37.3h0M513.1 36.9h0M513.4 35.7h0M514.5 37.6h0M515.3 34.3h0M516.1 35.3h0M516.9 34.9h0M517.3 35.4h0M518.2 35.4h0M518.8 32.9h0M520.1 34.1h0M520.4 33.9h0M521.0 33.1h0M522.4 33.0h0M522.8 32.5h0M523.9 32.5h0M524.3 33.1h0M525.5 32.2h0M525.8 31.0h0M526.6 33.2h0M527.2 30.7h0M528.0 30.8h0M528.9 30.8h0M529.8 28.7h0M530.2 30.5h0M531.0 30.5h0M531.9 29.4h0M532.8 29.8h0M533.9 31.7h0M534.0 28.3h0M535.5 30.9h0M535.7 28.9h0M536.5 28.3h0M537.6 28.4h0M538.5 28.8h0M538.9 28.3h0M539.9 28.9h0M540.7 29.9h0M541.4 28.3h0M542.1 27.5h0M542.7 28.1h0M544.0 27.0h0M544.7 25.5h0M544.8 26.1h0M546.2 27.5h0M546.3 27.7h0M547.4 25.3h0M547.9 27.1h0M548.6 25.7h0M549.5 26.4h0M550.7 26.5h0M551.7 25.9h0M552.3 23.8h0M553.1 26.5h0M553.3 24.4h0M554.2 25.5h0M555.2 23.8h0M556.0 23.5h0M557.0 25.2h0M557.3 26.0h0M558.6 24.6h0M559.3 24.5h0M560.0 24.2h0M560.2 25.4h0M561.1 25.4h0M561.8 22.6h0M562.9 23.3h0M563.7 21.6h0M564.7 22.7h0M565.5 23.4h0M565.6 23.8h0M566.9 22.5h0M567.5 22.3h0M568.3 23.6h0M568.8 22.7h0M570.1 22.3h0M570.5 21.3h0M571.6 21.8h0M572.0 20.7h0M573.1 21.1h0M573.7 22.4h0M574.2 22.8h0M575.0 20.4h0M576.1 21.4h0M576.8 21.5h0M577.5 22.6h0M578.5 21.1h0M578.9 22.2h0M580.0 21.4h0M580.2 20.3h0M581.4 20.6h0M581.9 20.4h0M582.8 21.8h0M584.0 20.6h0M584.6 21.4h0M585.4 19.6h0M585.6 19.2h0M586.9 20.5h0M587.8 19.6h0M588.0 19.1h0M589.4 20.1h0M589.8 19.9h0M590.4 19.0h0M591.5 18.9h0M592.3 20.9h0M593.0 20.2h0M593.6 20.0h0M594.5 18.8h0M595.6 20.5h0M596.1 19.3h0M596.5 19.3h0M597.6 20.6h0M598.1 19.8h0M598.8 17.7h0M599.9 19.0h0M600.9 20.9h0M601.0 17.8h0M602.1 19.8h0M602.9 19.1h0M604.0 18.9h0M604.1 18.5h0M605.3 19.9h0M606.3 20.1h0M606.7 18.0h0M607.9 17.1h0M608.4 17.8h0M608.8 17.0h0M609.9 17.7h0M610.4 18.5h0M611.4 17.4h0M612.2 17.0h0M612.9 17.3h0M613.9 18.2h0M614.4 17.0h0M615.5 16.8h0M615.6 17.7h0M617.0 17.8h0M617.2 18.1h0M618.1 16.3h0M619.0 17.8h0M620.0 16.9h0M620.4 15.8h0M621.2 16.4h0M621.8 16.9h0M622.9 17.6h0M623.8 16.5h0M624.8 15.8h0M624.9 17.4h0M626.1 17.1h0M626.5 16.5h0M627.5 16.7h0M628.3 15.9h0M629.0 15.1h0M630.0 16.3h0M630.5 16.5h0M631.2 14.3h0M632.0 14.6h0M632.7 16.9h0M634.0 17.5h0M634.1 16.5h0M635.4 15.9h0M635.7 16.7h0M636.5 15.8h0M637.3 15.6h0M638.2 15.4h0M639.3 16.4h0M640.1 16.3h0M640.8 15.9h0M641.6 16.2h0M642.4 15.9h0M643.2 13.7h0M643.3 14.8h0M644.8 16.4h0M645.1 14.3h0M645.9 15.1h0M646.6 16.8h0M647.3 15.6h0M648.5 13.6h0M649.4 15.2h0M650.0 16.4h0M650.3 14.0h0M651.8 14.2h0M652.4 14.8h0M653.2 15.9h0M653.9 14.8h0M654.1 15.8h0M655.5 15.7h0M656.0 14.1h0M656.4 14.5h0M657.2 16.5h0M658.0 11.7h0M659.1 13.9h0M659.5 15.3h0M660.3 13.4h0M661.1 14.6h0M662.0 13.7h0M662.7 15.0h0M663.6 12.7h0M664.6 12.9h0M664.9 13.5h0M665.7 12.6h0M666.8 13.9h0M667.9 13.9h0M668.5 14.0h0M668.9 13.3h0M669.7 12.6h0M670.8 12.8h0M671.3 13.2h0M672.2 12.1h0M673.1 14.7h0" stroke="#1414ff" stroke-width="2.6" stroke-linecap="round" fill="none"/>
<path d="M388.8 8.7 389.2 8.7 389.6 8.7 390.0 8.7 390.4 8.7 390.8 8.7 391.1 8.7 391.5 8.7 391.9 8.7 392.3 8.7 392.7 8.7 393.1 8.7 393.4 8.7 393.8 8.7 394.2 8.7 394.6 8.7 395.0 8.7 395.4 8.7 395.8 8.7 396.1 8.7 396.5 8.7 396.9 8.7 397.3 8.7 397.7 8.7 398.1 8.7 398.4 8.7 398.8 8.7 399.2 8.7 399.6 8.7 400.0 8.7 400.4 8.7 400.8 8.8 401.1 8.8 401.5 8.8 401.9 8.8 402.3 8.8 402.7 8.9 403.1 8.9 403.5 9.0 403.8 9.1 404.2 9.2 404.6 9.3 405.0 9.4 405.4 9.6 405.8 9.9 406.2 10.1 406.5 10.5 406.9 10.9 407.3 11.4 407.7 11.9 408.1 12.6 408.5 13.4 408.8 14.3 409.2 15.4 409.6 16.6 410.0 18.0 410.4 19.6 410.8 21.4 411.2 23.5 411.5 25.8 411.9 28.3 412.3 31.1 412.7 34.2 413.1 37.6 413.5 41.3 413.9 45.2 414.2 49.5 414.6 54.0 415.0 58.8 415.4 63.9 415.8 69.3 416.2 74.8 416.5 80.6 416.9 86.5 417.3 92.6 417.7 98.7 418.1 105.0 418.5 111.3 418.9 117.6 419.2 123.8 419.6 130.0 420.0 136.1 420.4 142.0 420.8 147.7 421.2 153.3 421.6 158.6 421.9 163.7 422.3 168.5 422.7 173.1 423.1 177.3 423.5 181.3 423.9 185.0 424.2 188.3 424.6 191.4 425.0 194.3 425.4 196.8 425.8 199.1 426.2 201.1 426.6 202.9 426.9 204.5 427.3 206.0 427.7 207.2 428.1 208.3 428.5 209.2 428.9 210.0 429.2 210.6 429.6 208.8 430.0 206.9 430.4 205.0 430.8 203.0 431.2 201.0 431.6 199.0 431.9 196.9 432.3 194.9 432.7 192.8 433.1 190.8 433.5 188.7 433.9 186.7 434.3 184.7 434.6 182.7 435.0 180.7 435.4 178.8 435.8 176.8 436.2 174.9 436.6 173.1 436.9 171.2 437.3 169.3 437.7 167.5 438.1 165.7 438.5 164.0 438.9 162.2 439.3 160.5 439.6 158.8 440.0 157.1 440.4 155.4 440.8 153.8 441.2 152.2 441.6 150.6 442.0 149.0 442.3 147.5 442.7 145.9 443.1 144.4 443.5 142.9 443.9 141.5 444.3 140.0 444.7 138.6 445.0 137.2 445.4 135.8 445.8 134.4 446.2 133.0 446.6 131.7 447.0 130.4 447.3 129.1 447.7 127.8 448.1 126.5 448.5 125.2 448.9 124.0 449.3 122.8 449.7 121.6 450.0 120.4 450.4 119.2 450.8 118.0 451.2 116.9 451.6 115.8 452.0 114.6 452.4 113.5 452.7 112.5 453.1 111.4 453.5 110.3 453.9 109.3 454.3 108.2 454.7 107.2 455.0 106.2 455.4 105.2 455.8 104.2 456.2 103.3 456.6 102.3 457.0 101.4 457.4 100.4 457.7 99.5 458.1 98.6 458.5 97.7 458.9 96.8 459.3 96.0 459.7 95.1 460.1 94.2 460.4 93.4 460.8 92.6 461.2 91.8 461.6 90.9 462.0 90.1 462.4 89.4 462.7 88.6 463.1 87.8 463.5 87.0 463.9 86.3 464.3 85.6 464.7 84.8 465.1 84.1 465.4 83.4 465.8 82.7 466.2 82.0 466.6 81.3 467.0 80.6 467.4 80.0 467.8 79.3 468.1 78.6 468.5 78.0 468.9 77.4 469.3 76.7 469.7 76.1 470.1 75.5 470.4 74.9 470.8 74.3 471.2 73.7 471.6 73.1 472.0 72.5 472.4 72.0 472.8 71.4 473.1 70.9 473.5 70.3 473.9 69.8 474.3 69.2 474.7 68.7 475.1 68.2 475.4 67.7 475.8 67.2 476.2 66.6 476.6 66.2 477.0 65.7 477.4 65.2 477.8 64.7 478.1 64.2 478.5 63.7 478.9 63.3 479.3 62.8 479.7 62.4 480.1 61.9 480.5 61.5 480.8 61.1 481.2 60.6 481.6 60.2 482.0 59.8 482.4 59.4 482.8 58.9 483.2 58.5 483.5 58.1 483.9 57.7 484.3 57.3 484.7 57.0 485.1 56.6 485.5 56.2 485.8 55.8 486.2 55.5 486.6 55.1 487.0 54.7 487.4 54.4 487.8 54.0 488.2 53.7 488.5 53.3 488.9 53.0 489.3 52.6 489.7 52.3 490.1 52.0 490.5 51.7 490.9 51.3 491.2 51.0 491.6 50.7 492.0 50.4 492.4 50.1 492.8 49.8 493.2 49.5 493.5 49.2 493.9 48.9 494.3 48.6 494.7 48.3 495.1 48.0 495.5 47.7 495.9 47.5 496.2 47.2 496.6 46.9 497.0 46.6 497.4 46.4 497.8 46.1 498.2 45.8 498.6 45.6 498.9 45.3 499.3 45.1 499.7 44.8 500.1 44.6 500.5 44.3 500.9 44.1 501.2 43.9 501.6 43.6 502.0 43.4 502.4 43.2 502.8 42.9 503.2 42.7 503.6 42.5 503.9 42.3 504.3 42.0 504.7 41.8 505.1 41.6 505.5 41.4 505.9 41.2 506.2 41.0 506.6 40.8 507.0 40.6 507.4 40.4 507.8 40.2 508.2 40.0 508.6 39.8 508.9 39.6 509.3 39.4 509.7 39.2 510.1 39.0 510.5 38.8 510.9 38.6 511.3 38.4 511.6 38.3 512.0 38.1 512.4 37.9 512.8 37.7 513.2 37.5 513.6 37.4 514.0 37.2 514.3 37.0 514.7 36.9 515.1 36.7 515.5 36.5 515.9 36.4 516.3 36.2 516.6 36.1 517.0 35.9 517.4 35.7 517.8 35.6 518.2 35.4 518.6 35.3 519.0 35.1 519.3 35.0 519.7 34.8 520.1 34.7 520.5 34.5 520.9 34.4 521.3 34.2 521.6 34.1 522.0 34.0 522.4 33.8 522.8 33.7 523.2 33.6 523.6 33.4 524.0 33.3 524.3 33.1 524.7 33.0 525.1 32.9 525.5 32.8 525.9 32.6 526.3 32.5 526.7 32.4 527.0 32.3 527.4 32.1 527.8 32.0 528.2 31.9 528.6 31.8 529.0 31.6 529.4 31.5 529.7 31.4 530.1 31.3 530.5 31.2 530.9 31.1 531.3 30.9 531.7 30.8 532.0 30.7 532.4 30.6 532.8 30.5 533.2 30.4 533.6 30.3 534.0 30.2 534.4 30.1 534.7 30.0 535.1 29.9 535.5 29.8 535.9 29.6 536.3 29.5 536.7 29.4 537.0 29.3 537.4 29.2 537.8 29.1 538.2 29.0 538.6 28.9 539.0 28.9 539.4 28.8 539.7 28.7 540.1 28.6 540.5 28.5 540.9 28.4 541.3 28.3 541.7 28.2 542.1 28.1 542.4 28.0 542.8 27.9 543.2 27.8 543.6 27.7 544.0 27.7 544.4 27.6 544.8 27.5 545.1 27.4 545.5 27.3 545.9 27.2 546.3 27.1 546.7 27.1 547.1 27.0 547.4 26.9 547.8 26.8 548.2 26.7 548.6 26.6 549.0 26.6 549.4 26.5 549.8 26.4 550.1 26.3 550.5 26.2 550.9 26.2 551.3 26.1 551.7 26.0 552.1 25.9 552.5 25.9 552.8 25.8 553.2 25.7 553.6 25.6 554.0 25.6 554.4 25.5 554.8 25.4 555.1 25.3 555.5 25.3 555.9 25.2 556.3 25.1 556.7 25.1 557.1 25.0 557.5 24.9 557.8 24.9 558.2 24.8 558.6 24.7 559.0 24.7 559.4 24.6 559.8 24.5 560.2 24.5 560.5 24.4 560.9 24.3 561.3 24.3 561.7 24.2 562.1 24.1 562.5 24.1 562.8 24.0 563.2 23.9 563.6 23.9 564.0 23.8 564.4 23.7 564.8 23.7 565.2 23.6 565.5 23.6 565.9 23.5 566.3 23.4 566.7 23.4 567.1 23.3 567.5 23.3 567.9 23.2 568.2 23.1 568.6 23.1 569.0 23.0 569.4 23.0 569.8 22.9 570.2 22.8 570.5 22.8 570.9 22.7 571.3 22.7 571.7 22.6 572.1 22.6 572.5 22.5 572.9 22.5 573.2 22.4 573.6 22.3 574.0 22.3 574.4 22.2 574.8 22.2 575.2 22.1 575.6 22.1 575.9 22.0 576.3 22.0 576.7 21.9 577.1 21.9 577.5 21.8 577.9 21.8 578.2 21.7 578.6 21.7 579.0 21.6 579.4 21.6 579.8 21.5 580.2 21.5 580.6 21.4 580.9 21.4 581.3 21.3 581.7 21.3 582.1 21.2 582.5 21.2 582.9 21.1 583.2 21.1 583.6 21.0 584.0 21.0 584.4 20.9 584.8 20.9 585.2 20.8 585.6 20.8 585.9 20.7 586.3 20.7 586.7 20.6 587.1 20.6 587.5 20.5 587.9 20.5 588.3 20.5 588.6 20.4 589.0 20.4 589.4 20.3 589.8 20.3 590.2 20.2 590.6 20.2 591.0 20.1 591.3 20.1 591.7 20.1 592.1 20.0 592.5 20.0 592.9 19.9 593.3 19.9 593.6 19.8 594.0 19.8 594.4 19.8 594.8 19.7 595.2 19.7 595.6 19.6 596.0 19.6 596.3 19.5 596.7 19.5 597.1 19.5 597.5 19.4 597.9 19.4 598.3 19.3 598.7 19.3 599.0 19.3 599.4 19.2 599.8 19.2 600.2 19.1 600.6 19.1 601.0 19.1 601.3 19.0 601.7 19.0 602.1 18.9 602.5 18.9 602.9 18.9 603.3 18.8 603.7 18.8 604.0 18.8 604.4 18.7 604.8 18.7 605.2 18.6 605.6 18.6 606.0 18.6 606.4 18.5 606.7 18.5 607.1 18.5 607.5 18.4 607.9 18.4 608.3 18.3 608.7 18.3 609.0 18.3 609.4 18.2 609.8 18.2 610.2 18.2 610.6 18.1 611.0 18.1 611.4 18.1 611.7 18.0 612.1 18.0 612.5 17.9 612.9 17.9 613.3 17.9 613.7 17.8 614.1 17.8 614.4 17.8 614.8 17.7 615.2 17.7 615.6 17.7 616.0 17.6 616.4 17.6 616.7 17.6 617.1 17.5 617.5 17.5 617.9 17.5 618.3 17.4 618.7 17.4 619.1 17.4 619.4 17.3 619.8 17.3 620.2 17.3 620.6 17.2 621.0 17.2 621.4 17.2 621.8 17.1 622.1 17.1 622.5 17.1 622.9 17.0 623.3 17.0 623.7 17.0 624.1 16.9 624.4 16.9 624.8 16.9 625.2 16.9 625.6 16.8 626.0 16.8 626.4 16.8 626.8 16.7 627.1 16.7 627.5 16.7 627.9 16.6 628.3 16.6 628.7 16.6 629.1 16.5 629.5 16.5 629.8 16.5 630.2 16.5 630.6 16.4 631.0 16.4 631.4 16.4 631.8 16.3 632.1 16.3 632.5 16.3 632.9 16.2 633.3 16.2 633.7 16.2 634.1 16.2 634.5 16.1 634.8 16.1 635.2 16.1 635.6 16.0 636.0 16.0 636.4 16.0 636.8 16.0 637.2 15.9 637.5 15.9 637.9 15.9 638.3 15.8 638.7 15.8 639.1 15.8 639.5 15.8 639.8 15.7 640.2 15.7 640.6 15.7 641.0 15.7 641.4 15.6 641.8 15.6 642.2 15.6 642.5 15.5 642.9 15.5 643.3 15.5 643.7 15.5 644.1 15.4 644.5 15.4 644.9 15.4 645.2 15.4 645.6 15.3 646.0 15.3 646.4 15.3 646.8 15.3 647.2 15.2 647.5 15.2 647.9 15.2 648.3 15.2 648.7 15.1 649.1 15.1 649.5 15.1 649.9 15.0 650.2 15.0 650.6 15.0 651.0 15.0 651.4 14.9 651.8 14.9 652.2 14.9 652.6 14.9 652.9 14.8 653.3 14.8 653.7 14.8 654.1 14.8 654.5 14.7 654.9 14.7 655.2 14.7 655.6 14.7 656.0 14.7 656.4 14.6 656.8 14.6 657.2 14.6 657.6 14.6 657.9 14.5 658.3 14.5 658.7 14.5 659.1 14.5 659.5 14.4 659.9 14.4 660.2 14.4 660.6 14.4 661.0 14.3 661.4 14.3 661.8 14.3 662.2 14.3 662.6 14.3 662.9 14.2 663.3 14.2 663.7 14.2 664.1 14.2 664.5 14.1 664.9 14.1 665.3 14.1 665.6 14.1 666.0 14.0 666.4 14.0 666.8 14.0 667.2 14.0 667.6 14.0 668.0 13.9 668.3 13.9 668.7 13.9 669.1 13.9 669.5 13.8 669.9 13.8 670.3 13.8 670.6 13.8 671.0 13.8 671.4 13.7 671.8 13.7 672.2 13.7 672.6 13.7 673.0 13.7 673.3 13.6" stroke="#7a0f0f" stroke-width="3.20" fill="none" stroke-linejoin="round"/>
<path d="M388.8 8.5h0M389.8 8.9h0M390.0 8.8h0M390.8 8.9h0M391.7 8.9h0M392.3 9.0h0M393.5 8.9h0M394.0 8.2h0M395.3 8.7h0M395.7 8.7h0M396.8 8.9h0M397.1 10.9h0M397.8 8.9h0M399.0 9.0h0M399.3 8.3h0M400.2 8.4h0M400.8 8.8h0M401.9 8.7h0M402.5 9.2h0M403.7 9.0h0M404.0 8.8h0M404.9 9.2h0M405.6 10.0h0M406.5 11.1h0M407.6 11.6h0M407.9 12.4h0M408.8 14.8h0M410.0 16.4h0M410.6 20.2h0M411.3 23.8h0M411.6 28.5h0M412.8 34.5h0M413.3 43.4h0M414.1 49.0h0M414.6 58.2h0M416.0 69.2h0M416.4 81.0h0M417.7 92.3h0M418.2 105.1h0M419.0 117.0h0M419.9 130.5h0M420.5 142.1h0M421.3 153.3h0M421.6 164.1h0M422.6 173.2h0M423.8 182.0h0M424.2 188.4h0M425.1 194.3h0M425.5 199.4h0M426.4 203.1h0M427.7 206.3h0M428.3 207.7h0M428.9 209.5h0M429.7 208.9h0M430.7 204.1h0M430.9 199.2h0M431.6 196.5h0M433.0 192.1h0M433.6 188.8h0M434.5 184.4h0M434.8 178.9h0M436.1 176.0h0M436.4 172.5h0M437.3 169.9h0M437.9 165.5h0M438.8 161.6h0M439.5 159.4h0M440.2 155.8h0M441.1 151.0h0M441.7 149.4h0M442.6 146.4h0M443.8 143.5h0M444.5 139.5h0M444.8 136.6h0M445.9 133.9h0M446.6 130.4h0M447.6 128.9h0M448.0 126.5h0M449.1 123.5h0M449.9 121.0h0M450.4 119.0h0M451.2 116.3h0M452.1 115.2h0M453.0 111.2h0M453.6 109.5h0M454.3 107.9h0M455.2 106.7h0M455.7 104.2h0M456.7 103.2h0M457.7 100.2h0M457.8 98.1h0M458.6 96.2h0M459.8 95.6h0M460.2 93.0h0M460.9 91.4h0M462.3 89.6h0M463.0 88.6h0M463.2 86.5h0M464.5 86.2h0M465.2 83.8h0M465.7 82.7h0M466.7 80.9h0M467.4 80.6h0M468.4 78.5h0M469.0 77.3h0M469.9 74.9h0M470.2 76.0h0M471.6 73.1h0M471.6 72.4h0M472.6 70.3h0M473.8 70.8h0M474.2 69.2h0M475.0 67.7h0M475.9 66.6h0M476.4 65.0h0M477.4 65.9h0M478.4 64.1h0M479.1 63.9h0M479.6 62.8h0M480.3 61.2h0M481.1 59.6h0M482.3 60.8h0M482.9 59.0h0M483.2 58.6h0M484.2 56.0h0M484.7 55.5h0M485.7 56.0h0M486.3 54.4h0M487.3 54.4h0M488.0 53.7h0M488.8 53.5h0M490.1 51.8h0M490.3 52.3h0M491.4 48.9h0M491.8 51.1h0M493.2 49.9h0M493.3 49.5h0M494.4 49.5h0M495.1 47.8h0M495.8 47.7h0M496.6 46.2h0M497.6 46.9h0M498.3 45.9h0M498.6 43.3h0M499.6 45.2h0M500.2 43.7h0M500.9 43.6h0M502.1 42.7h0M502.5 43.0h0M503.4 41.4h0M504.0 43.6h0M505.4 42.4h0M506.0 41.4h0M506.5 41.2h0M507.1 41.1h0M508.5 40.2h0M508.8 40.1h0M509.7 38.9h0M510.3 38.4h0M511.4 37.7h0M511.7 40.6h0M513.0 37.5h0M513.9 39.0h0M514.3 39.0h0M515.0 37.1h0M515.5 35.8h0M516.5 38.0h0M517.4 36.4h0M517.8 35.7h0M519.0 36.1h0M519.8 34.3h0M520.9 34.3h0M521.4 33.9h0M522.3 33.6h0M522.8 34.4h0M523.4 32.5h0M524.4 32.7h0M525.1 32.6h0M525.9 33.9h0M526.4 32.3h0M527.6 31.4h0M528.5 32.1h0M528.9 31.8h0M530.1 32.8h0M530.6 32.4h0M531.2 30.6h0M532.0 31.9h0M533.0 30.3h0M533.2 30.2h0M534.3 30.2h0M534.9 29.2h0M536.0 30.6h0M536.7 28.5h0M537.7 28.2h0M538.2 28.1h0M539.2 28.3h0M540.0 29.5h0M540.3 28.3h0M541.3 27.8h0M542.0 27.5h0M542.8 27.4h0M543.3 28.3h0M544.6 27.2h0M545.2 28.0h0M545.6 27.4h0M546.9 26.9h0M547.1 26.8h0M548.2 25.4h0M549.2 26.4h0M549.6 26.4h0M550.8 25.7h0M551.3 26.1h0M552.0 23.4h0M552.9 26.1h0M553.5 25.0h0M554.5 24.7h0M554.9 26.1h0M555.8 23.6h0M557.0 24.1h0M557.2 24.5h0M558.4 26.1h0M559.0 24.8h0M560.0 24.5h0M560.4 23.2h0M561.4 24.4h0M561.7 23.2h0M562.9 24.4h0M563.7 23.6h0M564.7 22.9h0M564.8 23.0h0M565.9 23.6h0M566.9 22.7h0M567.2 24.0h0M568.4 22.2h0M568.7 22.8h0M569.8 24.3h0M570.6 23.0h0M571.4 22.1h0M572.0 23.1h0M572.6 23.6h0M573.6 22.5h0M574.3 21.5h0M575.3 22.6h0M576.3 21.5h0M576.7 21.9h0M577.7 22.1h0M578.2 23.4h0M578.8 20.4h0M579.5 21.7h0M580.4 21.5h0M581.3 20.8h0M581.9 21.1h0M583.2 22.2h0M583.7 19.6h0M584.2 20.2h0M585.0 21.3h0M586.2 18.3h0M587.0 20.1h0M587.9 21.7h0M588.3 20.4h0M588.9 20.0h0M590.0 20.9h0M590.5 21.2h0M591.3 20.6h0M591.9 20.1h0M593.1 18.3h0M593.6 19.9h0M594.3 18.9h0M595.0 18.8h0M596.3 19.0h0M596.9 18.9h0M597.4 19.6h0M597.9 18.5h0M599.4 19.9h0M599.6 18.6h0M600.5 21.0h0M601.7 18.0h0M602.4 21.5h0M602.5 19.2h0M603.3 19.1h0M604.3 18.3h0M605.2 19.5h0M605.7 18.2h0M607.0 18.4h0M607.2 18.4h0M607.9 17.4h0M609.1 17.2h0M610.1 18.2h0M610.4 19.2h0M611.3 17.2h0M611.9 20.1h0M613.2 18.3h0M613.6 16.4h0M614.7 18.5h0M614.8 17.2h0M616.0 18.2h0M617.1 17.7h0M617.8 16.8h0M618.6 17.7h0M618.8 17.0h0M620.1 15.9h0M620.3 18.1h0M621.3 16.8h0M621.9 16.0h0M622.5 16.9h0M623.5 18.2h0M624.1 16.8h0M624.8 16.8h0M625.8 17.3h0M627.1 15.8h0M627.2 16.8h0M628.4 17.0h0M629.4 18.9h0M630.0 15.0h0M630.5 17.8h0M631.5 16.1h0M631.8 15.2h0M632.7 17.2h0M633.5 16.1h0M634.7 16.5h0M635.4 16.0h0M635.8 16.3h0M636.6 15.1h0M637.3 16.2h0M638.3 19.3h0M638.8 16.9h0M639.7 16.1h0M641.0 16.8h0M641.7 15.4h0M642.4 16.1h0M642.8 16.2h0M643.8 15.9h0M644.8 14.7h0M645.4 14.7h0M645.9 16.3h0M646.6 15.8h0M647.5 14.2h0M648.5 15.2h0M649.3 14.9h0M649.7 14.8h0M650.9 15.5h0M651.2 16.4h0M652.5 14.5h0M653.0 16.4h0M653.6 15.1h0M654.3 14.4h0M654.9 14.8h0M656.4 14.5h0M656.5 14.9h0M657.2 15.2h0M658.1 13.9h0M659.3 14.5h0M660.1 13.3h0M660.3 15.2h0M661.4 14.0h0M662.4 14.1h0M663.0 13.8h0M663.8 14.4h0M664.1 13.3h0M664.9 15.0h0M665.9 13.6h0M666.6 14.5h0M667.6 13.8h0M668.0 16.6h0M668.7 14.1h0M669.9 11.4h0M670.7 12.7h0M671.1 13.7h0M671.9 14.1h0M672.9 12.8h0" stroke="#7a0f0f" stroke-width="2.6" stroke-linecap="round" fill="none"/>
<path d="M388.8 7.1 389.2 7.1 389.6 7.1 390.0 7.1 390.4 7.1 390.8 7.1 391.1 7.1 391.5 7.1 391.9 7.1 392.3 7.1 392.7 7.1 393.1 7.1 393.4 7.1 393.8 7.1 394.2 7.1 394.6 7.1 395.0 7.1 395.4 7.1 395.8 7.1 396.1 7.1 396.5 7.1 396.9 7.1 397.3 7.1 397.7 7.1 398.1 7.2 398.4 7.2 398.8 7.2 399.2 7.2 399.6 7.2 400.0 7.2 400.4 7.2 400.8 7.2 401.1 7.2 401.5 7.2 401.9 7.2 402.3 7.3 402.7 7.3 403.1 7.4 403.5 7.4 403.8 7.5 404.2 7.6 404.6 7.7 405.0 7.9 405.4 8.1 405.8 8.3 406.2 8.6 406.5 9.0 406.9 9.4 407.3 9.9 407.7 10.5 408.1 11.2 408.5 12.0 408.8 13.0 409.2 14.1 409.6 15.4 410.0 16.8 410.4 18.5 410.8 20.4 411.2 22.5 411.5 24.9 411.9 27.5 412.3 30.5 412.7 33.7 413.1 37.2 413.5 41.0 413.9 45.2 414.2 49.6 414.6 54.3 415.0 59.3 415.4 64.6 415.8 70.2 416.2 76.0 416.5 82.0 416.9 88.1 417.3 94.5 417.7 100.9 418.1 107.4 418.5 113.9 418.9 120.5 419.2 127.0 419.6 133.4 420.0 139.8 420.4 145.9 420.8 151.9 421.2 157.7 421.6 163.3 421.9 168.5 422.3 173.6 422.7 178.3 423.1 182.7 423.5 186.9 423.9 190.7 424.2 194.2 424.6 197.4 425.0 200.3 425.4 203.0 425.8 205.4 426.2 207.5 426.6 209.4 426.9 211.1 427.3 212.5 427.7 213.8 428.1 214.9 428.5 215.9 428.9 216.7 429.2 217.4 429.6 215.5 430.0 213.6 430.4 211.6 430.8 209.5 431.2 207.4 431.6 205.3 431.9 203.2 432.3 201.0 432.7 198.9 433.1 196.8 433.5 194.7 433.9 192.6 434.3 190.5 434.6 188.4 435.0 186.3 435.4 184.3 435.8 182.3 436.2 180.3 436.6 178.4 436.9 176.4 437.3 174.5 437.7 172.6 438.1 170.8 438.5 168.9 438.9 167.1 439.3 165.3 439.6 163.5 440.0 161.8 440.4 160.1 440.8 158.3 441.2 156.7 441.6 155.0 442.0 153.4 442.3 151.8 442.7 150.2 443.1 148.6 443.5 147.0 443.9 145.5 444.3 144.0 444.7 142.5 445.0 141.0 445.4 139.6 445.8 138.1 446.2 136.7 446.6 135.3 447.0 133.9 447.3 132.6 447.7 131.2 448.1 129.9 448.5 128.6 448.9 127.3 449.3 126.0 449.7 124.8 450.0 123.5 450.4 122.3 450.8 121.1 451.2 119.9 451.6 118.7 452.0 117.6 452.4 116.4 452.7 115.3 453.1 114.2 453.5 113.1 453.9 112.0 454.3 110.9 454.7 109.8 455.0 108.8 455.4 107.7 455.8 106.7 456.2 105.7 456.6 104.7 457.0 103.7 457.4 102.8 457.7 101.8 458.1 100.9 458.5 99.9 458.9 99.0 459.3 98.1 459.7 97.2 460.1 96.3 460.4 95.4 460.8 94.6 461.2 93.7 461.6 92.9 462.0 92.0 462.4 91.2 462.7 90.4 463.1 89.6 463.5 88.8 463.9 88.0 464.3 87.2 464.7 86.5 465.1 85.7 465.4 85.0 465.8 84.3 466.2 83.5 466.6 82.8 467.0 82.1 467.4 81.4 467.8 80.7 468.1 80.0 468.5 79.4 468.9 78.7 469.3 78.1 469.7 77.4 470.1 76.8 470.4 76.1 470.8 75.5 471.2 74.9 471.6 74.3 472.0 73.7 472.4 73.1 472.8 72.5 473.1 71.9 473.5 71.4 473.9 70.8 474.3 70.2 474.7 69.7 475.1 69.1 475.4 68.6 475.8 68.1 476.2 67.5 476.6 67.0 477.0 66.5 477.4 66.0 477.8 65.5 478.1 65.0 478.5 64.5 478.9 64.0 479.3 63.6 479.7 63.1 480.1 62.6 480.5 62.2 480.8 61.7 481.2 61.3 481.6 60.8 482.0 60.4 482.4 59.9 482.8 59.5 483.2 59.1 483.5 58.7 483.9 58.3 484.3 57.9 484.7 57.5 485.1 57.1 485.5 56.7 485.8 56.3 486.2 55.9 486.6 55.5 487.0 55.1 487.4 54.8 487.8 54.4 488.2 54.0 488.5 53.7 488.9 53.3 489.3 53.0 489.7 52.6 490.1 52.3 490.5 51.9 490.9 51.6 491.2 51.3 491.6 50.9 492.0 50.6 492.4 50.3 492.8 50.0 493.2 49.7 493.5 49.4 493.9 49.1 494.3 48.8 494.7 48.5 495.1 48.2 495.5 47.9 495.9 47.6 496.2 47.3 496.6 47.0 497.0 46.7 497.4 46.5 497.8 46.2 498.2 45.9 498.6 45.7 498.9 45.4 499.3 45.1 499.7 44.9 500.1 44.6 500.5 44.4 500.9 44.1 501.2 43.9 501.6 43.6 502.0 43.4 502.4 43.1 502.8 42.9 503.2 42.7 503.6 42.4 503.9 42.2 504.3 42.0 504.7 41.7 505.1 41.5 505.5 41.3 505.9 41.1 506.2 40.9 506.6 40.7 507.0 40.4 507.4 40.2 507.8 40.0 508.2 39.8 508.6 39.6 508.9 39.4 509.3 39.2 509.7 39.0 510.1 38.8 510.5 38.6 510.9 38.5 511.3 38.3 511.6 38.1 512.0 37.9 512.4 37.7 512.8 37.5 513.2 37.3 513.6 37.2 514.0 37.0 514.3 36.8 514.7 36.6 515.1 36.5 515.5 36.3 515.9 36.1 516.3 36.0 516.6 35.8 517.0 35.6 517.4 35.5 517.8 35.3 518.2 35.2 518.6 35.0 519.0 34.9 519.3 34.7 519.7 34.6 520.1 34.4 520.5 34.3 520.9 34.1 521.3 34.0 521.6 33.8 522.0 33.7 522.4 33.5 522.8 33.4 523.2 33.2 523.6 33.1 524.0 33.0 524.3 32.8 524.7 32.7 525.1 32.6 525.5 32.4 525.9 32.3 526.3 32.2 526.7 32.0 527.0 31.9 527.4 31.8 527.8 31.7 528.2 31.5 528.6 31.4 529.0 31.3 529.4 31.2 529.7 31.1 530.1 30.9 530.5 30.8 530.9 30.7 531.3 30.6 531.7 30.5 532.0 30.4 532.4 30.2 532.8 30.1 533.2 30.0 533.6 29.9 534.0 29.8 534.4 29.7 534.7 29.6 535.1 29.5 535.5 29.4 535.9 29.3 536.3 29.2 536.7 29.1 537.0 29.0 537.4 28.9 537.8 28.8 538.2 28.7 538.6 28.6 539.0 28.5 539.4 28.4 539.7 28.3 540.1 28.2 540.5 28.1 540.9 28.0 541.3 27.9 541.7 27.8 542.1 27.7 542.4 27.6 542.8 27.5 543.2 27.4 543.6 27.3 544.0 27.3 544.4 27.2 544.8 27.1 545.1 27.0 545.5 26.9 545.9 26.8 546.3 26.7 546.7 26.7 547.1 26.6 547.4 26.5 547.8 26.4 548.2 26.3 548.6 26.2 549.0 26.2 549.4 26.1 549.8 26.0 550.1 25.9 550.5 25.8 550.9 25.8 551.3 25.7 551.7 25.6 552.1 25.5 552.5 25.5 552.8 25.4 553.2 25.3 553.6 25.2 554.0 25.2 554.4 25.1 554.8 25.0 555.1 24.9 555.5 24.9 555.9 24.8 556.3 24.7 556.7 24.7 557.1 24.6 557.5 24.5 557.8 24.4 558.2 24.4 558.6 24.3 559.0 24.2 559.4 24.2 559.8 24.1 560.2 24.0 560.5 24.0 560.9 23.9 561.3 23.8 561.7 23.8 562.1 23.7 562.5 23.7 562.8 23.6 563.2 23.5 563.6 23.5 564.0 23.4 564.4 23.3 564.8 23.3 565.2 23.2 565.5 23.2 565.9 23.1 566.3 23.0 566.7 23.0 567.1 22.9 567.5 22.9 567.9 22.8 568.2 22.7 568.6 22.7 569.0 22.6 569.4 22.6 569.8 22.5 570.2 22.5 570.5 22.4 570.9 22.3 571.3 22.3 571.7 22.2 572.1 22.2 572.5 22.1 572.9 22.1 573.2 22.0 573.6 22.0 574.0 21.9 574.4 21.8 574.8 21.8 575.2 21.7 575.6 21.7 575.9 21.6 576.3 21.6 576.7 21.5 577.1 21.5 577.5 21.4 577.9 21.4 578.2 21.3 578.6 21.3 579.0 21.2 579.4 21.2 579.8 21.1 580.2 21.1 580.6 21.0 580.9 21.0 581.3 20.9 581.7 20.9 582.1 20.8 582.5 20.8 582.9 20.7 583.2 20.7 583.6 20.6 584.0 20.6 584.4 20.6 584.8 20.5 585.2 20.5 585.6 20.4 585.9 20.4 586.3 20.3 586.7 20.3 587.1 20.2 587.5 20.2 587.9 20.1 588.3 20.1 588.6 20.0 589.0 20.0 589.4 20.0 589.8 19.9 590.2 19.9 590.6 19.8 591.0 19.8 591.3 19.7 591.7 19.7 592.1 19.7 592.5 19.6 592.9 19.6 593.3 19.5 593.6 19.5 594.0 19.4 594.4 19.4 594.8 19.4 595.2 19.3 595.6 19.3 596.0 19.2 596.3 19.2 596.7 19.2 597.1 19.1 597.5 19.1 597.9 19.0 598.3 19.0 598.7 19.0 599.0 18.9 599.4 18.9 599.8 18.8 600.2 18.8 600.6 18.8 601.0 18.7 601.3 18.7 601.7 18.7 602.1 18.6 602.5 18.6 602.9 18.5 603.3 18.5 603.7 18.5 604.0 18.4 604.4 18.4 604.8 18.3 605.2 18.3 605.6 18.3 606.0 18.2 606.4 18.2 606.7 18.2 607.1 18.1 607.5 18.1 607.9 18.1 608.3 18.0 608.7 18.0 609.0 18.0 609.4 17.9 609.8 17.9 610.2 17.8 610.6 17.8 611.0 17.8 611.4 17.7 611.7 17.7 612.1 17.7 612.5 17.6 612.9 17.6 613.3 17.6 613.7 17.5 614.1 17.5 614.4 17.5 614.8 17.4 615.2 17.4 615.6 17.4 616.0 17.3 616.4 17.3 616.7 17.3 617.1 17.2 617.5 17.2 617.9 17.2 618.3 17.1 618.7 17.1 619.1 17.1 619.4 17.0 619.8 17.0 620.2 17.0 620.6 16.9 621.0 16.9 621.4 16.9 621.8 16.9 622.1 16.8 622.5 16.8 622.9 16.8 623.3 16.7 623.7 16.7 624.1 16.7 624.4 16.6 624.8 16.6 625.2 16.6 625.6 16.5 626.0 16.5 626.4 16.5 626.8 16.5 627.1 16.4 627.5 16.4 627.9 16.4 628.3 16.3 628.7 16.3 629.1 16.3 629.5 16.2 629.8 16.2 630.2 16.2 630.6 16.2 631.0 16.1 631.4 16.1 631.8 16.1 632.1 16.0 632.5 16.0 632.9 16.0 633.3 16.0 633.7 15.9 634.1 15.9 634.5 15.9 634.8 15.8 635.2 15.8 635.6 15.8 636.0 15.8 636.4 15.7 636.8 15.7 637.2 15.7 637.5 15.7 637.9 15.6 638.3 15.6 638.7 15.6 639.1 15.5 639.5 15.5 639.8 15.5 640.2 15.5 640.6 15.4 641.0 15.4 641.4 15.4 641.8 15.4 642.2 15.3 642.5 15.3 642.9 15.3 643.3 15.3 643.7 15.2 644.1 15.2 644.5 15.2 644.9 15.1 645.2 15.1 645.6 15.1 646.0 15.1 646.4 15.0 646.8 15.0 647.2 15.0 647.5 15.0 647.9 14.9 648.3 14.9 648.7 14.9 649.1 14.9 649.5 14.8 649.9 14.8 650.2 14.8 650.6 14.8 651.0 14.7 651.4 14.7 651.8 14.7 652.2 14.7 652.6 14.7 652.9 14.6 653.3 14.6 653.7 14.6 654.1 14.6 654.5 14.5 654.9 14.5 655.2 14.5 655.6 14.5 656.0 14.4 656.4 14.4 656.8 14.4 657.2 14.4 657.6 14.3 657.9 14.3 658.3 14.3 658.7 14.3 659.1 14.3 659.5 14.2 659.9 14.2 660.2 14.2 660.6 14.2 661.0 14.1 661.4 14.1 661.8 14.1 662.2 14.1 662.6 14.0 662.9 14.0 663.3 14.0 663.7 14.0 664.1 14.0 664.5 13.9 664.9 13.9 665.3 13.9 665.6 13.9 666.0 13.9 666.4 13.8 666.8 13.8 667.2 13.8 667.6 13.8 668.0 13.7 668.3 13.7 668.7 13.7 669.1 13.7 669.5 13.7 669.9 13.6 670.3 13.6 670.6 13.6 671.0 13.6 671.4 13.6 671.8 13.5 672.2 13.5 672.6 13.5 673.0 13.5 673.3 13.5" stroke="#3c9c2c" stroke-width="3.20" fill="none" stroke-linejoin="round"/>
<path d="M388.6 6.4h0M389.8 7.1h0M390.5 7.3h0M391.3 7.0h0M392.1 7.1h0M392.3 7.3h0M393.2 7.3h0M393.9 6.8h0M395.1 7.0h0M395.5 7.2h0M396.5 7.2h0M397.2 7.1h0M397.7 7.4h0M398.7 7.5h0M399.7 7.3h0M400.3 6.5h0M401.2 6.9h0M402.3 7.5h0M402.8 7.2h0M403.5 7.3h0M404.1 7.6h0M405.0 8.0h0M406.0 8.3h0M406.2 8.6h0M407.4 9.9h0M407.7 11.3h0M408.7 13.0h0M409.3 15.4h0M410.0 18.8h0M411.2 22.5h0M412.0 27.4h0M412.5 33.7h0M413.2 41.2h0M414.3 49.6h0M415.4 59.0h0M416.0 70.4h0M416.8 81.7h0M417.4 94.5h0M418.0 105.7h0M418.5 121.0h0M419.4 133.6h0M420.6 145.7h0M421.1 157.5h0M422.3 168.6h0M422.7 178.8h0M423.6 187.6h0M424.5 194.1h0M424.7 200.4h0M425.5 205.6h0M426.4 209.2h0M427.3 212.4h0M428.4 214.7h0M428.6 216.9h0M429.3 215.5h0M430.3 212.0h0M431.4 207.6h0M432.0 203.1h0M432.4 199.2h0M433.8 194.7h0M434.2 190.8h0M434.9 186.5h0M435.9 183.0h0M436.5 178.1h0M437.1 175.1h0M438.2 170.4h0M438.9 166.9h0M439.3 163.4h0M440.7 160.1h0M440.9 156.1h0M442.1 154.2h0M442.7 149.8h0M443.7 147.5h0M444.4 143.5h0M445.0 141.8h0M445.6 138.2h0M446.5 135.7h0M447.3 133.2h0M448.3 130.0h0M448.8 127.9h0M449.9 125.2h0M450.1 122.5h0M451.0 120.2h0M452.0 117.8h0M452.9 115.7h0M453.8 112.7h0M454.2 111.1h0M455.1 108.6h0M455.7 107.0h0M456.7 104.0h0M457.3 101.2h0M458.3 101.2h0M458.9 99.1h0M459.4 97.7h0M460.5 96.3h0M461.0 94.4h0M461.9 92.1h0M462.8 91.2h0M463.9 88.1h0M464.3 88.2h0M465.0 85.0h0M465.6 82.7h0M466.4 82.1h0M467.4 81.4h0M468.2 79.8h0M469.2 78.6h0M469.5 77.0h0M470.8 76.4h0M471.0 74.1h0M472.1 73.0h0M473.1 73.0h0M473.8 70.5h0M473.9 70.8h0M475.0 69.6h0M476.1 67.9h0M476.5 66.2h0M477.4 66.2h0M478.3 64.1h0M479.3 64.0h0M479.7 64.0h0M480.1 61.5h0M481.5 61.2h0M482.2 60.3h0M482.6 59.0h0M483.7 59.2h0M484.1 57.7h0M485.2 56.2h0M486.1 56.6h0M486.9 55.4h0M487.1 54.6h0M488.3 54.7h0M489.1 53.2h0M489.6 53.0h0M490.3 52.7h0M491.6 51.6h0M492.1 49.6h0M493.0 49.4h0M493.4 49.5h0M494.6 46.7h0M495.1 46.9h0M495.7 46.5h0M496.7 46.9h0M497.6 45.2h0M498.0 45.4h0M499.2 44.2h0M499.5 43.6h0M500.7 45.6h0M501.6 44.6h0M501.8 44.8h0M502.7 42.9h0M503.2 42.3h0M504.5 41.0h0M505.4 42.3h0M506.1 40.6h0M506.3 40.0h0M507.1 40.8h0M508.2 40.8h0M509.2 39.4h0M509.8 39.2h0M510.2 38.0h0M511.4 38.9h0M511.9 36.6h0M513.0 38.2h0M513.6 37.5h0M514.0 36.6h0M514.9 36.4h0M515.5 36.3h0M516.6 35.9h0M517.4 35.7h0M518.6 35.1h0M518.9 33.9h0M520.0 34.6h0M520.3 35.5h0M520.9 34.8h0M522.2 35.3h0M523.1 34.8h0M523.8 34.3h0M524.1 32.5h0M525.5 32.6h0M526.2 33.0h0M526.7 33.0h0M527.6 31.9h0M528.0 31.0h0M528.7 31.5h0M529.4 30.2h0M530.3 30.9h0M531.6 30.0h0M531.7 30.0h0M532.7 28.9h0M533.8 29.3h0M534.1 29.5h0M534.9 28.5h0M535.5 29.1h0M536.5 29.0h0M537.7 28.1h0M538.1 29.4h0M539.1 28.7h0M539.5 29.0h0M540.8 29.9h0M540.9 28.5h0M542.0 29.0h0M542.6 28.0h0M543.9 27.8h0M544.5 26.6h0M545.0 26.6h0M546.2 27.7h0M546.8 26.2h0M547.1 26.6h0M547.9 26.3h0M548.6 25.7h0M549.4 26.2h0M550.7 24.9h0M551.5 25.1h0M552.0 25.1h0M552.9 26.2h0M553.8 24.7h0M554.7 25.2h0M555.3 25.0h0M555.7 25.9h0M556.3 23.9h0M557.6 25.1h0M558.6 24.1h0M559.0 25.1h0M559.7 24.5h0M560.2 23.8h0M561.5 23.9h0M561.7 22.9h0M563.2 24.8h0M563.6 23.3h0M564.1 23.5h0M565.0 23.9h0M565.8 22.9h0M566.8 23.5h0M567.4 23.2h0M568.5 22.3h0M569.3 21.8h0M569.4 22.8h0M570.3 21.9h0M571.1 22.2h0M572.5 23.6h0M573.2 23.1h0M573.5 21.7h0M574.2 22.3h0M575.3 21.7h0M576.0 22.4h0M576.9 21.6h0M577.2 22.1h0M578.1 21.2h0M579.3 21.6h0M579.5 19.4h0M580.3 21.7h0M581.2 20.8h0M582.3 20.5h0M582.7 19.6h0M583.8 20.3h0M584.7 20.0h0M585.3 20.6h0M585.6 21.3h0M587.0 21.1h0M587.6 20.3h0M588.4 20.9h0M588.8 20.8h0M589.9 19.6h0M590.6 19.2h0M591.3 20.3h0M591.8 18.7h0M592.8 21.7h0M594.0 19.0h0M594.5 19.6h0M594.8 20.4h0M596.1 19.5h0M596.5 19.2h0M597.5 19.4h0M598.2 19.6h0M599.3 18.9h0M599.9 18.9h0M600.4 18.5h0M601.7 18.5h0M601.8 19.4h0M603.2 19.2h0M603.3 17.8h0M604.4 18.1h0M605.3 19.1h0M606.2 19.1h0M606.9 19.5h0M607.8 18.9h0M608.1 19.4h0M609.0 18.9h0M610.2 17.6h0M610.7 18.7h0M611.6 19.1h0M612.5 15.8h0M613.3 17.4h0M613.5 17.0h0M614.7 17.8h0M615.2 18.1h0M616.0 17.1h0M617.1 17.8h0M617.6 16.8h0M618.4 17.4h0M619.1 16.8h0M619.6 17.0h0M620.6 16.7h0M621.7 17.2h0M622.3 16.3h0M623.2 17.2h0M623.7 16.0h0M624.1 17.3h0M625.4 15.8h0M626.2 15.8h0M626.5 16.0h0M627.3 15.7h0M628.6 16.8h0M629.4 16.4h0M629.9 17.6h0M630.6 16.7h0M631.3 15.4h0M632.3 15.7h0M633.0 16.3h0M633.4 16.7h0M634.8 15.7h0M635.0 14.6h0M635.9 16.8h0M637.1 14.7h0M637.5 15.8h0M638.5 16.0h0M638.9 16.6h0M640.1 16.5h0M640.4 15.1h0M641.6 17.0h0M642.2 15.2h0M643.1 15.4h0M643.4 14.2h0M644.6 15.5h0M645.1 14.5h0M646.2 14.6h0M647.2 15.2h0M647.5 15.4h0M648.2 14.9h0M649.2 15.0h0M650.1 16.1h0M650.6 15.2h0M651.8 15.1h0M652.0 15.4h0M653.2 14.2h0M653.4 14.0h0M654.6 14.5h0M655.6 14.4h0M655.8 15.5h0M657.0 14.0h0M657.7 13.3h0M658.4 14.0h0M659.2 14.9h0M659.8 14.5h0M660.4 14.7h0M661.1 13.6h0M661.9 15.5h0M663.1 14.7h0M663.9 15.0h0M664.3 14.0h0M665.0 14.4h0M665.9 13.9h0M667.1 13.9h0M667.9 13.3h0M668.3 13.6h0M668.9 13.5h0M670.2 14.3h0M670.3 12.7h0M671.6 13.5h0M672.1 13.2h0M672.8 14.0h0" stroke="#3c9c2c" stroke-width="2.6" stroke-linecap="round" fill="none"/>
</g>
<rect x="390.8" y="2.5" width="281.2" height="226.4" fill="none" stroke="#000" stroke-width="2"/>
<path d="M386.3 6.1h4.5M386.3 58.4h4.5M386.3 110.7h4.5M386.3 163.0h4.5M386.3 215.3h4.5" stroke="#000" stroke-width="2" fill="none"/>
<text transform="translate(382.5 9.7) scale(1 1.120)" font-size="11.70" font-weight="bold" text-anchor="end" fill="#000">0</text>
<text transform="translate(382.5 62.0) scale(1 1.120)" font-size="11.70" font-weight="bold" text-anchor="end" fill="#000">-10</text>
<text transform="translate(382.5 114.3) scale(1 1.120)" font-size="11.70" font-weight="bold" text-anchor="end" fill="#000">-20</text>
<text transform="translate(382.5 166.6) scale(1 1.120)" font-size="11.70" font-weight="bold" text-anchor="end" fill="#000">-30</text>
<text transform="translate(382.5 218.9) scale(1 1.120)" font-size="11.70" font-weight="bold" text-anchor="end" fill="#000">-40</text>
<path d="M402.3 228.9v4.0M440.8 228.9v4.0M479.3 228.9v4.0M517.8 228.9v4.0M556.3 228.9v4.0M594.8 228.9v4.0M633.3 228.9v4.0M671.8 228.9v4.0" stroke="#000" stroke-width="2" fill="none"/>
<text transform="translate(402.3 246.1) scale(1 1.120)" font-size="11.70" font-weight="bold" text-anchor="middle" fill="#000">0</text>
<text transform="translate(440.8 246.1) scale(1 1.120)" font-size="11.70" font-weight="bold" text-anchor="middle" fill="#000">1</text>
<text transform="translate(479.3 246.1) scale(1 1.120)" font-size="11.70" font-weight="bold" text-anchor="middle" fill="#000">2</text>
<text transform="translate(517.8 246.1) scale(1 1.120)" font-size="11.70" font-weight="bold" text-anchor="middle" fill="#000">3</text>
<text transform="translate(556.3 246.1) scale(1 1.120)" font-size="11.70" font-weight="bold" text-anchor="middle" fill="#000">4</text>
<text transform="translate(594.8 246.1) scale(1 1.120)" font-size="11.70" font-weight="bold" text-anchor="middle" fill="#000">5</text>
<text transform="translate(633.3 246.1) scale(1 1.120)" font-size="11.70" font-weight="bold" text-anchor="middle" fill="#000">6</text>
<text transform="translate(671.8 246.1) scale(1 1.120)" font-size="11.70" font-weight="bold" text-anchor="middle" fill="#000">7</text>
<text x="521.8" y="263.7" font-size="12.60" font-weight="bold" text-anchor="middle" fill="#000" textLength="93.0" lengthAdjust="spacingAndGlyphs">Decay time (ps)</text>
<text transform="translate(360.6 100.1) rotate(-90)" x="0" y="0" font-size="12.40" font-weight="bold" text-anchor="middle" textLength="66.8" lengthAdjust="spacingAndGlyphs"><tspan font-weight="normal">&#916;</tspan>T/T(mOD)</text>
<text x="345.0" y="27.9" font-size="19.00" font-weight="normal" text-anchor="start" fill="#000" textLength="22.2" lengthAdjust="spacingAndGlyphs">(b)</text>
<rect x="216.6" y="30.5" width="111.7" height="90.0" fill="#e2e2e2"/>
<rect x="215.6" y="29.5" width="111.7" height="90.0" fill="#fff" stroke="#c4c4c4" stroke-width="1"/>
<circle cx="232.0" cy="40.0" r="3.3" fill="#000000"/>
<text x="251.2" y="44.6" font-size="12.00" font-weight="bold" text-anchor="start" fill="#000" textLength="37.8" lengthAdjust="spacingAndGlyphs">1.1x10</text>
<text x="289.4" y="39.2" font-size="8.00" font-weight="bold" text-anchor="start" fill="#000" textLength="9.4" lengthAdjust="spacingAndGlyphs">14</text>
<text x="299.3" y="44.6" font-size="12.00" font-weight="bold" text-anchor="start" fill="#000" textLength="17.4" lengthAdjust="spacingAndGlyphs">cm</text>
<text x="317.2" y="39.2" font-size="8.00" font-weight="bold" text-anchor="start" fill="#000" textLength="7.6" lengthAdjust="spacingAndGlyphs">-2</text>
<circle cx="232.0" cy="57.7" r="3.3" fill="#ff1f1f"/>
<text x="251.2" y="62.3" font-size="12.00" font-weight="bold" text-anchor="start" fill="#000" textLength="37.8" lengthAdjust="spacingAndGlyphs">1.3x10</text>
<text x="289.4" y="56.9" font-size="8.00" font-weight="bold" text-anchor="start" fill="#000" textLength="9.4" lengthAdjust="spacingAndGlyphs">14</text>
<text x="299.3" y="62.3" font-size="12.00" font-weight="bold" text-anchor="start" fill="#000" textLength="17.4" lengthAdjust="spacingAndGlyphs">cm</text>
<text x="317.2" y="56.9" font-size="8.00" font-weight="bold" text-anchor="start" fill="#000" textLength="7.6" lengthAdjust="spacingAndGlyphs">-2</text>
<circle cx="232.0" cy="75.4" r="3.3" fill="#1414ff"/>
<text x="251.2" y="80.0" font-size="12.00" font-weight="bold" text-anchor="start" fill="#000" textLength="37.8" lengthAdjust="spacingAndGlyphs">1.5x10</text>
<text x="289.4" y="74.6" font-size="8.00" font-weight="bold" text-anchor="start" fill="#000" textLength="9.4" lengthAdjust="spacingAndGlyphs">14</text>
<text x="299.3" y="80.0" font-size="12.00" font-weight="bold" text-anchor="start" fill="#000" textLength="17.4" lengthAdjust="spacingAndGlyphs">cm</text>
<text x="317.2" y="74.6" font-size="8.00" font-weight="bold" text-anchor="start" fill="#000" textLength="7.6" lengthAdjust="spacingAndGlyphs">-2</text>
<circle cx="232.0" cy="93.1" r="3.3" fill="#7a0f0f"/>
<text x="251.2" y="97.7" font-size="12.00" font-weight="bold" text-anchor="start" fill="#000" textLength="37.8" lengthAdjust="spacingAndGlyphs">1.7x10</text>
<text x="289.4" y="92.3" font-size="8.00" font-weight="bold" text-anchor="start" fill="#000" textLength="9.4" lengthAdjust="spacingAndGlyphs">14</text>
<text x="299.3" y="97.7" font-size="12.00" font-weight="bold" text-anchor="start" fill="#000" textLength="17.4" lengthAdjust="spacingAndGlyphs">cm</text>
<text x="317.2" y="92.3" font-size="8.00" font-weight="bold" text-anchor="start" fill="#000" textLength="7.6" lengthAdjust="spacingAndGlyphs">-2</text>
<circle cx="232.0" cy="110.8" r="3.3" fill="#3c9c2c"/>
<text x="251.2" y="115.4" font-size="12.00" font-weight="bold" text-anchor="start" fill="#000" textLength="37.8" lengthAdjust="spacingAndGlyphs">1.9x10</text>
<text x="289.4" y="110.0" font-size="8.00" font-weight="bold" text-anchor="start" fill="#000" textLength="9.4" lengthAdjust="spacingAndGlyphs">14</text>
<text x="299.3" y="115.4" font-size="12.00" font-weight="bold" text-anchor="start" fill="#000" textLength="17.4" lengthAdjust="spacingAndGlyphs">cm</text>
<text x="317.2" y="110.0" font-size="8.00" font-weight="bold" text-anchor="start" fill="#000" textLength="7.6" lengthAdjust="spacingAndGlyphs">-2</text>
<rect x="559.8" y="29.0" width="111.7" height="89.9" fill="#e2e2e2"/>
<rect x="558.8" y="28.0" width="111.7" height="89.9" fill="#fff" stroke="#c4c4c4" stroke-width="1"/>
<circle cx="575.2" cy="38.2" r="3.3" fill="#000000"/>
<text x="594.0" y="42.8" font-size="12.00" font-weight="bold" text-anchor="start" fill="#000" textLength="37.8" lengthAdjust="spacingAndGlyphs">1.1x10</text>
<text x="632.2" y="37.4" font-size="8.00" font-weight="bold" text-anchor="start" fill="#000" textLength="9.4" lengthAdjust="spacingAndGlyphs">14</text>
<text x="642.1" y="42.8" font-size="12.00" font-weight="bold" text-anchor="start" fill="#000" textLength="17.4" lengthAdjust="spacingAndGlyphs">cm</text>
<text x="660.0" y="37.4" font-size="8.00" font-weight="bold" text-anchor="start" fill="#000" textLength="7.6" lengthAdjust="spacingAndGlyphs">-2</text>
<circle cx="575.2" cy="55.8" r="3.3" fill="#ff1f1f"/>
<text x="594.0" y="60.4" font-size="12.00" font-weight="bold" text-anchor="start" fill="#000" textLength="37.8" lengthAdjust="spacingAndGlyphs">1.3x10</text>
<text x="632.2" y="55.0" font-size="8.00" font-weight="bold" text-anchor="start" fill="#000" textLength="9.4" lengthAdjust="spacingAndGlyphs">14</text>
<text x="642.1" y="60.4" font-size="12.00" font-weight="bold" text-anchor="start" fill="#000" textLength="17.4" lengthAdjust="spacingAndGlyphs">cm</text>
<text x="660.0" y="55.0" font-size="8.00" font-weight="bold" text-anchor="start" fill="#000" textLength="7.6" lengthAdjust="spacingAndGlyphs">-2</text>
<circle cx="575.2" cy="73.6" r="3.3" fill="#1414ff"/>
<text x="594.0" y="78.2" font-size="12.00" font-weight="bold" text-anchor="start" fill="#000" textLength="37.8" lengthAdjust="spacingAndGlyphs">1.5x10</text>
<text x="632.2" y="72.8" font-size="8.00" font-weight="bold" text-anchor="start" fill="#000" textLength="9.4" lengthAdjust="spacingAndGlyphs">14</text>
<text x="642.1" y="78.2" font-size="12.00" font-weight="bold" text-anchor="start" fill="#000" textLength="17.4" lengthAdjust="spacingAndGlyphs">cm</text>
<text x="660.0" y="72.8" font-size="8.00" font-weight="bold" text-anchor="start" fill="#000" textLength="7.6" lengthAdjust="spacingAndGlyphs">-2</text>
<circle cx="575.2" cy="91.2" r="3.3" fill="#7a0f0f"/>
<text x="594.0" y="95.8" font-size="12.00" font-weight="bold" text-anchor="start" fill="#000" textLength="37.8" lengthAdjust="spacingAndGlyphs">1.7x10</text>
<text x="632.2" y="90.4" font-size="8.00" font-weight="bold" text-anchor="start" fill="#000" textLength="9.4" lengthAdjust="spacingAndGlyphs">14</text>
<text x="642.1" y="95.8" font-size="12.00" font-weight="bold" text-anchor="start" fill="#000" textLength="17.4" lengthAdjust="spacingAndGlyphs">cm</text>
<text x="660.0" y="90.4" font-size="8.00" font-weight="bold" text-anchor="start" fill="#000" textLength="7.6" lengthAdjust="spacingAndGlyphs">-2</text>
<circle cx="575.2" cy="109.0" r="3.3" fill="#3c9c2c"/>
<text x="594.0" y="113.6" font-size="12.00" font-weight="bold" text-anchor="start" fill="#000" textLength="37.8" lengthAdjust="spacingAndGlyphs">1.9x10</text>
<text x="632.2" y="108.2" font-size="8.00" font-weight="bold" text-anchor="start" fill="#000" textLength="9.4" lengthAdjust="spacingAndGlyphs">14</text>
<text x="642.1" y="113.6" font-size="12.00" font-weight="bold" text-anchor="start" fill="#000" textLength="17.4" lengthAdjust="spacingAndGlyphs">cm</text>
<text x="660.0" y="108.2" font-size="8.00" font-weight="bold" text-anchor="start" fill="#000" textLength="7.6" lengthAdjust="spacingAndGlyphs">-2</text>
<text x="141.9" y="150.8" font-size="15.20" font-weight="bold" text-anchor="start" fill="#000" textLength="49.7" lengthAdjust="spacingAndGlyphs">V-MoS</text>
<text x="192.2" y="155.1" font-size="10.80" font-weight="bold" text-anchor="start" fill="#000" textLength="5.2" lengthAdjust="spacingAndGlyphs">2</text>
<text x="142.1" y="172.3" font-size="15.20" font-weight="bold" text-anchor="start" fill="#000" textLength="117.1" lengthAdjust="spacingAndGlyphs">Pump &#8211; 1.85 eV</text>
<text x="145.7" y="191.2" font-size="15.20" font-weight="bold" text-anchor="start" fill="#000" textLength="109.0" lengthAdjust="spacingAndGlyphs">Probe -0.31 eV</text>
<text x="478.6" y="151.3" font-size="15.20" font-weight="bold" text-anchor="start" fill="#000" textLength="49.7" lengthAdjust="spacingAndGlyphs">V-MoS</text>
<text x="528.9" y="155.6" font-size="10.80" font-weight="bold" text-anchor="start" fill="#000" textLength="5.2" lengthAdjust="spacingAndGlyphs">2</text>
<text x="479.2" y="173.3" font-size="15.20" font-weight="bold" text-anchor="start" fill="#000" textLength="117.1" lengthAdjust="spacingAndGlyphs">Pump &#8211; 1.85 eV</text>
<text x="479.8" y="194.8" font-size="15.20" font-weight="bold" text-anchor="start" fill="#000" textLength="109.8" lengthAdjust="spacingAndGlyphs">Probe -0.62 eV</text>
<rect x="47.7" y="274.6" width="280.9" height="226.0" fill="none" stroke="#000" stroke-width="2"/>
<path d="M43.2 274.6h4.5M43.2 304.7h4.5M43.2 334.9h4.5M43.2 365.0h4.5M43.2 395.2h4.5M43.2 425.3h4.5M43.2 455.4h4.5M43.2 485.6h4.5" stroke="#000" stroke-width="2" fill="none"/>
<text transform="translate(39.4 278.2) scale(1 1.120)" font-size="11.70" font-weight="bold" text-anchor="end" fill="#000">-26</text>
<text transform="translate(39.4 308.3) scale(1 1.120)" font-size="11.70" font-weight="bold" text-anchor="end" fill="#000">-28</text>
<text transform="translate(39.4 338.5) scale(1 1.120)" font-size="11.70" font-weight="bold" text-anchor="end" fill="#000">-30</text>
<text transform="translate(39.4 368.6) scale(1 1.120)" font-size="11.70" font-weight="bold" text-anchor="end" fill="#000">-32</text>
<text transform="translate(39.4 398.8) scale(1 1.120)" font-size="11.70" font-weight="bold" text-anchor="end" fill="#000">-34</text>
<text transform="translate(39.4 428.9) scale(1 1.120)" font-size="11.70" font-weight="bold" text-anchor="end" fill="#000">-36</text>
<text transform="translate(39.4 459.0) scale(1 1.120)" font-size="11.70" font-weight="bold" text-anchor="end" fill="#000">-38</text>
<text transform="translate(39.4 489.2) scale(1 1.120)" font-size="11.70" font-weight="bold" text-anchor="end" fill="#000">-40</text>
<path d="M47.7 500.6v4.0M103.9 500.6v4.0M160.1 500.6v4.0M216.2 500.6v4.0M272.4 500.6v4.0M328.6 500.6v4.0" stroke="#000" stroke-width="2" fill="none"/>
<text transform="translate(47.7 517.6) scale(1 1.120)" font-size="11.70" font-weight="bold" text-anchor="middle" fill="#000">1.0</text>
<text transform="translate(103.9 517.6) scale(1 1.120)" font-size="11.70" font-weight="bold" text-anchor="middle" fill="#000">1.2</text>
<text transform="translate(160.1 517.6) scale(1 1.120)" font-size="11.70" font-weight="bold" text-anchor="middle" fill="#000">1.4</text>
<text transform="translate(216.2 517.6) scale(1 1.120)" font-size="11.70" font-weight="bold" text-anchor="middle" fill="#000">1.6</text>
<text transform="translate(272.4 517.6) scale(1 1.120)" font-size="11.70" font-weight="bold" text-anchor="middle" fill="#000">1.8</text>
<text transform="translate(328.6 517.6) scale(1 1.120)" font-size="11.70" font-weight="bold" text-anchor="middle" fill="#000">2.0</text>
<path d="M75.8 291.2L300.5 475.8" stroke="#000" stroke-width="2"/>
<path d="M75.8 324.3L295.7 500.7" stroke="#ff1f1f" stroke-width="2"/>
<rect x="71.9" y="286.4" width="7.8" height="7.8" fill="#000"/>
<rect x="128.1" y="331.0" width="7.8" height="7.8" fill="#000"/>
<rect x="184.2" y="380.0" width="7.8" height="7.8" fill="#000"/>
<rect x="240.4" y="439.9" width="7.8" height="7.8" fill="#000"/>
<rect x="296.6" y="460.9" width="7.8" height="7.8" fill="#000"/>
<circle cx="75.8" cy="318.3" r="4.5" fill="#ff1f1f"/>
<circle cx="132.0" cy="362.0" r="4.5" fill="#ff1f1f"/>
<circle cx="188.1" cy="432.8" r="4.5" fill="#ff1f1f"/>
<circle cx="244.3" cy="473.5" r="4.5" fill="#ff1f1f"/>
<circle cx="300.5" cy="487.1" r="4.5" fill="#ff1f1f"/>
<rect x="204.1" y="302.4" width="67.1" height="28.7" fill="#e2e2e2"/>
<rect x="203.1" y="301.4" width="67.1" height="28.7" fill="#fff" stroke="#c4c4c4" stroke-width="1"/>
<rect x="213" y="305.3" width="7.9" height="7.9" fill="#000"/>
<circle cx="216.9" cy="322.2" r="4.6" fill="#ff1f1f"/>
<text x="232.3" y="312.4" font-size="10.40" font-weight="bold" text-anchor="start" fill="#000" textLength="36.1" lengthAdjust="spacingAndGlyphs">0.31 eV</text>
<text x="232.3" y="325.6" font-size="10.40" font-weight="bold" text-anchor="start" fill="#000" textLength="36.1" lengthAdjust="spacingAndGlyphs">0.62 eV</text>
<text x="-0.3" y="295.6" font-size="19.00" font-weight="normal" text-anchor="start" fill="#000" textLength="20.0" lengthAdjust="spacingAndGlyphs">(c)</text>
<text x="92.6" y="534.1" font-size="12.4" font-weight="bold" textLength="161.8" lengthAdjust="spacingAndGlyphs">Carrier Density (10<tspan font-size="8" dy="-5">14</tspan><tspan dy="5">)(cm</tspan><tspan font-size="8" dy="-5">-2</tspan><tspan dy="5">)</tspan></text>
<text transform="translate(15.8 387.6) rotate(-90)" x="0" y="0" font-size="12.40" font-weight="bold" text-anchor="middle" textLength="66.0" lengthAdjust="spacingAndGlyphs"><tspan font-weight="normal">&#916;</tspan>T/T(mOD)</text>
<rect x="394.6" y="274.5" width="280.8" height="226.1" fill="none" stroke="#000" stroke-width="2"/>
<path d="M390.1 500.6h4.5M390.1 468.3h4.5M390.1 436.0h4.5M390.1 403.7h4.5M390.1 371.4h4.5M390.1 339.1h4.5M390.1 306.8h4.5M390.1 274.5h4.5" stroke="#000" stroke-width="2" fill="none"/>
<text transform="translate(386.3 504.2) scale(1 1.120)" font-size="11.70" font-weight="bold" text-anchor="end" fill="#000">0.5</text>
<text transform="translate(386.3 471.9) scale(1 1.120)" font-size="11.70" font-weight="bold" text-anchor="end" fill="#000">1.0</text>
<text transform="translate(386.3 439.6) scale(1 1.120)" font-size="11.70" font-weight="bold" text-anchor="end" fill="#000">1.5</text>
<text transform="translate(386.3 407.3) scale(1 1.120)" font-size="11.70" font-weight="bold" text-anchor="end" fill="#000">2.0</text>
<text transform="translate(386.3 375.0) scale(1 1.120)" font-size="11.70" font-weight="bold" text-anchor="end" fill="#000">2.5</text>
<text transform="translate(386.3 342.7) scale(1 1.120)" font-size="11.70" font-weight="bold" text-anchor="end" fill="#000">3.0</text>
<text transform="translate(386.3 310.4) scale(1 1.120)" font-size="11.70" font-weight="bold" text-anchor="end" fill="#000">3.5</text>
<text transform="translate(386.3 278.1) scale(1 1.120)" font-size="11.70" font-weight="bold" text-anchor="end" fill="#000">4.0</text>
<path d="M394.6 500.6v4.0M450.8 500.6v4.0M506.9 500.6v4.0M563.1 500.6v4.0M619.2 500.6v4.0M675.4 500.6v4.0" stroke="#000" stroke-width="2" fill="none"/>
<text transform="translate(394.6 517.6) scale(1 1.120)" font-size="11.70" font-weight="bold" text-anchor="middle" fill="#000">1.0</text>
<text transform="translate(450.8 517.6) scale(1 1.120)" font-size="11.70" font-weight="bold" text-anchor="middle" fill="#000">1.2</text>
<text transform="translate(506.9 517.6) scale(1 1.120)" font-size="11.70" font-weight="bold" text-anchor="middle" fill="#000">1.4</text>
<text transform="translate(563.1 517.6) scale(1 1.120)" font-size="11.70" font-weight="bold" text-anchor="middle" fill="#000">1.6</text>
<text transform="translate(619.2 517.6) scale(1 1.120)" font-size="11.70" font-weight="bold" text-anchor="middle" fill="#000">1.8</text>
<text transform="translate(675.4 517.6) scale(1 1.120)" font-size="11.70" font-weight="bold" text-anchor="middle" fill="#000">2.0</text>
<path d="M419.7 487.4h6.0M419.7 493.8h6.0M422.7 487.4V493.8" stroke="#1a10d0" stroke-width="2" fill="none"/>
<rect x="418.7" y="486.6" width="8" height="8" fill="#1a10d0"/>
<path d="M475.8 485.4h6.0M475.8 491.9h6.0M478.8 485.4V491.9" stroke="#1a10d0" stroke-width="2" fill="none"/>
<rect x="474.8" y="484.6" width="8" height="8" fill="#1a10d0"/>
<path d="M532.0 486.7h6.0M532.0 493.2h6.0M535.0 486.7V493.2" stroke="#1a10d0" stroke-width="2" fill="none"/>
<rect x="531.0" y="485.9" width="8" height="8" fill="#1a10d0"/>
<path d="M588.2 485.4h6.0M588.2 491.9h6.0M591.2 485.4V491.9" stroke="#1a10d0" stroke-width="2" fill="none"/>
<rect x="587.2" y="484.6" width="8" height="8" fill="#1a10d0"/>
<path d="M644.3 486.1h6.0M644.3 492.5h6.0M647.3 486.1V492.5" stroke="#1a10d0" stroke-width="2" fill="none"/>
<rect x="643.3" y="485.3" width="8" height="8" fill="#1a10d0"/>
<path d="M417.2 488.2h11l-5.5 9.6z" fill="#ff1f1f"/>
<path d="M473.3 487.6h11l-5.5 9.6z" fill="#ff1f1f"/>
<path d="M529.5 486.9h11l-5.5 9.6z" fill="#ff1f1f"/>
<path d="M585.7 487.6h11l-5.5 9.6z" fill="#ff1f1f"/>
<path d="M641.8 486.9h11l-5.5 9.6z" fill="#ff1f1f"/>
<path d="M418.7 316.5h8.0M418.7 342.3h8.0M422.7 316.5V342.3" stroke="#000" stroke-width="2" fill="none"/>
<circle cx="422.7" cy="329.4" r="4.6" fill="#000"/>
<path d="M474.8 282.9h8.0M474.8 321.7h8.0M478.8 282.9V321.7" stroke="#000" stroke-width="2" fill="none"/>
<circle cx="478.8" cy="302.3" r="4.6" fill="#000"/>
<path d="M531.0 315.2h8.0M531.0 341.0h8.0M535.0 315.2V341.0" stroke="#000" stroke-width="2" fill="none"/>
<circle cx="535.0" cy="328.1" r="4.6" fill="#000"/>
<path d="M587.2 301.0h8.0M587.2 326.8h8.0M591.2 301.0V326.8" stroke="#000" stroke-width="2" fill="none"/>
<circle cx="591.2" cy="313.9" r="4.6" fill="#000"/>
<path d="M643.3 295.8h8.0M643.3 326.8h8.0M647.3 295.8V326.8" stroke="#000" stroke-width="2" fill="none"/>
<circle cx="647.3" cy="311.3" r="4.6" fill="#000"/>
<path d="M418.7 356.5h8.0M418.7 370.8h8.0M422.7 356.5V370.8" stroke="#3aa63a" stroke-width="2" fill="none"/>
<path d="M417.2 367.5h11l-5.5 -9.6z" fill="#3aa63a"/>
<path d="M474.8 344.3h8.0M474.8 358.5h8.0M478.8 344.3V358.5" stroke="#3aa63a" stroke-width="2" fill="none"/>
<path d="M473.3 355.2h11l-5.5 -9.6z" fill="#3aa63a"/>
<path d="M531.0 337.8h8.0M531.0 353.3h8.0M535.0 337.8V353.3" stroke="#3aa63a" stroke-width="2" fill="none"/>
<path d="M529.5 349.4h11l-5.5 -9.6z" fill="#3aa63a"/>
<path d="M587.2 348.1h8.0M587.2 359.8h8.0M591.2 348.1V359.8" stroke="#3aa63a" stroke-width="2" fill="none"/>
<path d="M585.7 358.5h11l-5.5 -9.6z" fill="#3aa63a"/>
<path d="M643.3 333.9h8.0M643.3 348.1h8.0M647.3 333.9V348.1" stroke="#3aa63a" stroke-width="2" fill="none"/>
<path d="M641.8 344.9h11l-5.5 -9.6z" fill="#3aa63a"/>
<rect x="573.0" y="382.5" width="82.0" height="67.9" fill="#e2e2e2"/>
<rect x="572.0" y="381.5" width="82.0" height="67.9" fill="#fff" stroke="#c4c4c4" stroke-width="1"/>
<rect x="581.6" y="385.7" width="8.4" height="8.4" fill="#1a10d0"/>
<circle cx="585.8" cy="406.8" r="4.7" fill="#000"/>
<path d="M580.1 419.2h11.4l-5.7 9.2z" fill="#ff1f1f"/>
<path d="M580.1 444.3h11.4l-5.7 -9.2z" fill="#3aa63a"/>
<text x="601.0" y="393.7" font-size="11.00" font-weight="normal" text-anchor="start" fill="#000" textLength="5.6" lengthAdjust="spacingAndGlyphs">&#964;</text>
<text x="606.6" y="396.3" font-size="7.50" font-weight="normal" text-anchor="start" fill="#000" textLength="4.0" lengthAdjust="spacingAndGlyphs">1</text>
<text x="610.8" y="393.7" font-size="10.40" font-weight="bold" text-anchor="start" fill="#000" textLength="41.9" lengthAdjust="spacingAndGlyphs">- 0.31 eV</text>
<text x="601.0" y="410.6" font-size="11.00" font-weight="normal" text-anchor="start" fill="#000" textLength="5.6" lengthAdjust="spacingAndGlyphs">&#964;</text>
<text x="606.6" y="413.2" font-size="7.50" font-weight="normal" text-anchor="start" fill="#000" textLength="4.0" lengthAdjust="spacingAndGlyphs">2</text>
<text x="610.8" y="410.6" font-size="10.40" font-weight="bold" text-anchor="start" fill="#000" textLength="41.9" lengthAdjust="spacingAndGlyphs">- 0.31 eV</text>
<text x="601.0" y="427.4" font-size="11.00" font-weight="normal" text-anchor="start" fill="#000" textLength="5.6" lengthAdjust="spacingAndGlyphs">&#964;</text>
<text x="606.6" y="430.0" font-size="7.50" font-weight="normal" text-anchor="start" fill="#000" textLength="4.0" lengthAdjust="spacingAndGlyphs">1</text>
<text x="610.8" y="427.4" font-size="10.40" font-weight="bold" text-anchor="start" fill="#000" textLength="41.9" lengthAdjust="spacingAndGlyphs">- 0.62 eV</text>
<text x="601.0" y="443.5" font-size="11.00" font-weight="normal" text-anchor="start" fill="#000" textLength="5.6" lengthAdjust="spacingAndGlyphs">&#964;</text>
<text x="606.6" y="446.1" font-size="7.50" font-weight="normal" text-anchor="start" fill="#000" textLength="4.0" lengthAdjust="spacingAndGlyphs">2</text>
<text x="610.8" y="443.5" font-size="10.40" font-weight="bold" text-anchor="start" fill="#000" textLength="41.9" lengthAdjust="spacingAndGlyphs">- 0.62 eV</text>
<text x="345.2" y="296.1" font-size="19.00" font-weight="normal" text-anchor="start" fill="#000" textLength="22.7" lengthAdjust="spacingAndGlyphs">(d)</text>
<text x="454.6" y="533.3" font-size="12.4" font-weight="bold" textLength="160.7" lengthAdjust="spacingAndGlyphs">Carrier Density (10<tspan font-size="8" dy="-5">14</tspan><tspan dy="5">)(cm</tspan><tspan font-size="8" dy="-5">-2</tspan><tspan dy="5">)</tspan></text>
<text transform="translate(363.8 386.9) rotate(-90)" x="0" y="0" font-size="12.60" font-weight="bold" text-anchor="middle" textLength="94.3" lengthAdjust="spacingAndGlyphs">Decay time (ps)</text>
<rect x="59.0" y="549.5" width="281.5" height="226.3" fill="none" stroke="#000" stroke-width="2"/>
<path d="M54.5 775.8h4.5M54.5 747.5h4.5M54.5 719.2h4.5M54.5 691.0h4.5M54.5 662.7h4.5M54.5 634.4h4.5M54.5 606.1h4.5M54.5 577.8h4.5M54.5 549.5h4.5" stroke="#000" stroke-width="2" fill="none"/>
<text transform="translate(50.7 779.4) scale(1 1.120)" font-size="11.70" font-weight="bold" text-anchor="end" fill="#000">10</text>
<text transform="translate(50.7 751.1) scale(1 1.120)" font-size="11.70" font-weight="bold" text-anchor="end" fill="#000">20</text>
<text transform="translate(50.7 722.8) scale(1 1.120)" font-size="11.70" font-weight="bold" text-anchor="end" fill="#000">30</text>
<text transform="translate(50.7 694.6) scale(1 1.120)" font-size="11.70" font-weight="bold" text-anchor="end" fill="#000">40</text>
<text transform="translate(50.7 666.3) scale(1 1.120)" font-size="11.70" font-weight="bold" text-anchor="end" fill="#000">50</text>
<text transform="translate(50.7 638.0) scale(1 1.120)" font-size="11.70" font-weight="bold" text-anchor="end" fill="#000">60</text>
<text transform="translate(50.7 609.7) scale(1 1.120)" font-size="11.70" font-weight="bold" text-anchor="end" fill="#000">70</text>
<text transform="translate(50.7 581.4) scale(1 1.120)" font-size="11.70" font-weight="bold" text-anchor="end" fill="#000">80</text>
<text transform="translate(50.7 553.1) scale(1 1.120)" font-size="11.70" font-weight="bold" text-anchor="end" fill="#000">90</text>
<path d="M59.0 775.8v4.0M115.3 775.8v4.0M171.6 775.8v4.0M227.9 775.8v4.0M284.2 775.8v4.0M340.5 775.8v4.0" stroke="#000" stroke-width="2" fill="none"/>
<text transform="translate(59.0 792.9) scale(1 1.120)" font-size="11.70" font-weight="bold" text-anchor="middle" fill="#000">1.0</text>
<text transform="translate(115.3 792.9) scale(1 1.120)" font-size="11.70" font-weight="bold" text-anchor="middle" fill="#000">1.2</text>
<text transform="translate(171.6 792.9) scale(1 1.120)" font-size="11.70" font-weight="bold" text-anchor="middle" fill="#000">1.4</text>
<text transform="translate(227.9 792.9) scale(1 1.120)" font-size="11.70" font-weight="bold" text-anchor="middle" fill="#000">1.6</text>
<text transform="translate(284.2 792.9) scale(1 1.120)" font-size="11.70" font-weight="bold" text-anchor="middle" fill="#000">1.8</text>
<text transform="translate(340.5 792.9) scale(1 1.120)" font-size="11.70" font-weight="bold" text-anchor="middle" fill="#000">2.0</text>
<rect x="83.2" y="574.9" width="8" height="8" fill="#1a10d0"/>
<rect x="139.5" y="561.3" width="8" height="8" fill="#1a10d0"/>
<rect x="195.8" y="566.4" width="8" height="8" fill="#1a10d0"/>
<rect x="252.0" y="561.3" width="8" height="8" fill="#1a10d0"/>
<rect x="308.3" y="560.8" width="8" height="8" fill="#1a10d0"/>
<path d="M81.7 572.6h11l-5.5 9.6z" fill="#ff1f1f"/>
<path d="M138.0 566.1h11l-5.5 9.6z" fill="#ff1f1f"/>
<path d="M194.2 563.6h11l-5.5 9.6z" fill="#ff1f1f"/>
<path d="M250.5 566.1h11l-5.5 9.6z" fill="#ff1f1f"/>
<path d="M306.8 559.3h11l-5.5 9.6z" fill="#ff1f1f"/>
<circle cx="87.2" cy="746.7" r="4.6" fill="#000"/>
<circle cx="143.5" cy="760.3" r="4.6" fill="#000"/>
<circle cx="199.8" cy="755.2" r="4.6" fill="#000"/>
<circle cx="256.0" cy="759.7" r="4.6" fill="#000"/>
<circle cx="312.3" cy="760.3" r="4.6" fill="#000"/>
<path d="M81.7 752.0h11l-5.5 -9.6z" fill="#2e8b2e"/>
<path d="M138.0 759.7h11l-5.5 -9.6z" fill="#2e8b2e"/>
<path d="M194.2 761.1h11l-5.5 -9.6z" fill="#2e8b2e"/>
<path d="M250.5 759.7h11l-5.5 -9.6z" fill="#2e8b2e"/>
<path d="M306.8 764.8h11l-5.5 -9.6z" fill="#2e8b2e"/>
<rect x="224.7" y="643.3" width="87.1" height="68.4" fill="#e2e2e2"/>
<rect x="223.7" y="642.3" width="87.1" height="68.4" fill="#fff" stroke="#c4c4c4" stroke-width="1"/>
<rect x="233.8" y="646.5" width="8.4" height="8.4" fill="#1a10d0"/>
<circle cx="238" cy="667.6" r="4.7" fill="#000"/>
<path d="M232.3 680.1h11.4l-5.7 9.2z" fill="#ff1f1f"/>
<path d="M232.3 704.8h11.4l-5.7 -9.2z" fill="#2e8b2e"/>
<text x="254.5" y="654.5" font-size="10.40" font-weight="bold" text-anchor="start" fill="#000" textLength="7.4" lengthAdjust="spacingAndGlyphs">A</text>
<text x="261.9" y="657.1" font-size="7.50" font-weight="bold" text-anchor="start" fill="#000" textLength="4.0" lengthAdjust="spacingAndGlyphs">1</text>
<text x="266.2" y="654.5" font-size="10.40" font-weight="bold" text-anchor="start" fill="#000" textLength="42.3" lengthAdjust="spacingAndGlyphs">-0.31 eV</text>
<text x="254.5" y="671.4" font-size="10.40" font-weight="bold" text-anchor="start" fill="#000" textLength="7.4" lengthAdjust="spacingAndGlyphs">A</text>
<text x="261.9" y="674.0" font-size="7.50" font-weight="bold" text-anchor="start" fill="#000" textLength="4.0" lengthAdjust="spacingAndGlyphs">2</text>
<text x="266.2" y="671.4" font-size="10.40" font-weight="bold" text-anchor="start" fill="#000" textLength="42.3" lengthAdjust="spacingAndGlyphs">-0.31 eV</text>
<text x="254.5" y="688.3" font-size="10.40" font-weight="bold" text-anchor="start" fill="#000" textLength="7.4" lengthAdjust="spacingAndGlyphs">A</text>
<text x="261.9" y="690.9" font-size="7.50" font-weight="bold" text-anchor="start" fill="#000" textLength="4.0" lengthAdjust="spacingAndGlyphs">1</text>
<text x="266.2" y="688.3" font-size="10.40" font-weight="bold" text-anchor="start" fill="#000" textLength="42.3" lengthAdjust="spacingAndGlyphs">-0.62 eV</text>
<text x="254.5" y="704.0" font-size="10.40" font-weight="bold" text-anchor="start" fill="#000" textLength="7.4" lengthAdjust="spacingAndGlyphs">A</text>
<text x="261.9" y="706.6" font-size="7.50" font-weight="bold" text-anchor="start" fill="#000" textLength="4.0" lengthAdjust="spacingAndGlyphs">2</text>
<text x="266.2" y="704.0" font-size="10.40" font-weight="bold" text-anchor="start" fill="#000" textLength="42.3" lengthAdjust="spacingAndGlyphs">-0.62 eV</text>
<text x="-0.3" y="572.5" font-size="19.00" font-weight="normal" text-anchor="start" fill="#000" textLength="22.4" lengthAdjust="spacingAndGlyphs">(e)</text>
<text x="110.6" y="810.5" font-size="12.4" font-weight="bold" textLength="161.9" lengthAdjust="spacingAndGlyphs">Carrier Density (10<tspan font-size="8" dy="-5">14</tspan><tspan dy="5">)(cm</tspan><tspan font-size="8" dy="-5">-2</tspan><tspan dy="5">)</tspan></text>
<text transform="translate(26.5 658.0) rotate(-90)" x="0" y="0" font-size="12.80" font-weight="bold" text-anchor="middle" textLength="85.6" lengthAdjust="spacingAndGlyphs">Amplitude (%)</text>
<g clip-path="url(#cf)">
<path d="M442.5 634V775" stroke="#888" stroke-width="0.8" stroke-dasharray="1.5 1.5"/>
<path d="M466.4 634V775" stroke="#6a6aff" stroke-width="0.8" stroke-dasharray="1.5 1.5"/>
<path d="M394.9 555.9l3.2 5.6h-6.4zM395.3 555.1l3.2 5.6h-6.4zM395.6 555.9l3.2 5.6h-6.4zM396.0 556.0l3.2 5.6h-6.4zM396.3 556.6l3.2 5.6h-6.4zM396.7 555.9l3.2 5.6h-6.4zM397.0 554.5l3.2 5.6h-6.4zM397.4 555.2l3.2 5.6h-6.4zM397.7 554.6l3.2 5.6h-6.4zM398.1 555.4l3.2 5.6h-6.4zM398.4 555.2l3.2 5.6h-6.4zM398.8 555.5l3.2 5.6h-6.4zM399.1 557.4l3.2 5.6h-6.4zM399.5 554.8l3.2 5.6h-6.4zM399.8 555.1l3.2 5.6h-6.4zM400.2 555.1l3.2 5.6h-6.4zM400.5 557.4l3.2 5.6h-6.4zM400.9 557.5l3.2 5.6h-6.4zM401.2 556.6l3.2 5.6h-6.4zM401.6 556.2l3.2 5.6h-6.4zM401.9 555.4l3.2 5.6h-6.4zM402.3 555.7l3.2 5.6h-6.4zM402.6 555.1l3.2 5.6h-6.4zM403.0 556.4l3.2 5.6h-6.4zM403.3 555.4l3.2 5.6h-6.4zM403.7 555.3l3.2 5.6h-6.4zM404.0 556.4l3.2 5.6h-6.4zM404.4 553.9l3.2 5.6h-6.4zM404.7 555.1l3.2 5.6h-6.4zM405.1 554.5l3.2 5.6h-6.4zM405.4 556.4l3.2 5.6h-6.4zM405.8 556.5l3.2 5.6h-6.4zM406.1 556.1l3.2 5.6h-6.4zM406.5 555.8l3.2 5.6h-6.4zM406.8 555.1l3.2 5.6h-6.4zM407.2 555.5l3.2 5.6h-6.4zM407.5 556.2l3.2 5.6h-6.4zM407.9 556.7l3.2 5.6h-6.4zM408.2 556.3l3.2 5.6h-6.4zM408.6 554.5l3.2 5.6h-6.4zM408.9 556.6l3.2 5.6h-6.4zM409.3 555.5l3.2 5.6h-6.4zM409.6 555.3l3.2 5.6h-6.4zM410.0 557.3l3.2 5.6h-6.4zM410.3 555.7l3.2 5.6h-6.4zM410.7 554.4l3.2 5.6h-6.4zM411.0 557.9l3.2 5.6h-6.4zM411.4 556.1l3.2 5.6h-6.4zM411.7 555.9l3.2 5.6h-6.4zM412.1 556.7l3.2 5.6h-6.4zM412.4 555.3l3.2 5.6h-6.4zM412.8 555.9l3.2 5.6h-6.4zM413.1 557.3l3.2 5.6h-6.4zM413.5 555.0l3.2 5.6h-6.4zM413.8 555.1l3.2 5.6h-6.4zM414.2 554.9l3.2 5.6h-6.4zM414.6 554.4l3.2 5.6h-6.4zM414.9 555.5l3.2 5.6h-6.4zM415.3 555.8l3.2 5.6h-6.4zM415.6 557.3l3.2 5.6h-6.4zM416.0 555.4l3.2 5.6h-6.4zM416.3 556.8l3.2 5.6h-6.4zM416.7 556.7l3.2 5.6h-6.4zM417.0 557.7l3.2 5.6h-6.4zM417.4 557.5l3.2 5.6h-6.4zM417.7 557.2l3.2 5.6h-6.4zM418.1 555.4l3.2 5.6h-6.4zM418.4 559.0l3.2 5.6h-6.4zM418.8 558.6l3.2 5.6h-6.4zM419.1 557.0l3.2 5.6h-6.4zM419.5 555.9l3.2 5.6h-6.4zM419.8 557.0l3.2 5.6h-6.4zM420.2 559.9l3.2 5.6h-6.4zM420.5 560.9l3.2 5.6h-6.4zM420.9 558.3l3.2 5.6h-6.4zM421.2 559.9l3.2 5.6h-6.4zM421.6 560.9l3.2 5.6h-6.4zM421.9 559.3l3.2 5.6h-6.4zM422.3 559.9l3.2 5.6h-6.4zM422.6 561.6l3.2 5.6h-6.4zM423.0 562.3l3.2 5.6h-6.4zM423.3 563.0l3.2 5.6h-6.4zM423.7 562.7l3.2 5.6h-6.4zM424.0 564.6l3.2 5.6h-6.4zM424.4 565.7l3.2 5.6h-6.4zM424.7 566.7l3.2 5.6h-6.4zM425.1 569.9l3.2 5.6h-6.4zM425.4 568.0l3.2 5.6h-6.4zM425.8 569.4l3.2 5.6h-6.4zM426.1 570.9l3.2 5.6h-6.4zM426.5 574.7l3.2 5.6h-6.4zM426.8 574.4l3.2 5.6h-6.4zM427.2 573.9l3.2 5.6h-6.4zM427.5 577.8l3.2 5.6h-6.4zM427.9 577.2l3.2 5.6h-6.4zM428.2 577.2l3.2 5.6h-6.4zM428.6 581.0l3.2 5.6h-6.4zM428.9 579.3l3.2 5.6h-6.4zM429.3 581.9l3.2 5.6h-6.4zM429.6 584.2l3.2 5.6h-6.4zM430.0 585.3l3.2 5.6h-6.4zM430.3 586.7l3.2 5.6h-6.4zM430.7 588.9l3.2 5.6h-6.4zM431.0 589.6l3.2 5.6h-6.4zM431.4 593.2l3.2 5.6h-6.4zM431.7 594.7l3.2 5.6h-6.4zM432.1 594.9l3.2 5.6h-6.4zM432.4 597.6l3.2 5.6h-6.4zM432.8 600.2l3.2 5.6h-6.4zM433.1 599.9l3.2 5.6h-6.4zM433.5 600.9l3.2 5.6h-6.4zM433.8 604.5l3.2 5.6h-6.4zM434.2 607.0l3.2 5.6h-6.4zM434.5 607.2l3.2 5.6h-6.4zM434.9 608.7l3.2 5.6h-6.4zM435.2 610.4l3.2 5.6h-6.4zM435.6 610.1l3.2 5.6h-6.4zM435.9 614.2l3.2 5.6h-6.4zM436.3 613.4l3.2 5.6h-6.4zM436.6 617.6l3.2 5.6h-6.4zM437.0 618.6l3.2 5.6h-6.4zM437.3 618.8l3.2 5.6h-6.4zM437.7 619.9l3.2 5.6h-6.4zM438.0 621.8l3.2 5.6h-6.4zM438.4 624.0l3.2 5.6h-6.4zM438.7 626.0l3.2 5.6h-6.4zM439.1 627.8l3.2 5.6h-6.4zM439.4 629.2l3.2 5.6h-6.4zM439.8 631.9l3.2 5.6h-6.4zM440.1 633.4l3.2 5.6h-6.4zM440.5 635.0l3.2 5.6h-6.4zM440.8 637.6l3.2 5.6h-6.4zM441.2 638.9l3.2 5.6h-6.4zM441.5 641.1l3.2 5.6h-6.4zM441.9 641.6l3.2 5.6h-6.4zM442.2 645.4l3.2 5.6h-6.4zM442.6 648.2l3.2 5.6h-6.4zM442.9 650.1l3.2 5.6h-6.4zM443.3 651.6l3.2 5.6h-6.4zM443.6 652.5l3.2 5.6h-6.4zM444.0 655.7l3.2 5.6h-6.4zM444.3 656.7l3.2 5.6h-6.4zM444.7 657.0l3.2 5.6h-6.4zM445.0 663.3l3.2 5.6h-6.4zM445.4 663.6l3.2 5.6h-6.4zM445.7 663.9l3.2 5.6h-6.4zM446.1 665.4l3.2 5.6h-6.4zM446.4 667.3l3.2 5.6h-6.4zM446.8 669.7l3.2 5.6h-6.4zM447.1 670.2l3.2 5.6h-6.4zM447.5 672.3l3.2 5.6h-6.4zM447.8 674.8l3.2 5.6h-6.4zM448.2 673.4l3.2 5.6h-6.4zM448.5 677.3l3.2 5.6h-6.4zM448.9 680.0l3.2 5.6h-6.4zM449.2 681.2l3.2 5.6h-6.4zM449.6 683.1l3.2 5.6h-6.4zM449.9 684.7l3.2 5.6h-6.4zM450.3 689.2l3.2 5.6h-6.4zM450.6 688.7l3.2 5.6h-6.4zM451.0 688.9l3.2 5.6h-6.4zM451.3 692.9l3.2 5.6h-6.4zM451.7 693.6l3.2 5.6h-6.4zM452.0 694.3l3.2 5.6h-6.4zM452.4 696.2l3.2 5.6h-6.4zM452.7 697.3l3.2 5.6h-6.4zM453.1 702.4l3.2 5.6h-6.4zM453.4 702.8l3.2 5.6h-6.4zM453.8 704.6l3.2 5.6h-6.4zM454.1 705.4l3.2 5.6h-6.4zM454.5 706.6l3.2 5.6h-6.4zM454.8 712.3l3.2 5.6h-6.4zM455.2 710.1l3.2 5.6h-6.4zM455.5 714.5l3.2 5.6h-6.4zM455.9 714.1l3.2 5.6h-6.4zM456.2 718.1l3.2 5.6h-6.4zM456.6 718.0l3.2 5.6h-6.4zM456.9 718.7l3.2 5.6h-6.4zM457.3 721.8l3.2 5.6h-6.4zM457.6 723.2l3.2 5.6h-6.4zM458.0 724.3l3.2 5.6h-6.4zM458.4 726.7l3.2 5.6h-6.4zM458.7 728.7l3.2 5.6h-6.4zM459.1 728.7l3.2 5.6h-6.4zM459.4 731.0l3.2 5.6h-6.4zM459.8 734.1l3.2 5.6h-6.4zM460.1 732.7l3.2 5.6h-6.4zM460.5 738.5l3.2 5.6h-6.4zM460.8 738.2l3.2 5.6h-6.4zM461.2 741.4l3.2 5.6h-6.4zM461.5 743.0l3.2 5.6h-6.4zM461.9 744.4l3.2 5.6h-6.4zM462.2 746.9l3.2 5.6h-6.4zM462.6 748.4l3.2 5.6h-6.4zM462.9 752.5l3.2 5.6h-6.4zM463.3 754.3l3.2 5.6h-6.4zM463.6 753.7l3.2 5.6h-6.4zM464.0 756.9l3.2 5.6h-6.4zM464.3 758.3l3.2 5.6h-6.4zM464.7 759.9l3.2 5.6h-6.4zM465.0 758.2l3.2 5.6h-6.4zM465.4 759.9l3.2 5.6h-6.4zM465.7 760.1l3.2 5.6h-6.4zM466.1 763.5l3.2 5.6h-6.4zM466.4 763.1l3.2 5.6h-6.4zM466.8 764.5l3.2 5.6h-6.4zM467.1 762.3l3.2 5.6h-6.4zM467.5 760.8l3.2 5.6h-6.4zM467.8 762.5l3.2 5.6h-6.4zM468.2 758.8l3.2 5.6h-6.4zM468.5 758.2l3.2 5.6h-6.4zM468.9 758.2l3.2 5.6h-6.4zM469.2 759.0l3.2 5.6h-6.4zM469.6 754.5l3.2 5.6h-6.4zM469.9 755.2l3.2 5.6h-6.4zM470.3 754.8l3.2 5.6h-6.4zM470.6 752.9l3.2 5.6h-6.4zM471.0 752.0l3.2 5.6h-6.4zM471.3 750.0l3.2 5.6h-6.4zM471.7 751.8l3.2 5.6h-6.4zM472.0 748.6l3.2 5.6h-6.4zM472.4 747.4l3.2 5.6h-6.4zM472.7 746.6l3.2 5.6h-6.4zM473.1 747.4l3.2 5.6h-6.4zM473.4 747.2l3.2 5.6h-6.4zM473.8 744.5l3.2 5.6h-6.4zM474.1 744.6l3.2 5.6h-6.4zM474.5 743.7l3.2 5.6h-6.4zM474.8 741.5l3.2 5.6h-6.4zM475.2 742.5l3.2 5.6h-6.4zM475.5 743.8l3.2 5.6h-6.4zM476.4 739.6l3.2 5.6h-6.4zM477.4 739.0l3.2 5.6h-6.4zM478.3 734.2l3.2 5.6h-6.4zM479.2 732.6l3.2 5.6h-6.4zM480.1 731.5l3.2 5.6h-6.4zM481.0 728.9l3.2 5.6h-6.4zM482.0 726.0l3.2 5.6h-6.4zM482.9 724.8l3.2 5.6h-6.4zM483.8 721.6l3.2 5.6h-6.4zM484.7 721.1l3.2 5.6h-6.4zM485.6 718.1l3.2 5.6h-6.4zM486.6 715.7l3.2 5.6h-6.4zM487.5 713.8l3.2 5.6h-6.4zM488.4 714.3l3.2 5.6h-6.4zM489.3 710.9l3.2 5.6h-6.4zM490.2 712.0l3.2 5.6h-6.4zM491.2 709.4l3.2 5.6h-6.4zM492.1 708.6l3.2 5.6h-6.4zM493.0 703.8l3.2 5.6h-6.4zM493.9 704.5l3.2 5.6h-6.4zM494.8 701.5l3.2 5.6h-6.4zM495.8 700.1l3.2 5.6h-6.4zM496.7 698.3l3.2 5.6h-6.4zM497.6 697.3l3.2 5.6h-6.4zM498.5 694.8l3.2 5.6h-6.4zM499.4 691.6l3.2 5.6h-6.4zM500.4 691.9l3.2 5.6h-6.4zM501.3 689.9l3.2 5.6h-6.4zM502.2 687.9l3.2 5.6h-6.4zM503.1 687.7l3.2 5.6h-6.4zM504.0 687.3l3.2 5.6h-6.4zM505.0 685.1l3.2 5.6h-6.4zM505.9 682.0l3.2 5.6h-6.4zM506.8 683.4l3.2 5.6h-6.4zM507.7 680.9l3.2 5.6h-6.4zM508.6 677.9l3.2 5.6h-6.4zM509.6 676.8l3.2 5.6h-6.4zM510.5 676.2l3.2 5.6h-6.4zM511.4 674.1l3.2 5.6h-6.4zM512.3 673.5l3.2 5.6h-6.4zM513.2 673.6l3.2 5.6h-6.4zM514.2 672.7l3.2 5.6h-6.4zM515.1 670.5l3.2 5.6h-6.4zM516.0 667.6l3.2 5.6h-6.4zM516.9 667.9l3.2 5.6h-6.4zM517.8 667.1l3.2 5.6h-6.4zM518.8 665.7l3.2 5.6h-6.4zM519.7 665.4l3.2 5.6h-6.4zM520.6 662.7l3.2 5.6h-6.4zM521.5 662.7l3.2 5.6h-6.4zM522.4 659.9l3.2 5.6h-6.4zM523.3 661.7l3.2 5.6h-6.4zM524.3 657.8l3.2 5.6h-6.4zM525.2 657.7l3.2 5.6h-6.4zM526.1 658.0l3.2 5.6h-6.4zM527.0 654.1l3.2 5.6h-6.4zM527.9 654.1l3.2 5.6h-6.4zM528.9 655.1l3.2 5.6h-6.4zM529.8 652.7l3.2 5.6h-6.4zM530.7 650.4l3.2 5.6h-6.4zM531.6 650.2l3.2 5.6h-6.4zM532.5 647.9l3.2 5.6h-6.4zM533.5 647.0l3.2 5.6h-6.4zM534.4 646.1l3.2 5.6h-6.4zM535.3 645.5l3.2 5.6h-6.4zM536.2 643.6l3.2 5.6h-6.4zM536.8 643.6l3.2 5.6h-6.4zM538.8 642.0l3.2 5.6h-6.4zM540.7 642.7l3.2 5.6h-6.4zM542.6 637.8l3.2 5.6h-6.4zM544.5 635.6l3.2 5.6h-6.4zM546.5 635.6l3.2 5.6h-6.4zM548.4 634.1l3.2 5.6h-6.4zM550.3 630.0l3.2 5.6h-6.4zM552.3 632.3l3.2 5.6h-6.4zM554.2 628.4l3.2 5.6h-6.4zM556.1 624.9l3.2 5.6h-6.4zM558.0 626.9l3.2 5.6h-6.4zM560.0 623.8l3.2 5.6h-6.4zM561.9 621.2l3.2 5.6h-6.4zM563.8 621.9l3.2 5.6h-6.4zM565.7 619.9l3.2 5.6h-6.4zM567.7 618.3l3.2 5.6h-6.4zM569.6 618.9l3.2 5.6h-6.4zM571.5 616.9l3.2 5.6h-6.4zM573.5 615.3l3.2 5.6h-6.4zM575.4 613.6l3.2 5.6h-6.4zM577.3 613.4l3.2 5.6h-6.4zM579.2 612.4l3.2 5.6h-6.4zM581.2 612.2l3.2 5.6h-6.4zM583.1 610.5l3.2 5.6h-6.4zM585.0 608.2l3.2 5.6h-6.4zM586.9 608.1l3.2 5.6h-6.4zM588.9 608.1l3.2 5.6h-6.4zM590.8 607.2l3.2 5.6h-6.4zM592.7 602.6l3.2 5.6h-6.4zM594.7 603.3l3.2 5.6h-6.4zM596.6 603.0l3.2 5.6h-6.4zM598.2 605.7l3.2 5.6h-6.4zM602.5 600.5l3.2 5.6h-6.4zM606.9 599.0l3.2 5.6h-6.4zM611.3 596.1l3.2 5.6h-6.4zM615.7 595.9l3.2 5.6h-6.4zM620.1 595.0l3.2 5.6h-6.4zM624.4 593.1l3.2 5.6h-6.4zM628.8 594.4l3.2 5.6h-6.4zM633.2 590.1l3.2 5.6h-6.4zM637.6 589.7l3.2 5.6h-6.4zM642.0 589.7l3.2 5.6h-6.4zM646.3 586.6l3.2 5.6h-6.4zM650.7 585.2l3.2 5.6h-6.4zM655.1 587.7l3.2 5.6h-6.4zM659.5 586.1l3.2 5.6h-6.4zM663.9 584.3l3.2 5.6h-6.4zM668.2 583.7l3.2 5.6h-6.4zM672.6 583.6l3.2 5.6h-6.4zM677.0 583.6l3.2 5.6h-6.4zM681.4 579.8l3.2 5.6h-6.4zM685.8 580.3l3.2 5.6h-6.4z" fill="#1e00ff"/>
<path d="M394.9 563.9h0M395.6 564.2h0M396.3 559.7h0M397.0 560.8h0M397.7 559.5h0M398.4 561.0h0M399.1 563.5h0M399.8 561.8h0M400.5 565.4h0M401.2 563.3h0M401.9 562.3h0M402.6 561.5h0M403.3 563.3h0M404.0 562.5h0M404.7 561.6h0M405.4 561.7h0M406.1 561.4h0M406.8 562.0h0M407.5 562.8h0M408.2 561.2h0M408.9 562.3h0M409.6 563.6h0M410.3 563.3h0M411.0 562.5h0M411.7 562.7h0M412.4 562.4h0M413.1 562.8h0M413.8 562.8h0M414.6 563.8h0M415.3 567.1h0M416.0 566.3h0M416.7 566.9h0M417.4 569.3h0M418.1 572.0h0M418.6 572.5h0M419.5 578.0h0M420.5 585.4h0M421.5 591.4h0M422.4 601.4h0M423.4 606.6h0M424.4 616.9h0M425.3 627.1h0M426.3 633.2h0M427.3 638.1h0M428.2 650.1h0M429.2 661.2h0M430.1 670.1h0M431.1 677.8h0M432.1 687.4h0M433.0 697.4h0M434.0 705.2h0M435.0 716.1h0M435.9 726.5h0M436.9 735.0h0M437.9 742.3h0M438.8 750.4h0M439.8 756.2h0M440.7 763.7h0M441.7 765.4h0M442.7 765.4h0M443.6 765.2h0M444.6 760.1h0M445.6 758.2h0M446.5 755.3h0M447.5 754.7h0M448.5 748.3h0M449.4 748.0h0M450.4 747.9h0M451.3 745.2h0M452.3 739.4h0M453.3 741.5h0M454.2 737.6h0M455.2 735.3h0M456.2 734.7h0M457.1 734.3h0M458.1 730.4h0M459.1 728.1h0M460.0 725.0h0M461.0 723.6h0M461.9 722.8h0M462.9 719.7h0M463.9 718.2h0M464.8 716.9h0M465.8 715.3h0M466.8 713.9h0M467.7 710.8h0M468.7 711.6h0M469.7 709.2h0M470.6 706.6h0M471.6 707.0h0M472.5 703.9h0M473.5 704.5h0M474.5 700.9h0M475.4 697.5h0M476.4 695.9h0M477.4 695.3h0M478.3 694.0h0M479.3 694.2h0M480.3 687.9h0M481.2 688.4h0M482.2 686.1h0M483.1 687.5h0M484.1 685.1h0M485.1 686.0h0M486.0 680.8h0M487.0 679.2h0M488.0 682.0h0M488.9 678.0h0M489.9 675.6h0M490.9 677.8h0M491.8 676.6h0M492.8 674.2h0M493.7 672.4h0M494.7 672.2h0M495.7 668.9h0M496.6 667.4h0M497.6 665.6h0M498.6 664.4h0M499.5 662.0h0M500.5 661.4h0M501.4 663.8h0M502.4 661.5h0M503.4 661.2h0M504.3 660.2h0M505.3 657.6h0M506.3 656.4h0M507.2 654.7h0M508.2 656.7h0M509.2 655.1h0M510.1 652.4h0M511.1 651.6h0M512.0 650.8h0M513.0 649.5h0M514.0 649.5h0M514.9 646.4h0M515.9 646.0h0M516.9 645.7h0M517.8 645.7h0M518.8 644.0h0M519.8 646.8h0M520.7 643.4h0M521.7 641.1h0M522.6 642.5h0M523.6 639.1h0M524.6 638.4h0M525.5 639.8h0M526.5 637.3h0M527.5 636.6h0M528.1 635.0h0M530.3 633.0h0M532.5 632.2h0M534.6 631.7h0M536.8 629.0h0M539.0 627.3h0M541.2 624.6h0M543.4 623.8h0M545.6 623.8h0M547.8 623.3h0M550.0 620.5h0M552.2 619.7h0M554.4 619.0h0M556.5 616.3h0M558.7 615.7h0M560.9 613.7h0M563.1 612.0h0M565.3 612.3h0M567.5 607.2h0M569.7 610.1h0M571.9 607.0h0M574.1 607.5h0M576.3 605.1h0M578.4 609.3h0M580.6 606.1h0M582.8 603.8h0M585.0 602.5h0M587.2 599.1h0M589.4 601.3h0M589.4 599.9h0M594.7 598.9h0M599.9 597.0h0M605.2 596.1h0M610.4 595.7h0M615.7 593.4h0M620.9 594.6h0M626.2 590.1h0M631.4 592.3h0M636.7 589.5h0M642.0 585.9h0M647.2 588.5h0M652.5 587.4h0M657.7 585.0h0M663.0 586.0h0M668.2 586.6h0M673.5 584.5h0M678.8 583.5h0M684.0 582.9h0" stroke="#000" stroke-width="5.0" stroke-linecap="round" fill="none"/>
<path d="M394.9 562.2 395.8 562.2 396.7 562.2 397.6 562.2 398.4 562.2 399.3 562.2 400.2 562.2 401.1 562.2 401.9 562.2 402.8 562.3 403.7 562.3 404.6 562.3 405.4 562.3 406.3 562.3 407.2 562.3 408.1 562.3 408.9 562.4 409.8 562.4 410.7 562.4 411.6 562.5 412.4 562.7 413.3 562.9 414.2 563.2 415.1 564.8 416.0 566.9 416.8 568.8 417.7 570.8 418.6 573.2 419.5 576.3 420.3 581.3 421.2 589.0 422.1 597.2 423.0 604.2 423.8 611.1 424.7 618.2 425.6 625.6 426.5 633.3 427.3 641.3 428.2 649.6 429.1 658.3 430.0 667.2 430.8 676.0 431.7 684.6 432.6 693.3 433.5 702.0 434.3 710.9 435.2 719.7 436.1 728.1 437.0 736.7 437.9 744.7 438.7 751.2 439.6 756.7 440.5 761.1 441.4 764.1 442.2 766.3 443.1 766.0 444.0 763.7 444.9 760.9 445.7 758.6 446.6 756.5 447.5 754.3 448.4 752.3 449.2 750.2 450.1 748.1 451.0 746.1 451.9 744.1 452.7 742.2 453.6 740.2 454.5 738.3 455.4 736.4 456.2 734.5 457.1 732.6 458.0 730.8 458.9 729.0 459.8 727.2 460.6 725.4 461.5 723.7 462.4 721.9 463.3 720.2 464.1 718.5 465.0 716.8 465.9 715.2 466.8 713.6 467.6 711.9 468.5 710.3 469.4 708.8 470.3 707.2 471.1 705.7 472.0 704.1 472.9 702.6 473.8 701.1 474.6 699.7 475.5 698.2 476.4 696.8 477.3 695.3 478.1 693.9 479.0 692.5 479.9 691.2 480.8 689.8 481.7 688.5 482.5 687.1 483.4 685.8 484.3 684.5 485.2 683.2 486.0 682.0 486.9 680.7 487.8 679.5 488.7 678.3 489.5 677.0 490.4 675.9 491.3 674.7 492.2 673.5 493.0 672.3 493.9 671.2 494.8 670.1 495.7 669.0 496.5 667.9 497.4 666.8 498.3 665.7 499.2 664.6 500.0 663.6 500.9 662.5 501.8 661.5 502.7 660.5 503.6 659.5 504.4 658.5 505.3 657.5 506.2 656.6 507.1 655.6 507.9 654.6 508.8 653.7 509.7 652.8 510.6 651.9 511.4 651.0 512.3 650.1 513.2 649.2 514.1 648.3 514.9 647.4 515.8 646.6 516.7 645.8 517.6 644.9 518.4 644.1 519.3 643.3 520.2 642.5 521.1 641.7 521.9 640.9 522.8 640.1 523.7 639.3 524.6 638.6 525.5 637.8 526.3 637.1 527.2 636.4 528.1 635.6 529.0 634.9 529.8 634.2 530.7 633.5 531.6 632.8 532.5 632.1 533.3 631.5 534.2 630.8 535.1 630.1 536.0 629.5 536.8 628.8 537.7 628.2 538.6 627.6 539.5 626.9 540.3 626.3 541.2 625.7 542.1 625.1 543.0 624.5 543.8 623.9 544.7 623.3 545.6 622.8 546.5 622.2 547.4 621.6 548.2 621.1 549.1 620.5 550.0 620.0 550.9 619.5 551.7 618.9 552.6 618.4 553.5 617.9 554.4 617.4 555.2 616.9 556.1 616.3 557.0 615.8 557.9 615.3 558.7 614.8 559.6 614.3 560.5 613.8 561.4 613.3 562.2 612.8 563.1 612.4 564.0 611.9 564.9 611.4 565.7 611.0 566.6 610.5 567.5 610.1 568.4 609.6 569.3 609.2 570.1 608.7 571.0 608.3 571.9 607.9 572.8 607.5 573.6 607.0 574.5 606.6 575.4 606.2 576.3 605.8 577.1 605.4 578.0 605.0 578.9 604.6 579.8 604.3 580.6 603.9 581.5 603.5 582.4 603.1 583.3 602.8 584.1 602.4 585.0 602.0 585.9 601.7 586.8 601.3 587.6 601.0 588.5 600.6 589.4 600.3 590.3 599.9 591.2 599.6 592.0 599.3 592.9 598.9 593.8 598.6 594.7 598.3 595.5 598.0 596.4 597.7 597.3 597.4 598.2 597.1 599.0 596.7 599.9 596.4 600.8 596.1 601.7 595.9 602.5 595.6 603.4 595.3 604.3 595.0 605.2 594.7 606.0 594.4 606.9 594.2 607.8 593.9 608.7 593.6 609.5 593.3 610.4 593.1 611.3 592.8 612.2 592.6 613.1 592.3 613.9 592.1 614.8 591.8 615.7 591.6 616.6 591.3 617.4 591.1 618.3 590.8 619.2 590.6 620.1 590.4 620.9 590.1 621.8 589.9 622.7 589.7 623.6 589.4 624.4 589.2 625.3 589.0 626.2 588.8 627.1 588.6 627.9 588.4 628.8 588.1 629.7 587.9 630.6 587.7 631.4 587.5 632.3 587.3 633.2 587.1 634.1 586.9 635.0 586.7 635.8 586.5 636.7 586.3 637.6 586.1 638.5 586.0 639.3 585.8 640.2 585.6 641.1 585.4 642.0 585.2 642.8 585.0 643.7 584.9 644.6 584.7 645.5 584.5 646.3 584.3 647.2 584.2 648.1 584.0 649.0 583.8 649.8 583.7 650.7 583.5 651.6 583.4 652.5 583.2 653.3 583.0 654.2 582.9 655.1 582.7 656.0 582.6 656.9 582.4 657.7 582.3 658.6 582.1 659.5 582.0 660.4 581.8 661.2 581.7 662.1 581.5 663.0 581.4 663.9 581.3 664.7 581.1 665.6 581.0 666.5 580.8 667.4 580.7 668.2 580.6 669.1 580.4 670.0 580.3 670.9 580.2 671.7 580.1 672.6 579.9 673.5 579.8 674.4 579.7 675.2 579.6 676.1 579.4 677.0 579.3 677.9 579.2 678.8 579.1 679.6 578.9 680.5 578.8 681.4 578.7 682.3 578.6 683.1 578.5" stroke="#000" stroke-width="2.40" fill="none" stroke-linejoin="round"/>
</g>
<rect x="396.5" y="550.0" width="280.1" height="225.9" fill="none" stroke="#000" stroke-width="2"/>
<path d="M392.0 558.0h4.5M392.0 599.7h4.5M392.0 641.4h4.5M392.0 683.1h4.5M392.0 724.8h4.5M392.0 766.5h4.5" stroke="#000" stroke-width="2" fill="none"/>
<text transform="translate(388.9 561.6) scale(1 1.120)" font-size="11.70" font-weight="bold" text-anchor="end" fill="#000">0.0</text>
<text transform="translate(388.9 603.3) scale(1 1.120)" font-size="11.70" font-weight="bold" text-anchor="end" fill="#000">-0.2</text>
<text transform="translate(388.9 645.0) scale(1 1.120)" font-size="11.70" font-weight="bold" text-anchor="end" fill="#000">-0.4</text>
<text transform="translate(388.9 686.7) scale(1 1.120)" font-size="11.70" font-weight="bold" text-anchor="end" fill="#000">-0.6</text>
<text transform="translate(388.9 728.4) scale(1 1.120)" font-size="11.70" font-weight="bold" text-anchor="end" fill="#000">-0.8</text>
<text transform="translate(388.9 770.1) scale(1 1.120)" font-size="11.70" font-weight="bold" text-anchor="end" fill="#000">-1.0</text>
<path d="M414.2 775.9v4.0M501.8 775.9v4.0M589.4 775.9v4.0M677.0 775.9v4.0" stroke="#000" stroke-width="2" fill="none"/>
<text transform="translate(414.2 793.7) scale(1 1.120)" font-size="11.70" font-weight="bold" text-anchor="middle" fill="#000">0</text>
<text transform="translate(501.8 793.7) scale(1 1.120)" font-size="11.70" font-weight="bold" text-anchor="middle" fill="#000">1</text>
<text transform="translate(589.4 793.7) scale(1 1.120)" font-size="11.70" font-weight="bold" text-anchor="middle" fill="#000">2</text>
<text transform="translate(677.0 793.7) scale(1 1.120)" font-size="11.70" font-weight="bold" text-anchor="middle" fill="#000">3</text>
<path d="M447 634.2H462" stroke="#ff1f1f" stroke-width="1.6"/>
<path d="M442.7 634.2l5.5 -3v6z M466.3 634.2l-5.5 -3v6z" fill="#ff1f1f"/>
<text x="445.8" y="626.3" font-size="13.40" font-weight="bold" text-anchor="start" fill="#000" textLength="15.2" lengthAdjust="spacingAndGlyphs">&#916;&#964;</text>
<text x="461.2" y="629.2" font-size="9.00" font-weight="bold" text-anchor="start" fill="#000" textLength="3.8" lengthAdjust="spacingAndGlyphs">r</text>
<text x="472.0" y="569.4" font-size="15.20" font-weight="bold" text-anchor="start" fill="#000" textLength="49.6" lengthAdjust="spacingAndGlyphs">V-MoS</text>
<text x="522.3" y="573.8" font-size="10.80" font-weight="bold" text-anchor="start" fill="#000" textLength="5.6" lengthAdjust="spacingAndGlyphs">2</text>
<text x="549.2" y="568.8" font-size="15.30" font-weight="bold" text-anchor="start" fill="#000" textLength="117.7" lengthAdjust="spacingAndGlyphs">Pump &#8211; 1.85 eV</text>
<text x="504.4" y="756.6" font-size="16.00" font-weight="bold" text-anchor="start" fill="#000" textLength="17.6" lengthAdjust="spacingAndGlyphs">&#916;&#964;</text>
<text x="522.3" y="760.0" font-size="10.00" font-weight="bold" text-anchor="start" fill="#000" textLength="4.2" lengthAdjust="spacingAndGlyphs">r</text>
<text x="527.3" y="756.6" font-size="16.00" font-weight="bold" text-anchor="start" fill="#000" textLength="65.2" lengthAdjust="spacingAndGlyphs">&#8776; 0.09 ps</text>
<rect x="527.1" y="680.5" width="80.8" height="39.4" fill="#e2e2e2"/>
<rect x="526.1" y="679.5" width="80.8" height="39.4" fill="#fff" stroke="#b8b8b8" stroke-width="1"/>
<circle cx="542.3" cy="688.2" r="2.9" fill="#000"/>
<path d="M542.3 703.9l3.3 5.8h-6.6z" fill="#2010ff"/>
<text x="560.9" y="692.9" font-size="12.40" font-weight="bold" text-anchor="start" fill="#000" textLength="43.5" lengthAdjust="spacingAndGlyphs">0.31 eV</text>
<text x="560.9" y="711.6" font-size="12.40" font-weight="bold" text-anchor="start" fill="#000" textLength="43.5" lengthAdjust="spacingAndGlyphs">0.62 eV</text>
<text x="355.0" y="572.8" font-size="19.00" font-weight="normal" text-anchor="start" fill="#000" textLength="18.2" lengthAdjust="spacingAndGlyphs">(f)</text>
<text x="522.1" y="807.5" font-size="12.60" font-weight="bold" text-anchor="middle" fill="#000" textLength="93.2" lengthAdjust="spacingAndGlyphs">Decay time (ps)</text>
<text transform="translate(361.0 662.9) rotate(-90)" x="0" y="0" font-size="12.40" font-weight="bold" text-anchor="middle" textLength="142.0" lengthAdjust="spacingAndGlyphs">Normalized <tspan font-weight="normal">&#916;</tspan>T/T (mOD)</text>
</svg>
</body></html>
